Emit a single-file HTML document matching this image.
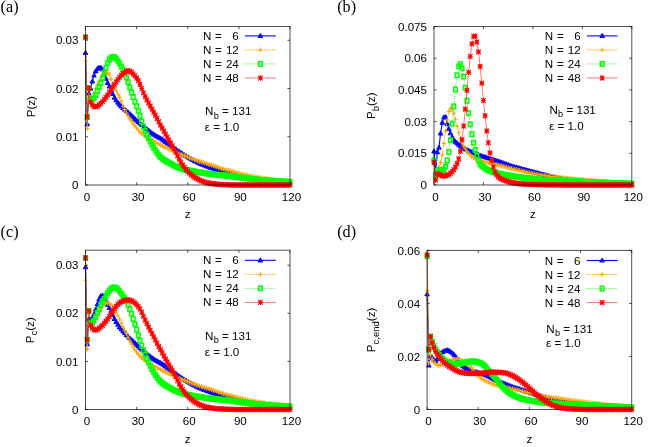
<!DOCTYPE html>
<html><head><meta charset="utf-8"><title>chart</title>
<style>html,body{margin:0;padding:0;background:#fff}svg{display:block;will-change:transform}text{font-family:"Liberation Sans",sans-serif;fill:#000}</style>
</head><body>
<svg width="649" height="447" viewBox="0 0 649 447">
<rect width="649" height="447" fill="#fff"/>
<text x="87.00" y="200.80" text-anchor="middle" font-size="11.6">0</text>
<text x="138.12" y="200.80" text-anchor="middle" font-size="11.6">30</text>
<text x="189.25" y="200.80" text-anchor="middle" font-size="11.6">60</text>
<text x="240.38" y="200.80" text-anchor="middle" font-size="11.6">90</text>
<text x="291.50" y="200.80" text-anchor="middle" font-size="11.6">120</text>
<text x="78.50" y="189.10" text-anchor="end" font-size="11.6">0</text>
<text x="78.50" y="140.87" text-anchor="end" font-size="11.6">0.01</text>
<text x="78.50" y="92.64" text-anchor="end" font-size="11.6">0.02</text>
<text x="78.50" y="44.41" text-anchor="end" font-size="11.6">0.03</text>
<path d="M85.50,185.0v-2.6M85.50,26.5v2.6M136.62,185.0v-2.6M136.62,26.5v2.6M187.75,185.0v-2.6M187.75,26.5v2.6M238.88,185.0v-2.6M238.88,26.5v2.6M290.00,185.0v-2.6M290.00,26.5v2.6M85.5,185.00h2.6M290.0,185.00h-2.6M85.5,136.77h2.6M290.0,136.77h-2.6M85.5,88.54h2.6M290.0,88.54h-2.6M85.5,40.31h2.6M290.0,40.31h-2.6" stroke="#000" stroke-opacity="0.72" stroke-width="0.95" fill="none"/>
<text x="187.75" y="218.20" text-anchor="middle" font-size="11.6">z</text>
<text transform="translate(34.9,106.65) rotate(-90)" text-anchor="middle" font-size="11.6">P(z)</text>
<text x="0.6" y="12.4" style="font-family:&quot;Liberation Serif&quot;,serif" font-size="16.2">(a)</text>
<text x="203.00" y="40.00" font-size="11.6" word-spacing="0.5">N =</text>
<text x="238.80" y="40.00" text-anchor="end" font-size="11.6">6</text>
<g stroke="#0000ff"><path d="M245.00,35.90H275.80" stroke-width="1.1" fill="none"/><g stroke-width="1.3" fill="#0000ff" fill-opacity="0.5" stroke-linejoin="round"><path d="M260.40,33.90L262.40,37.34L258.40,37.34Z"/></g></g>
<text x="203.00" y="54.03" font-size="11.6" word-spacing="0.5">N =</text>
<text x="238.80" y="54.03" text-anchor="end" font-size="11.6">12</text>
<g stroke="#ffa500"><path d="M245.00,49.93H275.80" stroke-width="0.9" stroke-dasharray="1.7,1.0" fill="none"/><g stroke-width="1.05" fill="none"><path d="M258.30,49.93H262.50M260.40,47.52V52.34"/></g></g>
<text x="203.00" y="68.06" font-size="11.6" word-spacing="0.5">N =</text>
<text x="238.80" y="68.06" text-anchor="end" font-size="11.6">24</text>
<g stroke="#00ff00"><path d="M245.00,63.96H275.80" stroke-width="0.9" stroke-dasharray="1,1.4" fill="none"/><g stroke-width="1.5" fill="none"><rect x="258.58" y="61.74" width="3.64" height="4.44"/></g></g>
<text x="203.00" y="82.09" font-size="11.6" word-spacing="0.5">N =</text>
<text x="238.80" y="82.09" text-anchor="end" font-size="11.6">48</text>
<g stroke="#ff0000"><path d="M245.00,77.99H275.80" stroke-width="0.55" fill="none"/><g stroke-width="1.15" fill="none" stroke-linecap="round"><path d="M258.50,77.99H262.30M260.40,75.90V80.08M258.50,75.90L262.30,80.08M258.50,80.08L262.30,75.90"/></g></g>
<text x="205.00" y="115.40" font-size="11.6">N<tspan font-size="9.28" dy="3.3" dx="0.3">b</tspan><tspan dy="-3.3"> = 131</tspan></text>
<text x="204.80" y="131.10" font-size="11.6">ε = 1.0</text>
<g stroke="#0000ff"><polyline points="85.50,52.80 87.20,124.23 88.91,93.36 90.61,88.54 92.32,81.31 94.02,75.52 95.72,71.18 97.43,68.77 99.13,67.56 100.84,67.80 102.54,69.25 104.25,73.11 105.95,78.69 107.65,82.86 109.36,86.29 111.06,89.99 112.77,94.03 114.47,97.60 116.17,100.28 117.88,102.56 119.58,104.56 121.29,106.39 122.99,108.03 124.70,109.50 126.40,110.90 128.10,112.35 129.81,113.92 131.51,115.54 133.22,117.17 134.92,118.80 136.62,120.37 138.33,121.90 140.03,123.41 141.74,124.88 143.44,126.30 145.15,127.72 146.85,129.13 148.55,130.53 150.26,131.89 151.96,133.19 153.67,134.40 155.37,135.52 157.07,136.47 158.78,137.33 160.48,138.27 162.19,139.36 163.89,140.55 165.60,141.81 167.30,143.10 169.00,144.39 170.71,145.65 172.41,146.88 174.12,148.12 175.82,149.35 177.52,150.56 179.23,151.72 180.93,152.85 182.64,153.95 184.34,155.02 186.05,156.06 187.75,157.08 189.45,158.07 191.16,159.05 192.86,159.99 194.57,160.90 196.27,161.75 197.97,162.55 199.68,163.31 201.38,164.04 203.09,164.74 204.79,165.42 206.50,166.08 208.20,166.72 209.90,167.34 211.61,167.94 213.31,168.51 215.02,169.04 216.72,169.55 218.42,170.04 220.13,170.53 221.83,171.01 223.54,171.50 225.24,171.98 226.95,172.46 228.65,172.94 230.35,173.43 232.06,173.92 233.76,174.43 235.47,174.93 237.17,175.40 238.88,175.84 240.58,176.23 242.28,176.62 243.99,176.98 245.69,177.34 247.40,177.68 249.10,178.01 250.80,178.32 252.51,178.63 254.21,178.93 255.92,179.21 257.62,179.49 259.32,179.77 261.03,180.03 262.73,180.29 264.44,180.54 266.14,180.78 267.85,181.01 269.55,181.23 271.25,181.44 272.96,181.62 274.66,181.80 276.37,181.98 278.07,182.14 279.77,182.30 281.48,182.45 283.18,182.60 284.89,182.73 286.59,182.85 288.30,182.97 290.00,183.07" stroke-width="1.1" fill="none"/><g stroke-width="1.3" fill="#0000ff" fill-opacity="0.5" stroke-linejoin="round"><path d="M85.50,50.80L87.50,54.24L83.50,54.24Z"/><path d="M87.20,122.23L89.20,125.67L85.20,125.67Z"/><path d="M88.91,91.36L90.91,94.80L86.91,94.80Z"/><path d="M90.61,86.54L92.61,89.98L88.61,89.98Z"/><path d="M92.32,79.31L94.32,82.75L90.32,82.75Z"/><path d="M94.02,73.52L96.02,76.96L92.02,76.96Z"/><path d="M95.72,69.18L97.72,72.62L93.72,72.62Z"/><path d="M97.43,66.77L99.43,70.21L95.43,70.21Z"/><path d="M99.13,65.56L101.13,69.00L97.13,69.00Z"/><path d="M100.84,65.80L102.84,69.24L98.84,69.24Z"/><path d="M102.54,67.25L104.54,70.69L100.54,70.69Z"/><path d="M104.25,71.11L106.25,74.55L102.25,74.55Z"/><path d="M105.95,76.69L107.95,80.13L103.95,80.13Z"/><path d="M107.65,80.86L109.65,84.30L105.65,84.30Z"/><path d="M109.36,84.29L111.36,87.73L107.36,87.73Z"/><path d="M111.06,87.99L113.06,91.43L109.06,91.43Z"/><path d="M112.77,92.03L114.77,95.47L110.77,95.47Z"/><path d="M114.47,95.60L116.47,99.04L112.47,99.04Z"/><path d="M116.17,98.28L118.17,101.72L114.17,101.72Z"/><path d="M117.88,100.56L119.88,104.00L115.88,104.00Z"/><path d="M119.58,102.56L121.58,106.00L117.58,106.00Z"/><path d="M121.29,104.39L123.29,107.83L119.29,107.83Z"/><path d="M122.99,106.03L124.99,109.47L120.99,109.47Z"/><path d="M124.70,107.50L126.70,110.94L122.70,110.94Z"/><path d="M126.40,108.90L128.40,112.34L124.40,112.34Z"/><path d="M128.10,110.35L130.10,113.79L126.10,113.79Z"/><path d="M129.81,111.92L131.81,115.36L127.81,115.36Z"/><path d="M131.51,113.54L133.51,116.98L129.51,116.98Z"/><path d="M133.22,115.17L135.22,118.61L131.22,118.61Z"/><path d="M134.92,116.80L136.92,120.24L132.92,120.24Z"/><path d="M136.62,118.37L138.62,121.81L134.62,121.81Z"/><path d="M138.33,119.90L140.33,123.34L136.33,123.34Z"/><path d="M140.03,121.41L142.03,124.85L138.03,124.85Z"/><path d="M141.74,122.88L143.74,126.32L139.74,126.32Z"/><path d="M143.44,124.30L145.44,127.74L141.44,127.74Z"/><path d="M145.15,125.72L147.15,129.16L143.15,129.16Z"/><path d="M146.85,127.13L148.85,130.57L144.85,130.57Z"/><path d="M148.55,128.53L150.55,131.97L146.55,131.97Z"/><path d="M150.26,129.89L152.26,133.33L148.26,133.33Z"/><path d="M151.96,131.19L153.96,134.63L149.96,134.63Z"/><path d="M153.67,132.40L155.67,135.84L151.67,135.84Z"/><path d="M155.37,133.52L157.37,136.96L153.37,136.96Z"/><path d="M157.07,134.47L159.07,137.91L155.07,137.91Z"/><path d="M158.78,135.33L160.78,138.77L156.78,138.77Z"/><path d="M160.48,136.27L162.48,139.71L158.48,139.71Z"/><path d="M162.19,137.36L164.19,140.80L160.19,140.80Z"/><path d="M163.89,138.55L165.89,141.99L161.89,141.99Z"/><path d="M165.60,139.81L167.60,143.25L163.60,143.25Z"/><path d="M167.30,141.10L169.30,144.54L165.30,144.54Z"/><path d="M169.00,142.39L171.00,145.83L167.00,145.83Z"/><path d="M170.71,143.65L172.71,147.09L168.71,147.09Z"/><path d="M172.41,144.88L174.41,148.32L170.41,148.32Z"/><path d="M174.12,146.12L176.12,149.56L172.12,149.56Z"/><path d="M175.82,147.35L177.82,150.79L173.82,150.79Z"/><path d="M177.52,148.56L179.52,152.00L175.52,152.00Z"/><path d="M179.23,149.72L181.23,153.16L177.23,153.16Z"/><path d="M180.93,150.85L182.93,154.29L178.93,154.29Z"/><path d="M182.64,151.95L184.64,155.39L180.64,155.39Z"/><path d="M184.34,153.02L186.34,156.46L182.34,156.46Z"/><path d="M186.05,154.06L188.05,157.50L184.05,157.50Z"/><path d="M187.75,155.08L189.75,158.52L185.75,158.52Z"/><path d="M189.45,156.07L191.45,159.51L187.45,159.51Z"/><path d="M191.16,157.05L193.16,160.49L189.16,160.49Z"/><path d="M192.86,157.99L194.86,161.43L190.86,161.43Z"/><path d="M194.57,158.90L196.57,162.34L192.57,162.34Z"/><path d="M196.27,159.75L198.27,163.19L194.27,163.19Z"/><path d="M197.97,160.55L199.97,163.99L195.97,163.99Z"/><path d="M199.68,161.31L201.68,164.75L197.68,164.75Z"/><path d="M201.38,162.04L203.38,165.48L199.38,165.48Z"/><path d="M203.09,162.74L205.09,166.18L201.09,166.18Z"/><path d="M204.79,163.42L206.79,166.86L202.79,166.86Z"/><path d="M206.50,164.08L208.50,167.52L204.50,167.52Z"/><path d="M208.20,164.72L210.20,168.16L206.20,168.16Z"/><path d="M209.90,165.34L211.90,168.78L207.90,168.78Z"/><path d="M211.61,165.94L213.61,169.38L209.61,169.38Z"/><path d="M213.31,166.51L215.31,169.95L211.31,169.95Z"/><path d="M215.02,167.04L217.02,170.48L213.02,170.48Z"/><path d="M216.72,167.55L218.72,170.99L214.72,170.99Z"/><path d="M218.42,168.04L220.42,171.48L216.42,171.48Z"/><path d="M220.13,168.53L222.13,171.97L218.13,171.97Z"/><path d="M221.83,169.01L223.83,172.45L219.83,172.45Z"/><path d="M223.54,169.50L225.54,172.94L221.54,172.94Z"/><path d="M225.24,169.98L227.24,173.42L223.24,173.42Z"/><path d="M226.95,170.46L228.95,173.90L224.95,173.90Z"/><path d="M228.65,170.94L230.65,174.38L226.65,174.38Z"/><path d="M230.35,171.43L232.35,174.87L228.35,174.87Z"/><path d="M232.06,171.92L234.06,175.36L230.06,175.36Z"/><path d="M233.76,172.43L235.76,175.87L231.76,175.87Z"/><path d="M235.47,172.93L237.47,176.37L233.47,176.37Z"/><path d="M237.17,173.40L239.17,176.84L235.17,176.84Z"/><path d="M238.88,173.84L240.88,177.28L236.88,177.28Z"/><path d="M240.58,174.23L242.58,177.67L238.58,177.67Z"/><path d="M242.28,174.62L244.28,178.06L240.28,178.06Z"/><path d="M243.99,174.98L245.99,178.42L241.99,178.42Z"/><path d="M245.69,175.34L247.69,178.78L243.69,178.78Z"/><path d="M247.40,175.68L249.40,179.12L245.40,179.12Z"/><path d="M249.10,176.01L251.10,179.45L247.10,179.45Z"/><path d="M250.80,176.32L252.80,179.76L248.80,179.76Z"/><path d="M252.51,176.63L254.51,180.07L250.51,180.07Z"/><path d="M254.21,176.93L256.21,180.37L252.21,180.37Z"/><path d="M255.92,177.21L257.92,180.65L253.92,180.65Z"/><path d="M257.62,177.49L259.62,180.93L255.62,180.93Z"/><path d="M259.32,177.77L261.32,181.21L257.32,181.21Z"/><path d="M261.03,178.03L263.03,181.47L259.03,181.47Z"/><path d="M262.73,178.29L264.73,181.73L260.73,181.73Z"/><path d="M264.44,178.54L266.44,181.98L262.44,181.98Z"/><path d="M266.14,178.78L268.14,182.22L264.14,182.22Z"/><path d="M267.85,179.01L269.85,182.45L265.85,182.45Z"/><path d="M269.55,179.23L271.55,182.67L267.55,182.67Z"/><path d="M271.25,179.44L273.25,182.88L269.25,182.88Z"/><path d="M272.96,179.62L274.96,183.06L270.96,183.06Z"/><path d="M274.66,179.80L276.66,183.24L272.66,183.24Z"/><path d="M276.37,179.98L278.37,183.42L274.37,183.42Z"/><path d="M278.07,180.14L280.07,183.58L276.07,183.58Z"/><path d="M279.77,180.30L281.77,183.74L277.77,183.74Z"/><path d="M281.48,180.45L283.48,183.89L279.48,183.89Z"/><path d="M283.18,180.60L285.18,184.04L281.18,184.04Z"/><path d="M284.89,180.73L286.89,184.17L282.89,184.17Z"/><path d="M286.59,180.85L288.59,184.29L284.59,184.29Z"/><path d="M288.30,180.97L290.30,184.41L286.30,184.41Z"/><path d="M290.00,181.07L292.00,184.51L288.00,184.51Z"/></g></g>
<g stroke="#ffa500"><polyline points="85.50,60.91 87.20,128.57 88.91,95.78 90.61,100.60 92.32,98.31 94.02,93.34 95.72,88.54 97.43,84.79 99.13,81.18 100.84,77.93 102.54,74.72 104.25,72.63 105.95,72.14 107.65,72.89 109.36,74.81 111.06,79.14 112.77,83.82 114.47,87.43 116.17,90.82 117.88,94.16 119.58,97.36 121.29,101.32 122.99,105.90 124.70,109.64 126.40,113.03 128.10,116.09 129.81,118.83 131.51,121.34 133.22,123.66 134.92,125.85 136.62,127.97 138.33,130.02 140.03,131.89 141.74,133.49 143.44,134.86 145.15,136.10 146.85,137.24 148.55,138.30 150.26,139.31 151.96,140.29 153.67,141.25 155.37,142.22 157.07,143.18 158.78,144.09 160.48,144.97 162.19,145.82 163.89,146.64 165.60,147.44 167.30,148.23 169.00,149.01 170.71,149.79 172.41,150.58 174.12,151.37 175.82,152.15 177.52,152.91 179.23,153.65 180.93,154.36 182.64,155.03 184.34,155.70 186.05,156.36 187.75,157.03 189.45,157.72 191.16,158.42 192.86,159.11 194.57,159.78 196.27,160.40 197.97,160.97 199.68,161.51 201.38,162.03 203.09,162.54 204.79,163.06 206.50,163.58 208.20,164.11 209.90,164.63 211.61,165.16 213.31,165.71 215.02,166.28 216.72,166.87 218.42,167.47 220.13,168.05 221.83,168.60 223.54,169.11 225.24,169.60 226.95,170.07 228.65,170.54 230.35,171.01 232.06,171.51 233.76,172.01 235.47,172.51 237.17,172.98 238.88,173.43 240.58,173.84 242.28,174.24 243.99,174.63 245.69,175.01 247.40,175.38 249.10,175.73 250.80,176.08 252.51,176.41 254.21,176.73 255.92,177.04 257.62,177.35 259.32,177.65 261.03,177.94 262.73,178.23 264.44,178.51 266.14,178.77 267.85,179.03 269.55,179.27 271.25,179.49 272.96,179.69 274.66,179.89 276.37,180.07 278.07,180.25 279.77,180.42 281.48,180.59 283.18,180.74 284.89,180.88 286.59,181.01 288.30,181.13 290.00,181.24" stroke-width="0.9" stroke-dasharray="1.7,1.0" fill="none"/><g stroke-width="1.05" fill="none"><path d="M83.40,60.91H87.60M85.50,58.49V63.32"/><path d="M85.10,128.57H89.30M87.20,126.16V130.99"/><path d="M86.81,95.78H91.01M88.91,93.36V98.19"/><path d="M88.51,100.60H92.71M90.61,98.18V103.01"/><path d="M90.22,98.31H94.42M92.32,95.89V100.72"/><path d="M91.92,93.34H96.12M94.02,90.93V95.76"/><path d="M93.62,88.54H97.82M95.72,86.13V90.96"/><path d="M95.33,84.79H99.53M97.43,82.37V87.20"/><path d="M97.03,81.18H101.23M99.13,78.77V83.60"/><path d="M98.74,77.93H102.94M100.84,75.52V80.35"/><path d="M100.44,74.72H104.64M102.54,72.30V77.13"/><path d="M102.15,72.63H106.35M104.25,70.21V75.04"/><path d="M103.85,72.14H108.05M105.95,69.73V74.56"/><path d="M105.55,72.89H109.75M107.65,70.47V75.30"/><path d="M107.26,74.81H111.46M109.36,72.39V77.22"/><path d="M108.96,79.14H113.16M111.06,76.72V81.55"/><path d="M110.67,83.82H114.87M112.77,81.40V86.23"/><path d="M112.37,87.43H116.57M114.47,85.02V89.85"/><path d="M114.08,90.82H118.27M116.17,88.41V93.24"/><path d="M115.78,94.16H119.98M117.88,91.74V96.57"/><path d="M117.48,97.36H121.68M119.58,94.95V99.78"/><path d="M119.19,101.32H123.39M121.29,98.91V103.74"/><path d="M120.89,105.90H125.09M122.99,103.49V108.32"/><path d="M122.60,109.64H126.80M124.70,107.23V112.06"/><path d="M124.30,113.03H128.50M126.40,110.62V115.45"/><path d="M126.00,116.09H130.20M128.10,113.67V118.50"/><path d="M127.71,118.83H131.91M129.81,116.42V121.25"/><path d="M129.41,121.34H133.61M131.51,118.93V123.76"/><path d="M131.12,123.66H135.32M133.22,121.25V126.08"/><path d="M132.82,125.85H137.02M134.92,123.44V128.27"/><path d="M134.53,127.97H138.72M136.62,125.56V130.39"/><path d="M136.23,130.02H140.43M138.33,127.60V132.43"/><path d="M137.93,131.89H142.13M140.03,129.48V134.31"/><path d="M139.64,133.49H143.84M141.74,131.08V135.91"/><path d="M141.34,134.86H145.54M143.44,132.44V137.27"/><path d="M143.05,136.10H147.25M145.15,133.68V138.51"/><path d="M144.75,137.24H148.95M146.85,134.83V139.66"/><path d="M146.45,138.30H150.65M148.55,135.89V140.72"/><path d="M148.16,139.31H152.36M150.26,136.90V141.73"/><path d="M149.86,140.29H154.06M151.96,137.87V142.70"/><path d="M151.57,141.25H155.77M153.67,138.83V143.66"/><path d="M153.27,142.22H157.47M155.37,139.81V144.64"/><path d="M154.97,143.18H159.17M157.07,140.76V145.59"/><path d="M156.68,144.09H160.88M158.78,141.68V146.51"/><path d="M158.38,144.97H162.58M160.48,142.55V147.38"/><path d="M160.09,145.82H164.29M162.19,143.40V148.23"/><path d="M161.79,146.64H165.99M163.89,144.22V149.05"/><path d="M163.50,147.44H167.70M165.60,145.02V149.85"/><path d="M165.20,148.23H169.40M167.30,145.81V150.64"/><path d="M166.90,149.01H171.10M169.00,146.59V151.42"/><path d="M168.61,149.79H172.81M170.71,147.38V152.21"/><path d="M170.31,150.58H174.51M172.41,148.17V153.00"/><path d="M172.02,151.37H176.22M174.12,148.96V153.79"/><path d="M173.72,152.15H177.92M175.82,149.74V154.57"/><path d="M175.42,152.91H179.62M177.52,150.50V155.33"/><path d="M177.13,153.65H181.33M179.23,151.24V156.07"/><path d="M178.83,154.36H183.03M180.93,151.94V156.77"/><path d="M180.54,155.03H184.74M182.64,152.62V157.45"/><path d="M182.24,155.70H186.44M184.34,153.28V158.11"/><path d="M183.95,156.36H188.15M186.05,153.94V158.77"/><path d="M185.65,157.03H189.85M187.75,154.61V159.44"/><path d="M187.35,157.72H191.55M189.45,155.30V160.13"/><path d="M189.06,158.42H193.26M191.16,156.00V160.83"/><path d="M190.76,159.11H194.96M192.86,156.70V161.53"/><path d="M192.47,159.78H196.67M194.57,157.36V162.19"/><path d="M194.17,160.40H198.37M196.27,157.99V162.82"/><path d="M195.88,160.97H200.07M197.97,158.56V163.39"/><path d="M197.58,161.51H201.78M199.68,159.10V163.93"/><path d="M199.28,162.03H203.48M201.38,159.61V164.44"/><path d="M200.99,162.54H205.19M203.09,160.12V164.95"/><path d="M202.69,163.06H206.89M204.79,160.64V165.47"/><path d="M204.40,163.58H208.60M206.50,161.17V166.00"/><path d="M206.10,164.11H210.30M208.20,161.69V166.52"/><path d="M207.80,164.63H212.00M209.90,162.22V167.05"/><path d="M209.51,165.16H213.71M211.61,162.75V167.58"/><path d="M211.21,165.71H215.41M213.31,163.29V168.12"/><path d="M212.92,166.28H217.12M215.02,163.86V168.69"/><path d="M214.62,166.87H218.82M216.72,164.46V169.29"/><path d="M216.32,167.47H220.52M218.42,165.06V169.89"/><path d="M218.03,168.05H222.23M220.13,165.64V170.47"/><path d="M219.73,168.60H223.93M221.83,166.19V171.02"/><path d="M221.44,169.11H225.64M223.54,166.70V171.53"/><path d="M223.14,169.60H227.34M225.24,167.18V172.01"/><path d="M224.85,170.07H229.05M226.95,167.66V172.49"/><path d="M226.55,170.54H230.75M228.65,168.12V172.95"/><path d="M228.25,171.01H232.45M230.35,168.60V173.43"/><path d="M229.96,171.51H234.16M232.06,169.09V173.92"/><path d="M231.66,172.01H235.86M233.76,169.59V174.42"/><path d="M233.37,172.51H237.57M235.47,170.09V174.92"/><path d="M235.07,172.98H239.27M237.17,170.57V175.40"/><path d="M236.78,173.43H240.97M238.88,171.01V175.84"/><path d="M238.48,173.84H242.68M240.58,171.42V176.25"/><path d="M240.18,174.24H244.38M242.28,171.83V176.66"/><path d="M241.89,174.63H246.09M243.99,172.22V177.05"/><path d="M243.59,175.01H247.79M245.69,172.59V177.42"/><path d="M245.30,175.38H249.50M247.40,172.96V177.79"/><path d="M247.00,175.73H251.20M249.10,173.32V178.15"/><path d="M248.70,176.08H252.90M250.80,173.66V178.49"/><path d="M250.41,176.41H254.61M252.51,173.99V178.82"/><path d="M252.11,176.73H256.31M254.21,174.32V179.15"/><path d="M253.82,177.04H258.02M255.92,174.63V179.46"/><path d="M255.52,177.35H259.72M257.62,174.93V179.76"/><path d="M257.22,177.65H261.43M259.32,175.23V180.06"/><path d="M258.93,177.94H263.13M261.03,175.53V180.36"/><path d="M260.63,178.23H264.83M262.73,175.81V180.64"/><path d="M262.34,178.51H266.54M264.44,176.09V180.92"/><path d="M264.04,178.77H268.24M266.14,176.36V181.19"/><path d="M265.75,179.03H269.95M267.85,176.61V181.44"/><path d="M267.45,179.27H271.65M269.55,176.85V181.68"/><path d="M269.15,179.49H273.35M271.25,177.08V181.91"/><path d="M270.86,179.69H275.06M272.96,177.28V182.11"/><path d="M272.56,179.89H276.76M274.66,177.47V182.30"/><path d="M274.27,180.07H278.47M276.37,177.66V182.49"/><path d="M275.97,180.25H280.17M278.07,177.84V182.67"/><path d="M277.67,180.42H281.88M279.77,178.01V182.84"/><path d="M279.38,180.59H283.58M281.48,178.17V183.00"/><path d="M281.08,180.74H285.28M283.18,178.32V183.15"/><path d="M282.79,180.88H286.99M284.89,178.47V183.30"/><path d="M284.49,181.01H288.69M286.59,178.60V183.43"/><path d="M286.20,181.13H290.40M288.30,178.72V183.55"/><path d="M287.90,181.24H292.10M290.00,178.82V183.65"/></g></g>
<g stroke="#00ff00"><polyline points="85.50,37.27 87.20,117.00 88.91,88.06 90.61,99.63 92.32,99.22 94.02,98.19 95.72,94.92 97.43,90.81 99.13,87.09 100.84,83.19 102.54,78.21 104.25,72.89 105.95,67.80 107.65,63.06 109.36,59.60 111.06,57.75 112.77,56.90 114.47,57.19 116.17,58.64 117.88,60.79 119.58,63.46 121.29,66.44 122.99,69.77 124.70,73.44 126.40,77.45 128.10,82.18 129.81,87.44 131.51,92.39 133.22,97.09 134.92,101.71 136.62,106.18 138.33,110.82 140.03,116.07 141.74,121.64 143.44,126.61 145.15,130.84 146.85,134.68 148.55,138.22 150.26,141.54 151.96,144.67 153.67,147.59 155.37,150.28 157.07,152.83 158.78,155.19 160.48,157.08 162.19,158.52 163.89,159.78 165.60,160.89 167.30,161.90 169.00,162.85 170.71,163.78 172.41,164.70 174.12,165.59 175.82,166.42 177.52,167.17 179.23,167.83 180.93,168.41 182.64,168.93 184.34,169.41 186.05,169.84 187.75,170.24 189.45,170.61 191.16,170.94 192.86,171.25 194.57,171.54 196.27,171.83 197.97,172.12 199.68,172.40 201.38,172.67 203.09,172.93 204.79,173.18 206.50,173.42 208.20,173.65 209.90,173.88 211.61,174.09 213.31,174.29 215.02,174.49 216.72,174.67 218.42,174.85 220.13,175.03 221.83,175.21 223.54,175.39 225.24,175.57 226.95,175.74 228.65,175.93 230.35,176.13 232.06,176.34 233.76,176.57 235.47,176.81 237.17,177.05 238.88,177.28 240.58,177.51 242.28,177.74 243.99,177.97 245.69,178.20 247.40,178.43 249.10,178.66 250.80,178.87 252.51,179.08 254.21,179.27 255.92,179.45 257.62,179.62 259.32,179.79 261.03,179.94 262.73,180.10 264.44,180.24 266.14,180.38 267.85,180.52 269.55,180.65 271.25,180.78 272.96,180.90 274.66,181.02 276.37,181.14 278.07,181.25 279.77,181.37 281.48,181.48 283.18,181.58 284.89,181.68 286.59,181.78 288.30,181.87 290.00,181.96" stroke-width="0.9" stroke-dasharray="1,1.4" fill="none"/><g stroke-width="1.5" fill="none"><rect x="83.68" y="35.05" width="3.64" height="4.44"/><rect x="85.38" y="114.78" width="3.64" height="4.44"/><rect x="87.09" y="85.84" width="3.64" height="4.44"/><rect x="88.79" y="97.41" width="3.64" height="4.44"/><rect x="90.50" y="97.00" width="3.64" height="4.44"/><rect x="92.20" y="95.97" width="3.64" height="4.44"/><rect x="93.91" y="92.70" width="3.64" height="4.44"/><rect x="95.61" y="88.59" width="3.64" height="4.44"/><rect x="97.31" y="84.87" width="3.64" height="4.44"/><rect x="99.02" y="80.97" width="3.64" height="4.44"/><rect x="100.72" y="75.99" width="3.64" height="4.44"/><rect x="102.43" y="70.67" width="3.64" height="4.44"/><rect x="104.13" y="65.58" width="3.64" height="4.44"/><rect x="105.83" y="60.84" width="3.64" height="4.44"/><rect x="107.54" y="57.38" width="3.64" height="4.44"/><rect x="109.24" y="55.53" width="3.64" height="4.44"/><rect x="110.95" y="54.68" width="3.64" height="4.44"/><rect x="112.65" y="54.97" width="3.64" height="4.44"/><rect x="114.36" y="56.42" width="3.64" height="4.44"/><rect x="116.06" y="58.57" width="3.64" height="4.44"/><rect x="117.76" y="61.24" width="3.64" height="4.44"/><rect x="119.47" y="64.22" width="3.64" height="4.44"/><rect x="121.17" y="67.55" width="3.64" height="4.44"/><rect x="122.88" y="71.22" width="3.64" height="4.44"/><rect x="124.58" y="75.23" width="3.64" height="4.44"/><rect x="126.28" y="79.96" width="3.64" height="4.44"/><rect x="127.99" y="85.21" width="3.64" height="4.44"/><rect x="129.69" y="90.17" width="3.64" height="4.44"/><rect x="131.40" y="94.87" width="3.64" height="4.44"/><rect x="133.10" y="99.49" width="3.64" height="4.44"/><rect x="134.81" y="103.96" width="3.64" height="4.44"/><rect x="136.51" y="108.60" width="3.64" height="4.44"/><rect x="138.21" y="113.85" width="3.64" height="4.44"/><rect x="139.92" y="119.42" width="3.64" height="4.44"/><rect x="141.62" y="124.39" width="3.64" height="4.44"/><rect x="143.33" y="128.62" width="3.64" height="4.44"/><rect x="145.03" y="132.46" width="3.64" height="4.44"/><rect x="146.73" y="136.00" width="3.64" height="4.44"/><rect x="148.44" y="139.32" width="3.64" height="4.44"/><rect x="150.14" y="142.45" width="3.64" height="4.44"/><rect x="151.85" y="145.37" width="3.64" height="4.44"/><rect x="153.55" y="148.05" width="3.64" height="4.44"/><rect x="155.25" y="150.61" width="3.64" height="4.44"/><rect x="156.96" y="152.97" width="3.64" height="4.44"/><rect x="158.66" y="154.85" width="3.64" height="4.44"/><rect x="160.37" y="156.30" width="3.64" height="4.44"/><rect x="162.07" y="157.56" width="3.64" height="4.44"/><rect x="163.78" y="158.67" width="3.64" height="4.44"/><rect x="165.48" y="159.68" width="3.64" height="4.44"/><rect x="167.18" y="160.63" width="3.64" height="4.44"/><rect x="168.89" y="161.56" width="3.64" height="4.44"/><rect x="170.59" y="162.48" width="3.64" height="4.44"/><rect x="172.30" y="163.37" width="3.64" height="4.44"/><rect x="174.00" y="164.20" width="3.64" height="4.44"/><rect x="175.70" y="164.95" width="3.64" height="4.44"/><rect x="177.41" y="165.61" width="3.64" height="4.44"/><rect x="179.11" y="166.19" width="3.64" height="4.44"/><rect x="180.82" y="166.71" width="3.64" height="4.44"/><rect x="182.52" y="167.19" width="3.64" height="4.44"/><rect x="184.23" y="167.62" width="3.64" height="4.44"/><rect x="185.93" y="168.02" width="3.64" height="4.44"/><rect x="187.63" y="168.39" width="3.64" height="4.44"/><rect x="189.34" y="168.72" width="3.64" height="4.44"/><rect x="191.04" y="169.03" width="3.64" height="4.44"/><rect x="192.75" y="169.32" width="3.64" height="4.44"/><rect x="194.45" y="169.61" width="3.64" height="4.44"/><rect x="196.16" y="169.90" width="3.64" height="4.44"/><rect x="197.86" y="170.18" width="3.64" height="4.44"/><rect x="199.56" y="170.45" width="3.64" height="4.44"/><rect x="201.27" y="170.71" width="3.64" height="4.44"/><rect x="202.97" y="170.96" width="3.64" height="4.44"/><rect x="204.68" y="171.20" width="3.64" height="4.44"/><rect x="206.38" y="171.43" width="3.64" height="4.44"/><rect x="208.08" y="171.65" width="3.64" height="4.44"/><rect x="209.79" y="171.87" width="3.64" height="4.44"/><rect x="211.49" y="172.07" width="3.64" height="4.44"/><rect x="213.20" y="172.27" width="3.64" height="4.44"/><rect x="214.90" y="172.45" width="3.64" height="4.44"/><rect x="216.60" y="172.63" width="3.64" height="4.44"/><rect x="218.31" y="172.81" width="3.64" height="4.44"/><rect x="220.01" y="172.99" width="3.64" height="4.44"/><rect x="221.72" y="173.17" width="3.64" height="4.44"/><rect x="223.42" y="173.35" width="3.64" height="4.44"/><rect x="225.13" y="173.52" width="3.64" height="4.44"/><rect x="226.83" y="173.71" width="3.64" height="4.44"/><rect x="228.53" y="173.91" width="3.64" height="4.44"/><rect x="230.24" y="174.12" width="3.64" height="4.44"/><rect x="231.94" y="174.35" width="3.64" height="4.44"/><rect x="233.65" y="174.59" width="3.64" height="4.44"/><rect x="235.35" y="174.83" width="3.64" height="4.44"/><rect x="237.06" y="175.06" width="3.64" height="4.44"/><rect x="238.76" y="175.29" width="3.64" height="4.44"/><rect x="240.46" y="175.52" width="3.64" height="4.44"/><rect x="242.17" y="175.75" width="3.64" height="4.44"/><rect x="243.87" y="175.98" width="3.64" height="4.44"/><rect x="245.58" y="176.21" width="3.64" height="4.44"/><rect x="247.28" y="176.44" width="3.64" height="4.44"/><rect x="248.98" y="176.65" width="3.64" height="4.44"/><rect x="250.69" y="176.86" width="3.64" height="4.44"/><rect x="252.39" y="177.05" width="3.64" height="4.44"/><rect x="254.10" y="177.23" width="3.64" height="4.44"/><rect x="255.80" y="177.40" width="3.64" height="4.44"/><rect x="257.50" y="177.57" width="3.64" height="4.44"/><rect x="259.21" y="177.72" width="3.64" height="4.44"/><rect x="260.91" y="177.88" width="3.64" height="4.44"/><rect x="262.62" y="178.02" width="3.64" height="4.44"/><rect x="264.32" y="178.16" width="3.64" height="4.44"/><rect x="266.03" y="178.30" width="3.64" height="4.44"/><rect x="267.73" y="178.43" width="3.64" height="4.44"/><rect x="269.43" y="178.56" width="3.64" height="4.44"/><rect x="271.14" y="178.68" width="3.64" height="4.44"/><rect x="272.84" y="178.80" width="3.64" height="4.44"/><rect x="274.55" y="178.92" width="3.64" height="4.44"/><rect x="276.25" y="179.03" width="3.64" height="4.44"/><rect x="277.95" y="179.15" width="3.64" height="4.44"/><rect x="279.66" y="179.26" width="3.64" height="4.44"/><rect x="281.36" y="179.36" width="3.64" height="4.44"/><rect x="283.07" y="179.46" width="3.64" height="4.44"/><rect x="284.77" y="179.56" width="3.64" height="4.44"/><rect x="286.48" y="179.65" width="3.64" height="4.44"/><rect x="288.18" y="179.74" width="3.64" height="4.44"/></g></g>
<g stroke="#ff0000"><polyline points="85.50,37.27 87.20,117.00 88.91,88.06 90.61,102.05 92.32,104.83 94.02,106.42 95.72,106.86 97.43,106.21 99.13,104.83 100.84,103.19 102.54,101.54 104.25,99.56 105.95,97.37 107.65,94.92 109.36,92.25 111.06,89.63 112.77,87.02 114.47,84.46 116.17,81.95 117.88,79.48 119.58,77.27 121.29,75.22 122.99,73.59 124.70,72.30 126.40,71.24 128.10,70.79 129.81,71.21 131.51,72.32 133.22,73.93 134.92,75.87 136.62,77.93 138.33,80.64 140.03,84.32 141.74,88.50 143.44,92.72 145.15,96.50 146.85,99.82 148.55,103.00 150.26,106.09 151.96,109.13 153.67,112.19 155.37,115.31 157.07,118.50 158.78,121.72 160.48,124.93 162.19,128.09 163.89,131.19 165.60,134.26 167.30,137.29 169.00,140.25 170.71,143.07 172.41,145.86 174.12,148.83 175.82,152.24 177.52,155.91 179.23,159.37 180.93,162.28 182.64,164.94 184.34,167.40 186.05,169.60 187.75,171.50 189.45,173.15 191.16,174.64 192.86,175.99 194.57,177.19 196.27,178.25 197.97,179.20 199.68,180.09 201.38,180.88 203.09,181.56 204.79,182.11 206.50,182.55 208.20,182.94 209.90,183.28 211.61,183.56 213.31,183.79 215.02,183.99 216.72,184.16 218.42,184.31 220.13,184.43 221.83,184.52 223.54,184.59 225.24,184.67 226.95,184.73 228.65,184.80 230.35,184.85 232.06,184.90 233.76,184.94 235.47,184.97 237.17,184.99 238.88,185.00 240.58,185.00 242.28,185.00 243.99,185.00 245.69,185.00 247.40,185.00 249.10,185.00 250.80,185.00 252.51,185.00 254.21,185.00 255.92,185.00 257.62,185.00 259.32,185.00 261.03,185.00 262.73,185.00 264.44,185.00 266.14,185.00 267.85,185.00 269.55,185.00 271.25,185.00 272.96,185.00 274.66,185.00 276.37,185.00 278.07,185.00 279.77,185.00 281.48,185.00 283.18,185.00 284.89,185.00 286.59,185.00 288.30,185.00 290.00,185.00" stroke-width="0.55" fill="none"/><g stroke-width="1.15" fill="none" stroke-linecap="round"><path d="M83.60,37.27H87.40M85.50,35.18V39.36M83.60,35.18L87.40,39.36M83.60,39.36L87.40,35.18"/><path d="M85.30,117.00H89.10M87.20,114.91V119.09M85.30,114.91L89.10,119.09M85.30,119.09L89.10,114.91"/><path d="M87.01,88.06H90.81M88.91,85.97V90.15M87.01,85.97L90.81,90.15M87.01,90.15L90.81,85.97"/><path d="M88.71,102.05H92.51M90.61,99.96V104.14M88.71,99.96L92.51,104.14M88.71,104.14L92.51,99.96"/><path d="M90.42,104.83H94.22M92.32,102.74V106.92M90.42,102.74L94.22,106.92M90.42,106.92L94.22,102.74"/><path d="M92.12,106.42H95.92M94.02,104.33V108.51M92.12,104.33L95.92,108.51M92.12,108.51L95.92,104.33"/><path d="M93.82,106.86H97.62M95.72,104.77V108.95M93.82,104.77L97.62,108.95M93.82,108.95L97.62,104.77"/><path d="M95.53,106.21H99.33M97.43,104.12V108.30M95.53,104.12L99.33,108.30M95.53,108.30L99.33,104.12"/><path d="M97.23,104.83H101.03M99.13,102.74V106.92M97.23,102.74L101.03,106.92M97.23,106.92L101.03,102.74"/><path d="M98.94,103.19H102.74M100.84,101.10V105.28M98.94,101.10L102.74,105.28M98.94,105.28L102.74,101.10"/><path d="M100.64,101.54H104.44M102.54,99.45V103.63M100.64,99.45L104.44,103.63M100.64,103.63L104.44,99.45"/><path d="M102.35,99.56H106.15M104.25,97.47V101.65M102.35,97.47L106.15,101.65M102.35,101.65L106.15,97.47"/><path d="M104.05,97.37H107.85M105.95,95.28V99.46M104.05,95.28L107.85,99.46M104.05,99.46L107.85,95.28"/><path d="M105.75,94.92H109.55M107.65,92.83V97.01M105.75,92.83L109.55,97.01M105.75,97.01L109.55,92.83"/><path d="M107.46,92.25H111.26M109.36,90.16V94.34M107.46,90.16L111.26,94.34M107.46,94.34L111.26,90.16"/><path d="M109.16,89.63H112.96M111.06,87.54V91.72M109.16,87.54L112.96,91.72M109.16,91.72L112.96,87.54"/><path d="M110.87,87.02H114.67M112.77,84.93V89.11M110.87,84.93L114.67,89.11M110.87,89.11L114.67,84.93"/><path d="M112.57,84.46H116.37M114.47,82.37V86.55M112.57,82.37L116.37,86.55M112.57,86.55L116.37,82.37"/><path d="M114.27,81.95H118.08M116.17,79.86V84.04M114.27,79.86L118.08,84.04M114.27,84.04L118.08,79.86"/><path d="M115.98,79.48H119.78M117.88,77.39V81.57M115.98,77.39L119.78,81.57M115.98,81.57L119.78,77.39"/><path d="M117.68,77.27H121.48M119.58,75.18V79.36M117.68,75.18L121.48,79.36M117.68,79.36L121.48,75.18"/><path d="M119.39,75.22H123.19M121.29,73.13V77.31M119.39,73.13L123.19,77.31M119.39,77.31L123.19,73.13"/><path d="M121.09,73.59H124.89M122.99,71.50V75.68M121.09,71.50L124.89,75.68M121.09,75.68L124.89,71.50"/><path d="M122.80,72.30H126.60M124.70,70.21V74.39M122.80,70.21L126.60,74.39M122.80,74.39L126.60,70.21"/><path d="M124.50,71.24H128.30M126.40,69.15V73.33M124.50,69.15L128.30,73.33M124.50,73.33L128.30,69.15"/><path d="M126.20,70.79H130.00M128.10,68.70V72.88M126.20,68.70L130.00,72.88M126.20,72.88L130.00,68.70"/><path d="M127.91,71.21H131.71M129.81,69.12V73.30M127.91,69.12L131.71,73.30M127.91,73.30L131.71,69.12"/><path d="M129.61,72.32H133.41M131.51,70.23V74.41M129.61,70.23L133.41,74.41M129.61,74.41L133.41,70.23"/><path d="M131.32,73.93H135.12M133.22,71.84V76.02M131.32,71.84L135.12,76.02M131.32,76.02L135.12,71.84"/><path d="M133.02,75.87H136.82M134.92,73.78V77.96M133.02,73.78L136.82,77.96M133.02,77.96L136.82,73.78"/><path d="M134.72,77.93H138.53M136.62,75.84V80.02M134.72,75.84L138.53,80.02M134.72,80.02L138.53,75.84"/><path d="M136.43,80.64H140.23M138.33,78.55V82.73M136.43,78.55L140.23,82.73M136.43,82.73L140.23,78.55"/><path d="M138.13,84.32H141.93M140.03,82.23V86.41M138.13,82.23L141.93,86.41M138.13,86.41L141.93,82.23"/><path d="M139.84,88.50H143.64M141.74,86.41V90.59M139.84,86.41L143.64,90.59M139.84,90.59L143.64,86.41"/><path d="M141.54,92.72H145.34M143.44,90.63V94.81M141.54,90.63L145.34,94.81M141.54,94.81L145.34,90.63"/><path d="M143.25,96.50H147.05M145.15,94.41V98.59M143.25,94.41L147.05,98.59M143.25,98.59L147.05,94.41"/><path d="M144.95,99.82H148.75M146.85,97.73V101.91M144.95,97.73L148.75,101.91M144.95,101.91L148.75,97.73"/><path d="M146.65,103.00H150.45M148.55,100.91V105.09M146.65,100.91L150.45,105.09M146.65,105.09L150.45,100.91"/><path d="M148.36,106.09H152.16M150.26,104.00V108.18M148.36,104.00L152.16,108.18M148.36,108.18L152.16,104.00"/><path d="M150.06,109.13H153.86M151.96,107.04V111.22M150.06,107.04L153.86,111.22M150.06,111.22L153.86,107.04"/><path d="M151.77,112.19H155.57M153.67,110.10V114.28M151.77,110.10L155.57,114.28M151.77,114.28L155.57,110.10"/><path d="M153.47,115.31H157.27M155.37,113.22V117.40M153.47,113.22L157.27,117.40M153.47,117.40L157.27,113.22"/><path d="M155.17,118.50H158.97M157.07,116.41V120.59M155.17,116.41L158.97,120.59M155.17,120.59L158.97,116.41"/><path d="M156.88,121.72H160.68M158.78,119.63V123.81M156.88,119.63L160.68,123.81M156.88,123.81L160.68,119.63"/><path d="M158.58,124.93H162.38M160.48,122.84V127.02M158.58,122.84L162.38,127.02M158.58,127.02L162.38,122.84"/><path d="M160.29,128.09H164.09M162.19,126.00V130.18M160.29,126.00L164.09,130.18M160.29,130.18L164.09,126.00"/><path d="M161.99,131.19H165.79M163.89,129.10V133.28M161.99,129.10L165.79,133.28M161.99,133.28L165.79,129.10"/><path d="M163.70,134.26H167.50M165.60,132.17V136.35M163.70,132.17L167.50,136.35M163.70,136.35L167.50,132.17"/><path d="M165.40,137.29H169.20M167.30,135.20V139.38M165.40,135.20L169.20,139.38M165.40,139.38L169.20,135.20"/><path d="M167.10,140.25H170.90M169.00,138.16V142.34M167.10,138.16L170.90,142.34M167.10,142.34L170.90,138.16"/><path d="M168.81,143.07H172.61M170.71,140.98V145.16M168.81,140.98L172.61,145.16M168.81,145.16L172.61,140.98"/><path d="M170.51,145.86H174.31M172.41,143.77V147.95M170.51,143.77L174.31,147.95M170.51,147.95L174.31,143.77"/><path d="M172.22,148.83H176.02M174.12,146.74V150.92M172.22,146.74L176.02,150.92M172.22,150.92L176.02,146.74"/><path d="M173.92,152.24H177.72M175.82,150.15V154.33M173.92,150.15L177.72,154.33M173.92,154.33L177.72,150.15"/><path d="M175.62,155.91H179.42M177.52,153.82V158.00M175.62,153.82L179.42,158.00M175.62,158.00L179.42,153.82"/><path d="M177.33,159.37H181.13M179.23,157.28V161.46M177.33,157.28L181.13,161.46M177.33,161.46L181.13,157.28"/><path d="M179.03,162.28H182.83M180.93,160.19V164.37M179.03,160.19L182.83,164.37M179.03,164.37L182.83,160.19"/><path d="M180.74,164.94H184.54M182.64,162.85V167.03M180.74,162.85L184.54,167.03M180.74,167.03L184.54,162.85"/><path d="M182.44,167.40H186.24M184.34,165.31V169.49M182.44,165.31L186.24,169.49M182.44,169.49L186.24,165.31"/><path d="M184.15,169.60H187.95M186.05,167.51V171.69M184.15,167.51L187.95,171.69M184.15,171.69L187.95,167.51"/><path d="M185.85,171.50H189.65M187.75,169.41V173.59M185.85,169.41L189.65,173.59M185.85,173.59L189.65,169.41"/><path d="M187.55,173.15H191.35M189.45,171.06V175.24M187.55,171.06L191.35,175.24M187.55,175.24L191.35,171.06"/><path d="M189.26,174.64H193.06M191.16,172.55V176.73M189.26,172.55L193.06,176.73M189.26,176.73L193.06,172.55"/><path d="M190.96,175.99H194.76M192.86,173.90V178.08M190.96,173.90L194.76,178.08M190.96,178.08L194.76,173.90"/><path d="M192.67,177.19H196.47M194.57,175.10V179.28M192.67,175.10L196.47,179.28M192.67,179.28L196.47,175.10"/><path d="M194.37,178.25H198.17M196.27,176.16V180.34M194.37,176.16L198.17,180.34M194.37,180.34L198.17,176.16"/><path d="M196.07,179.20H199.88M197.97,177.11V181.29M196.07,177.11L199.88,181.29M196.07,181.29L199.88,177.11"/><path d="M197.78,180.09H201.58M199.68,178.00V182.18M197.78,178.00L201.58,182.18M197.78,182.18L201.58,178.00"/><path d="M199.48,180.88H203.28M201.38,178.79V182.97M199.48,178.79L203.28,182.97M199.48,182.97L203.28,178.79"/><path d="M201.19,181.56H204.99M203.09,179.47V183.65M201.19,179.47L204.99,183.65M201.19,183.65L204.99,179.47"/><path d="M202.89,182.11H206.69M204.79,180.02V184.20M202.89,180.02L206.69,184.20M202.89,184.20L206.69,180.02"/><path d="M204.60,182.55H208.40M206.50,180.46V184.64M204.60,180.46L208.40,184.64M204.60,184.64L208.40,180.46"/><path d="M206.30,182.94H210.10M208.20,180.85V185.03M206.30,180.85L210.10,185.03M206.30,185.03L210.10,180.85"/><path d="M208.00,183.28H211.80M209.90,181.19V185.37M208.00,181.19L211.80,185.37M208.00,185.37L211.80,181.19"/><path d="M209.71,183.56H213.51M211.61,181.47V185.65M209.71,181.47L213.51,185.65M209.71,185.65L213.51,181.47"/><path d="M211.41,183.79H215.21M213.31,181.70V185.88M211.41,181.70L215.21,185.88M211.41,185.88L215.21,181.70"/><path d="M213.12,183.99H216.92M215.02,181.90V186.08M213.12,181.90L216.92,186.08M213.12,186.08L216.92,181.90"/><path d="M214.82,184.16H218.62M216.72,182.07V186.25M214.82,182.07L218.62,186.25M214.82,186.25L218.62,182.07"/><path d="M216.52,184.31H220.32M218.42,182.22V186.40M216.52,182.22L220.32,186.40M216.52,186.40L220.32,182.22"/><path d="M218.23,184.43H222.03M220.13,182.34V186.52M218.23,182.34L222.03,186.52M218.23,186.52L222.03,182.34"/><path d="M219.93,184.52H223.73M221.83,182.43V186.61M219.93,182.43L223.73,186.61M219.93,186.61L223.73,182.43"/><path d="M221.64,184.59H225.44M223.54,182.50V186.68M221.64,182.50L225.44,186.68M221.64,186.68L225.44,182.50"/><path d="M223.34,184.67H227.14M225.24,182.58V186.76M223.34,182.58L227.14,186.76M223.34,186.76L227.14,182.58"/><path d="M225.05,184.73H228.85M226.95,182.64V186.82M225.05,182.64L228.85,186.82M225.05,186.82L228.85,182.64"/><path d="M226.75,184.80H230.55M228.65,182.71V186.89M226.75,182.71L230.55,186.89M226.75,186.89L230.55,182.71"/><path d="M228.45,184.85H232.25M230.35,182.76V186.94M228.45,182.76L232.25,186.94M228.45,186.94L232.25,182.76"/><path d="M230.16,184.90H233.96M232.06,182.81V186.99M230.16,182.81L233.96,186.99M230.16,186.99L233.96,182.81"/><path d="M231.86,184.94H235.66M233.76,182.85V187.03M231.86,182.85L235.66,187.03M231.86,187.03L235.66,182.85"/><path d="M233.57,184.97H237.37M235.47,182.88V187.06M233.57,182.88L237.37,187.06M233.57,187.06L237.37,182.88"/><path d="M235.27,184.99H239.07M237.17,182.90V187.08M235.27,182.90L239.07,187.08M235.27,187.08L239.07,182.90"/><path d="M236.97,185.00H240.78M238.88,182.91V187.09M236.97,182.91L240.78,187.09M236.97,187.09L240.78,182.91"/><path d="M238.68,185.00H242.48M240.58,182.91V187.09M238.68,182.91L242.48,187.09M238.68,187.09L242.48,182.91"/><path d="M240.38,185.00H244.18M242.28,182.91V187.09M240.38,182.91L244.18,187.09M240.38,187.09L244.18,182.91"/><path d="M242.09,185.00H245.89M243.99,182.91V187.09M242.09,182.91L245.89,187.09M242.09,187.09L245.89,182.91"/><path d="M243.79,185.00H247.59M245.69,182.91V187.09M243.79,182.91L247.59,187.09M243.79,187.09L247.59,182.91"/><path d="M245.50,185.00H249.30M247.40,182.91V187.09M245.50,182.91L249.30,187.09M245.50,187.09L249.30,182.91"/><path d="M247.20,185.00H251.00M249.10,182.91V187.09M247.20,182.91L251.00,187.09M247.20,187.09L251.00,182.91"/><path d="M248.90,185.00H252.70M250.80,182.91V187.09M248.90,182.91L252.70,187.09M248.90,187.09L252.70,182.91"/><path d="M250.61,185.00H254.41M252.51,182.91V187.09M250.61,182.91L254.41,187.09M250.61,187.09L254.41,182.91"/><path d="M252.31,185.00H256.11M254.21,182.91V187.09M252.31,182.91L256.11,187.09M252.31,187.09L256.11,182.91"/><path d="M254.02,185.00H257.82M255.92,182.91V187.09M254.02,182.91L257.82,187.09M254.02,187.09L257.82,182.91"/><path d="M255.72,185.00H259.52M257.62,182.91V187.09M255.72,182.91L259.52,187.09M255.72,187.09L259.52,182.91"/><path d="M257.43,185.00H261.22M259.32,182.91V187.09M257.43,182.91L261.22,187.09M257.43,187.09L261.22,182.91"/><path d="M259.13,185.00H262.93M261.03,182.91V187.09M259.13,182.91L262.93,187.09M259.13,187.09L262.93,182.91"/><path d="M260.83,185.00H264.63M262.73,182.91V187.09M260.83,182.91L264.63,187.09M260.83,187.09L264.63,182.91"/><path d="M262.54,185.00H266.34M264.44,182.91V187.09M262.54,182.91L266.34,187.09M262.54,187.09L266.34,182.91"/><path d="M264.24,185.00H268.04M266.14,182.91V187.09M264.24,182.91L268.04,187.09M264.24,187.09L268.04,182.91"/><path d="M265.95,185.00H269.75M267.85,182.91V187.09M265.95,182.91L269.75,187.09M265.95,187.09L269.75,182.91"/><path d="M267.65,185.00H271.45M269.55,182.91V187.09M267.65,182.91L271.45,187.09M267.65,187.09L271.45,182.91"/><path d="M269.35,185.00H273.15M271.25,182.91V187.09M269.35,182.91L273.15,187.09M269.35,187.09L273.15,182.91"/><path d="M271.06,185.00H274.86M272.96,182.91V187.09M271.06,182.91L274.86,187.09M271.06,187.09L274.86,182.91"/><path d="M272.76,185.00H276.56M274.66,182.91V187.09M272.76,182.91L276.56,187.09M272.76,187.09L276.56,182.91"/><path d="M274.47,185.00H278.27M276.37,182.91V187.09M274.47,182.91L278.27,187.09M274.47,187.09L278.27,182.91"/><path d="M276.17,185.00H279.97M278.07,182.91V187.09M276.17,182.91L279.97,187.09M276.17,187.09L279.97,182.91"/><path d="M277.88,185.00H281.67M279.77,182.91V187.09M277.88,182.91L281.67,187.09M277.88,187.09L281.67,182.91"/><path d="M279.58,185.00H283.38M281.48,182.91V187.09M279.58,182.91L283.38,187.09M279.58,187.09L283.38,182.91"/><path d="M281.28,185.00H285.08M283.18,182.91V187.09M281.28,182.91L285.08,187.09M281.28,187.09L285.08,182.91"/><path d="M282.99,185.00H286.79M284.89,182.91V187.09M282.99,182.91L286.79,187.09M282.99,187.09L286.79,182.91"/><path d="M284.69,185.00H288.49M286.59,182.91V187.09M284.69,182.91L288.49,187.09M284.69,187.09L288.49,182.91"/><path d="M286.40,185.00H290.20M288.30,182.91V187.09M286.40,182.91L290.20,187.09M286.40,187.09L290.20,182.91"/><path d="M288.10,185.00H291.90M290.00,182.91V187.09M288.10,182.91L291.90,187.09M288.10,187.09L291.90,182.91"/></g></g>
<g stroke="#000" stroke-opacity="0.72" fill="none" stroke-width="0.95"><rect x="85.5" y="26.5" width="204.5" height="158.5"/></g>
<text x="435.50" y="200.80" text-anchor="middle" font-size="11.6">0</text>
<text x="484.95" y="200.80" text-anchor="middle" font-size="11.6">30</text>
<text x="534.40" y="200.80" text-anchor="middle" font-size="11.6">60</text>
<text x="583.85" y="200.80" text-anchor="middle" font-size="11.6">90</text>
<text x="633.30" y="200.80" text-anchor="middle" font-size="11.6">120</text>
<text x="427.00" y="189.10" text-anchor="end" font-size="11.6">0</text>
<text x="427.00" y="157.40" text-anchor="end" font-size="11.6">0.015</text>
<text x="427.00" y="125.70" text-anchor="end" font-size="11.6">0.03</text>
<text x="427.00" y="94.00" text-anchor="end" font-size="11.6">0.045</text>
<text x="427.00" y="62.30" text-anchor="end" font-size="11.6">0.06</text>
<text x="427.00" y="30.60" text-anchor="end" font-size="11.6">0.075</text>
<path d="M434.00,185.0v-2.6M434.00,26.5v2.6M483.45,185.0v-2.6M483.45,26.5v2.6M532.90,185.0v-2.6M532.90,26.5v2.6M582.35,185.0v-2.6M582.35,26.5v2.6M631.80,185.0v-2.6M631.80,26.5v2.6M434.0,185.00h2.6M631.8,185.00h-2.6M434.0,153.30h2.6M631.8,153.30h-2.6M434.0,121.60h2.6M631.8,121.60h-2.6M434.0,89.90h2.6M631.8,89.90h-2.6M434.0,58.20h2.6M631.8,58.20h-2.6M434.0,26.50h2.6M631.8,26.50h-2.6" stroke="#000" stroke-opacity="0.72" stroke-width="0.95" fill="none"/>
<text x="532.90" y="218.20" text-anchor="middle" font-size="11.6">z</text>
<text transform="translate(375,105.75) rotate(-90)" text-anchor="middle" font-size="11.6">P<tspan font-size="9.5" dy="3.8">b</tspan><tspan dy="-3.8">(z)</tspan></text>
<text x="337.2" y="12.4" style="font-family:&quot;Liberation Serif&quot;,serif" font-size="16.2">(b)</text>
<text x="544.80" y="40.00" font-size="11.6" word-spacing="0.5">N =</text>
<text x="580.60" y="40.00" text-anchor="end" font-size="11.6">6</text>
<g stroke="#0000ff"><path d="M586.80,35.90H617.60" stroke-width="1.1" fill="none"/><g stroke-width="1.3" fill="#0000ff" fill-opacity="0.5" stroke-linejoin="round"><path d="M602.20,33.90L604.20,37.34L600.20,37.34Z"/></g></g>
<text x="544.80" y="54.03" font-size="11.6" word-spacing="0.5">N =</text>
<text x="580.60" y="54.03" text-anchor="end" font-size="11.6">12</text>
<g stroke="#ffa500"><path d="M586.80,49.93H617.60" stroke-width="0.9" stroke-dasharray="1.7,1.0" fill="none"/><g stroke-width="1.05" fill="none"><path d="M600.10,49.93H604.30M602.20,47.52V52.34"/></g></g>
<text x="544.80" y="68.06" font-size="11.6" word-spacing="0.5">N =</text>
<text x="580.60" y="68.06" text-anchor="end" font-size="11.6">24</text>
<g stroke="#00ff00"><path d="M586.80,63.96H617.60" stroke-width="0.9" stroke-dasharray="1,1.4" fill="none"/><g stroke-width="1.5" fill="none"><rect x="600.38" y="61.74" width="3.64" height="4.44"/></g></g>
<text x="544.80" y="82.09" font-size="11.6" word-spacing="0.5">N =</text>
<text x="580.60" y="82.09" text-anchor="end" font-size="11.6">48</text>
<g stroke="#ff0000"><path d="M586.80,77.99H617.60" stroke-width="0.55" fill="none"/><g stroke-width="1.15" fill="none" stroke-linecap="round"><path d="M600.30,77.99H604.10M602.20,75.90V80.08M600.30,75.90L604.10,80.08M600.30,80.08L604.10,75.90"/></g></g>
<text x="549.40" y="113.80" font-size="11.6">N<tspan font-size="9.28" dy="3.3" dx="0.3">b</tspan><tspan dy="-3.3"> = 131</tspan></text>
<text x="549.20" y="129.50" font-size="11.6">ε = 1.0</text>
<g stroke="#0000ff"><polyline points="434.00,151.40 435.65,172.74 437.30,152.24 438.94,147.59 440.59,133.31 442.24,122.66 443.89,117.37 445.54,116.95 447.19,123.71 448.83,129.00 450.48,133.22 452.13,137.02 453.78,139.99 455.43,141.74 457.08,143.16 458.73,144.60 460.37,145.90 462.02,147.06 463.67,148.12 465.32,149.07 466.97,149.91 468.62,150.66 470.26,151.40 471.91,152.16 473.56,152.91 475.21,153.62 476.86,154.26 478.50,154.88 480.15,155.46 481.80,156.03 483.45,156.59 485.10,157.15 486.75,157.69 488.39,158.21 490.04,158.72 491.69,159.23 493.34,159.74 494.99,160.27 496.64,160.82 498.28,161.38 499.93,161.94 501.58,162.51 503.23,163.08 504.88,163.66 506.53,164.25 508.17,164.87 509.82,165.47 511.47,166.03 513.12,166.54 514.77,167.00 516.42,167.43 518.06,167.86 519.71,168.30 521.36,168.76 523.01,169.22 524.66,169.68 526.31,170.14 527.95,170.59 529.60,171.04 531.25,171.47 532.90,171.90 534.55,172.32 536.20,172.74 537.85,173.16 539.49,173.57 541.14,173.98 542.79,174.39 544.44,174.80 546.09,175.21 547.74,175.64 549.38,176.08 551.03,176.51 552.68,176.93 554.33,177.33 555.98,177.70 557.62,178.03 559.27,178.32 560.92,178.59 562.57,178.85 564.22,179.09 565.87,179.32 567.51,179.55 569.16,179.76 570.81,179.96 572.46,180.16 574.11,180.35 575.76,180.54 577.40,180.72 579.05,180.90 580.70,181.08 582.35,181.25 584.00,181.42 585.65,181.58 587.29,181.73 588.94,181.87 590.59,182.01 592.24,182.14 593.89,182.25 595.54,182.36 597.18,182.48 598.83,182.59 600.48,182.69 602.13,182.80 603.78,182.90 605.43,183.01 607.07,183.11 608.72,183.20 610.37,183.30 612.02,183.39 613.67,183.48 615.32,183.56 616.96,183.64 618.61,183.72 620.26,183.79 621.91,183.86 623.56,183.92 625.21,183.98 626.86,184.03 628.50,184.08 630.15,184.12 631.80,184.15" stroke-width="1.1" fill="none"/><g stroke-width="1.3" fill="#0000ff" fill-opacity="0.5" stroke-linejoin="round"><path d="M434.00,149.40L436.00,152.84L432.00,152.84Z"/><path d="M435.65,170.74L437.65,174.18L433.65,174.18Z"/><path d="M437.30,150.24L439.30,153.68L435.30,153.68Z"/><path d="M438.94,145.59L440.94,149.03L436.94,149.03Z"/><path d="M440.59,131.31L442.59,134.75L438.59,134.75Z"/><path d="M442.24,120.66L444.24,124.10L440.24,124.10Z"/><path d="M443.89,115.37L445.89,118.81L441.89,118.81Z"/><path d="M445.54,114.95L447.54,118.39L443.54,118.39Z"/><path d="M447.19,121.71L449.19,125.15L445.19,125.15Z"/><path d="M448.83,127.00L450.83,130.44L446.83,130.44Z"/><path d="M450.48,131.22L452.48,134.66L448.48,134.66Z"/><path d="M452.13,135.02L454.13,138.46L450.13,138.46Z"/><path d="M453.78,137.99L455.78,141.43L451.78,141.43Z"/><path d="M455.43,139.74L457.43,143.18L453.43,143.18Z"/><path d="M457.08,141.16L459.08,144.60L455.08,144.60Z"/><path d="M458.73,142.60L460.73,146.04L456.73,146.04Z"/><path d="M460.37,143.90L462.37,147.34L458.37,147.34Z"/><path d="M462.02,145.06L464.02,148.50L460.02,148.50Z"/><path d="M463.67,146.12L465.67,149.56L461.67,149.56Z"/><path d="M465.32,147.07L467.32,150.51L463.32,150.51Z"/><path d="M466.97,147.91L468.97,151.35L464.97,151.35Z"/><path d="M468.62,148.66L470.62,152.10L466.62,152.10Z"/><path d="M470.26,149.40L472.26,152.84L468.26,152.84Z"/><path d="M471.91,150.16L473.91,153.60L469.91,153.60Z"/><path d="M473.56,150.91L475.56,154.35L471.56,154.35Z"/><path d="M475.21,151.62L477.21,155.06L473.21,155.06Z"/><path d="M476.86,152.26L478.86,155.70L474.86,155.70Z"/><path d="M478.50,152.88L480.50,156.32L476.50,156.32Z"/><path d="M480.15,153.46L482.15,156.90L478.15,156.90Z"/><path d="M481.80,154.03L483.80,157.47L479.80,157.47Z"/><path d="M483.45,154.59L485.45,158.03L481.45,158.03Z"/><path d="M485.10,155.15L487.10,158.59L483.10,158.59Z"/><path d="M486.75,155.69L488.75,159.13L484.75,159.13Z"/><path d="M488.39,156.21L490.39,159.65L486.39,159.65Z"/><path d="M490.04,156.72L492.04,160.16L488.04,160.16Z"/><path d="M491.69,157.23L493.69,160.67L489.69,160.67Z"/><path d="M493.34,157.74L495.34,161.18L491.34,161.18Z"/><path d="M494.99,158.27L496.99,161.71L492.99,161.71Z"/><path d="M496.64,158.82L498.64,162.26L494.64,162.26Z"/><path d="M498.28,159.38L500.28,162.82L496.28,162.82Z"/><path d="M499.93,159.94L501.93,163.38L497.93,163.38Z"/><path d="M501.58,160.51L503.58,163.95L499.58,163.95Z"/><path d="M503.23,161.08L505.23,164.52L501.23,164.52Z"/><path d="M504.88,161.66L506.88,165.10L502.88,165.10Z"/><path d="M506.53,162.25L508.53,165.69L504.53,165.69Z"/><path d="M508.17,162.87L510.17,166.31L506.17,166.31Z"/><path d="M509.82,163.47L511.82,166.91L507.82,166.91Z"/><path d="M511.47,164.03L513.47,167.47L509.47,167.47Z"/><path d="M513.12,164.54L515.12,167.98L511.12,167.98Z"/><path d="M514.77,165.00L516.77,168.44L512.77,168.44Z"/><path d="M516.42,165.43L518.42,168.87L514.42,168.87Z"/><path d="M518.06,165.86L520.06,169.30L516.06,169.30Z"/><path d="M519.71,166.30L521.71,169.74L517.71,169.74Z"/><path d="M521.36,166.76L523.36,170.20L519.36,170.20Z"/><path d="M523.01,167.22L525.01,170.66L521.01,170.66Z"/><path d="M524.66,167.68L526.66,171.12L522.66,171.12Z"/><path d="M526.31,168.14L528.31,171.58L524.31,171.58Z"/><path d="M527.95,168.59L529.95,172.03L525.95,172.03Z"/><path d="M529.60,169.04L531.60,172.48L527.60,172.48Z"/><path d="M531.25,169.47L533.25,172.91L529.25,172.91Z"/><path d="M532.90,169.90L534.90,173.34L530.90,173.34Z"/><path d="M534.55,170.32L536.55,173.76L532.55,173.76Z"/><path d="M536.20,170.74L538.20,174.18L534.20,174.18Z"/><path d="M537.85,171.16L539.85,174.60L535.85,174.60Z"/><path d="M539.49,171.57L541.49,175.01L537.49,175.01Z"/><path d="M541.14,171.98L543.14,175.42L539.14,175.42Z"/><path d="M542.79,172.39L544.79,175.83L540.79,175.83Z"/><path d="M544.44,172.80L546.44,176.24L542.44,176.24Z"/><path d="M546.09,173.21L548.09,176.65L544.09,176.65Z"/><path d="M547.74,173.64L549.74,177.08L545.74,177.08Z"/><path d="M549.38,174.08L551.38,177.52L547.38,177.52Z"/><path d="M551.03,174.51L553.03,177.95L549.03,177.95Z"/><path d="M552.68,174.93L554.68,178.37L550.68,178.37Z"/><path d="M554.33,175.33L556.33,178.77L552.33,178.77Z"/><path d="M555.98,175.70L557.98,179.14L553.98,179.14Z"/><path d="M557.62,176.03L559.62,179.47L555.62,179.47Z"/><path d="M559.27,176.32L561.27,179.76L557.27,179.76Z"/><path d="M560.92,176.59L562.92,180.03L558.92,180.03Z"/><path d="M562.57,176.85L564.57,180.29L560.57,180.29Z"/><path d="M564.22,177.09L566.22,180.53L562.22,180.53Z"/><path d="M565.87,177.32L567.87,180.76L563.87,180.76Z"/><path d="M567.51,177.55L569.51,180.99L565.51,180.99Z"/><path d="M569.16,177.76L571.16,181.20L567.16,181.20Z"/><path d="M570.81,177.96L572.81,181.40L568.81,181.40Z"/><path d="M572.46,178.16L574.46,181.60L570.46,181.60Z"/><path d="M574.11,178.35L576.11,181.79L572.11,181.79Z"/><path d="M575.76,178.54L577.76,181.98L573.76,181.98Z"/><path d="M577.40,178.72L579.40,182.16L575.40,182.16Z"/><path d="M579.05,178.90L581.05,182.34L577.05,182.34Z"/><path d="M580.70,179.08L582.70,182.52L578.70,182.52Z"/><path d="M582.35,179.25L584.35,182.69L580.35,182.69Z"/><path d="M584.00,179.42L586.00,182.86L582.00,182.86Z"/><path d="M585.65,179.58L587.65,183.02L583.65,183.02Z"/><path d="M587.29,179.73L589.29,183.17L585.29,183.17Z"/><path d="M588.94,179.87L590.94,183.31L586.94,183.31Z"/><path d="M590.59,180.01L592.59,183.45L588.59,183.45Z"/><path d="M592.24,180.14L594.24,183.58L590.24,183.58Z"/><path d="M593.89,180.25L595.89,183.69L591.89,183.69Z"/><path d="M595.54,180.36L597.54,183.80L593.54,183.80Z"/><path d="M597.18,180.48L599.18,183.92L595.18,183.92Z"/><path d="M598.83,180.59L600.83,184.03L596.83,184.03Z"/><path d="M600.48,180.69L602.48,184.13L598.48,184.13Z"/><path d="M602.13,180.80L604.13,184.24L600.13,184.24Z"/><path d="M603.78,180.90L605.78,184.34L601.78,184.34Z"/><path d="M605.43,181.01L607.43,184.45L603.43,184.45Z"/><path d="M607.07,181.11L609.07,184.55L605.07,184.55Z"/><path d="M608.72,181.20L610.72,184.64L606.72,184.64Z"/><path d="M610.37,181.30L612.37,184.74L608.37,184.74Z"/><path d="M612.02,181.39L614.02,184.83L610.02,184.83Z"/><path d="M613.67,181.48L615.67,184.92L611.67,184.92Z"/><path d="M615.32,181.56L617.32,185.00L613.32,185.00Z"/><path d="M616.96,181.64L618.96,185.08L614.96,185.08Z"/><path d="M618.61,181.72L620.61,185.16L616.61,185.16Z"/><path d="M620.26,181.79L622.26,185.23L618.26,185.23Z"/><path d="M621.91,181.86L623.91,185.30L619.91,185.30Z"/><path d="M623.56,181.92L625.56,185.36L621.56,185.36Z"/><path d="M625.21,181.98L627.21,185.42L623.21,185.42Z"/><path d="M626.86,182.03L628.86,185.47L624.86,185.47Z"/><path d="M628.50,182.08L630.50,185.52L626.50,185.52Z"/><path d="M630.15,182.12L632.15,185.56L628.15,185.56Z"/><path d="M631.80,182.15L633.80,185.59L629.80,185.59Z"/></g></g>
<g stroke="#ffa500"><polyline points="434.00,161.75 435.65,176.55 437.30,169.15 438.94,167.25 440.59,162.60 442.24,154.78 443.89,143.58 445.54,131.11 447.19,119.91 448.83,111.46 450.48,108.29 452.13,109.34 453.78,113.15 455.43,119.49 457.08,126.25 458.73,132.80 460.37,138.51 462.02,142.59 463.67,146.11 465.32,149.05 466.97,151.40 468.62,153.35 470.26,155.09 471.91,156.59 473.56,157.83 475.21,158.79 476.86,159.51 478.50,160.08 480.15,160.59 481.80,161.08 483.45,161.55 485.10,161.99 486.75,162.42 488.39,162.82 490.04,163.22 491.69,163.61 493.34,163.99 494.99,164.37 496.64,164.76 498.28,165.15 499.93,165.56 501.58,165.97 503.23,166.39 504.88,166.81 506.53,167.23 508.17,167.65 509.82,168.06 511.47,168.48 513.12,168.89 514.77,169.30 516.42,169.70 518.06,170.09 519.71,170.48 521.36,170.87 523.01,171.26 524.66,171.65 526.31,172.04 527.95,172.43 529.60,172.81 531.25,173.18 532.90,173.54 534.55,173.88 536.20,174.20 537.85,174.51 539.49,174.79 541.14,175.06 542.79,175.31 544.44,175.55 546.09,175.78 547.74,176.00 549.38,176.21 551.03,176.42 552.68,176.62 554.33,176.81 555.98,177.00 557.62,177.19 559.27,177.38 560.92,177.57 562.57,177.75 564.22,177.93 565.87,178.11 567.51,178.28 569.16,178.46 570.81,178.63 572.46,178.80 574.11,178.96 575.76,179.13 577.40,179.29 579.05,179.45 580.70,179.60 582.35,179.76 584.00,179.91 585.65,180.06 587.29,180.21 588.94,180.35 590.59,180.49 592.24,180.63 593.89,180.77 595.54,180.91 597.18,181.05 598.83,181.18 600.48,181.31 602.13,181.45 603.78,181.58 605.43,181.70 607.07,181.83 608.72,181.96 610.37,182.08 612.02,182.20 613.67,182.32 615.32,182.44 616.96,182.56 618.61,182.67 620.26,182.79 621.91,182.90 623.56,183.01 625.21,183.11 626.86,183.22 628.50,183.32 630.15,183.42 631.80,183.52" stroke-width="0.9" stroke-dasharray="1.7,1.0" fill="none"/><g stroke-width="1.05" fill="none"><path d="M431.90,161.75H436.10M434.00,159.34V164.17"/><path d="M433.55,176.55H437.75M435.65,174.13V178.96"/><path d="M435.20,169.15H439.40M437.30,166.74V171.56"/><path d="M436.84,167.25H441.05M438.94,164.83V169.66"/><path d="M438.49,162.60H442.69M440.59,160.18V165.01"/><path d="M440.14,154.78H444.34M442.24,152.36V157.19"/><path d="M441.79,143.58H445.99M443.89,141.16V145.99"/><path d="M443.44,131.11H447.64M445.54,128.70V133.53"/><path d="M445.09,119.91H449.29M447.19,117.49V122.32"/><path d="M446.73,111.46H450.94M448.83,109.04V113.87"/><path d="M448.38,108.29H452.58M450.48,105.87V110.70"/><path d="M450.03,109.34H454.23M452.13,106.93V111.76"/><path d="M451.68,113.15H455.88M453.78,110.73V115.56"/><path d="M453.33,119.49H457.53M455.43,117.07V121.90"/><path d="M454.98,126.25H459.18M457.08,123.83V128.66"/><path d="M456.62,132.80H460.83M458.73,130.39V135.22"/><path d="M458.27,138.51H462.47M460.37,136.09V140.92"/><path d="M459.92,142.59H464.12M462.02,140.17V145.00"/><path d="M461.57,146.11H465.77M463.67,143.69V148.52"/><path d="M463.22,149.05H467.42M465.32,146.63V151.46"/><path d="M464.87,151.40H469.07M466.97,148.98V153.81"/><path d="M466.51,153.35H470.72M468.62,150.94V155.77"/><path d="M468.16,155.09H472.36M470.26,152.67V157.50"/><path d="M469.81,156.59H474.01M471.91,154.17V159.00"/><path d="M471.46,157.83H475.66M473.56,155.41V160.24"/><path d="M473.11,158.79H477.31M475.21,156.38V161.21"/><path d="M474.76,159.51H478.96M476.86,157.10V161.93"/><path d="M476.40,160.08H480.61M478.50,157.67V162.50"/><path d="M478.05,160.59H482.25M480.15,158.18V163.01"/><path d="M479.70,161.08H483.90M481.80,158.67V163.50"/><path d="M481.35,161.55H485.55M483.45,159.13V163.96"/><path d="M483.00,161.99H487.20M485.10,159.58V164.41"/><path d="M484.65,162.42H488.85M486.75,160.00V164.83"/><path d="M486.29,162.82H490.50M488.39,160.41V165.24"/><path d="M487.94,163.22H492.14M490.04,160.80V165.63"/><path d="M489.59,163.61H493.79M491.69,161.19V166.02"/><path d="M491.24,163.99H495.44M493.34,161.57V166.40"/><path d="M492.89,164.37H497.09M494.99,161.96V166.79"/><path d="M494.54,164.76H498.74M496.64,162.34V167.17"/><path d="M496.18,165.15H500.38M498.28,162.74V167.57"/><path d="M497.83,165.56H502.03M499.93,163.14V167.97"/><path d="M499.48,165.97H503.68M501.58,163.56V168.39"/><path d="M501.13,166.39H505.33M503.23,163.97V168.80"/><path d="M502.78,166.81H506.98M504.88,164.39V169.22"/><path d="M504.43,167.23H508.63M506.53,164.81V169.64"/><path d="M506.07,167.65H510.27M508.17,165.23V170.06"/><path d="M507.72,168.06H511.92M509.82,165.65V170.48"/><path d="M509.37,168.48H513.57M511.47,166.06V170.89"/><path d="M511.02,168.89H515.22M513.12,166.48V171.31"/><path d="M512.67,169.30H516.87M514.77,166.88V171.71"/><path d="M514.32,169.70H518.52M516.42,167.28V172.11"/><path d="M515.96,170.09H520.16M518.06,167.68V172.51"/><path d="M517.61,170.48H521.81M519.71,168.07V172.90"/><path d="M519.26,170.87H523.46M521.36,168.45V173.28"/><path d="M520.91,171.26H525.11M523.01,168.84V173.67"/><path d="M522.56,171.65H526.76M524.66,169.23V174.06"/><path d="M524.21,172.04H528.41M526.31,169.63V174.46"/><path d="M525.85,172.43H530.05M527.95,170.01V174.84"/><path d="M527.50,172.81H531.70M529.60,170.39V175.22"/><path d="M529.15,173.18H533.35M531.25,170.76V175.59"/><path d="M530.80,173.54H535.00M532.90,171.12V175.95"/><path d="M532.45,173.88H536.65M534.55,171.46V176.29"/><path d="M534.10,174.20H538.30M536.20,171.79V176.62"/><path d="M535.75,174.51H539.95M537.85,172.10V176.93"/><path d="M537.39,174.79H541.59M539.49,172.38V177.21"/><path d="M539.04,175.06H543.24M541.14,172.64V177.47"/><path d="M540.69,175.31H544.89M542.79,172.89V177.72"/><path d="M542.34,175.55H546.54M544.44,173.13V177.96"/><path d="M543.99,175.78H548.19M546.09,173.36V178.19"/><path d="M545.63,176.00H549.84M547.74,173.58V178.41"/><path d="M547.28,176.21H551.48M549.38,173.79V178.62"/><path d="M548.93,176.42H553.13M551.03,174.00V178.83"/><path d="M550.58,176.62H554.78M552.68,174.20V179.03"/><path d="M552.23,176.81H556.43M554.33,174.40V179.23"/><path d="M553.88,177.00H558.08M555.98,174.59V179.42"/><path d="M555.52,177.19H559.73M557.62,174.78V179.61"/><path d="M557.17,177.38H561.37M559.27,174.97V179.80"/><path d="M558.82,177.57H563.02M560.92,175.15V179.98"/><path d="M560.47,177.75H564.67M562.57,175.33V180.16"/><path d="M562.12,177.93H566.32M564.22,175.51V180.34"/><path d="M563.77,178.11H567.97M565.87,175.69V180.52"/><path d="M565.41,178.28H569.62M567.51,175.87V180.70"/><path d="M567.06,178.46H571.26M569.16,176.04V180.87"/><path d="M568.71,178.63H572.91M570.81,176.21V181.04"/><path d="M570.36,178.80H574.56M572.46,176.38V181.21"/><path d="M572.01,178.96H576.21M574.11,176.55V181.38"/><path d="M573.66,179.13H577.86M575.76,176.71V181.54"/><path d="M575.30,179.29H579.50M577.40,176.87V181.70"/><path d="M576.95,179.45H581.15M579.05,177.03V181.86"/><path d="M578.60,179.60H582.80M580.70,177.19V182.02"/><path d="M580.25,179.76H584.45M582.35,177.34V182.17"/><path d="M581.90,179.91H586.10M584.00,177.49V182.32"/><path d="M583.55,180.06H587.75M585.65,177.64V182.47"/><path d="M585.19,180.21H589.39M587.29,177.79V182.62"/><path d="M586.84,180.35H591.04M588.94,177.94V182.77"/><path d="M588.49,180.49H592.69M590.59,178.08V182.91"/><path d="M590.14,180.63H594.34M592.24,178.22V183.05"/><path d="M591.79,180.77H595.99M593.89,178.36V183.19"/><path d="M593.44,180.91H597.64M595.54,178.50V183.33"/><path d="M595.08,181.05H599.28M597.18,178.63V183.46"/><path d="M596.73,181.18H600.93M598.83,178.77V183.60"/><path d="M598.38,181.31H602.58M600.48,178.90V183.73"/><path d="M600.03,181.45H604.23M602.13,179.03V183.86"/><path d="M601.68,181.58H605.88M603.78,179.16V183.99"/><path d="M603.33,181.70H607.53M605.43,179.29V184.12"/><path d="M604.97,181.83H609.17M607.07,179.42V184.25"/><path d="M606.62,181.96H610.82M608.72,179.54V184.37"/><path d="M608.27,182.08H612.47M610.37,179.67V184.50"/><path d="M609.92,182.20H614.12M612.02,179.79V184.62"/><path d="M611.57,182.32H615.77M613.67,179.91V184.74"/><path d="M613.22,182.44H617.42M615.32,180.03V184.86"/><path d="M614.86,182.56H619.06M616.96,180.14V184.97"/><path d="M616.51,182.67H620.71M618.61,180.26V185.09"/><path d="M618.16,182.79H622.36M620.26,180.37V185.20"/><path d="M619.81,182.90H624.01M621.91,180.48V185.31"/><path d="M621.46,183.01H625.66M623.56,180.59V185.42"/><path d="M623.11,183.11H627.31M625.21,180.70V185.53"/><path d="M624.75,183.22H628.96M626.86,180.80V185.63"/><path d="M626.40,183.32H630.60M628.50,180.91V185.74"/><path d="M628.05,183.42H632.25M630.15,181.01V185.84"/><path d="M629.70,183.52H633.90M631.80,181.11V185.94"/></g></g>
<g stroke="#00ff00"><polyline points="434.00,160.17 435.65,176.55 437.30,170.63 438.94,170.31 440.59,170.20 442.24,170.09 443.89,169.78 445.54,166.61 447.19,160.49 448.83,152.03 450.48,140.20 452.13,123.71 453.78,106.38 455.43,89.48 457.08,75.32 458.73,66.44 460.37,64.12 462.02,68.13 463.67,76.59 465.32,87.79 466.97,100.68 468.62,113.15 470.26,124.35 471.91,134.28 473.56,142.73 475.21,149.92 476.86,155.84 478.50,160.49 480.15,164.29 481.80,165.89 483.45,167.04 485.10,168.23 486.75,169.33 488.39,170.21 490.04,170.89 491.69,171.51 493.34,172.06 494.99,172.55 496.64,173.00 498.28,173.41 499.93,173.80 501.58,174.16 503.23,174.50 504.88,174.82 506.53,175.13 508.17,175.42 509.82,175.69 511.47,175.96 513.12,176.21 514.77,176.46 516.42,176.70 518.06,176.94 519.71,177.18 521.36,177.41 523.01,177.64 524.66,177.85 526.31,178.05 527.95,178.25 529.60,178.45 531.25,178.64 532.90,178.82 534.55,179.01 536.20,179.18 537.85,179.35 539.49,179.51 541.14,179.66 542.79,179.81 544.44,179.93 546.09,180.03 547.74,180.12 549.38,180.20 551.03,180.27 552.68,180.34 554.33,180.41 555.98,180.49 557.62,180.56 559.27,180.64 560.92,180.72 562.57,180.80 564.22,180.88 565.87,180.96 567.51,181.04 569.16,181.11 570.81,181.19 572.46,181.27 574.11,181.35 575.76,181.43 577.40,181.51 579.05,181.59 580.70,181.66 582.35,181.74 584.00,181.81 585.65,181.89 587.29,181.96 588.94,182.04 590.59,182.11 592.24,182.18 593.89,182.25 595.54,182.32 597.18,182.39 598.83,182.46 600.48,182.53 602.13,182.60 603.78,182.66 605.43,182.73 607.07,182.80 608.72,182.86 610.37,182.93 612.02,182.99 613.67,183.06 615.32,183.12 616.96,183.19 618.61,183.25 620.26,183.31 621.91,183.37 623.56,183.43 625.21,183.50 626.86,183.56 628.50,183.61 630.15,183.67 631.80,183.73" stroke-width="0.9" stroke-dasharray="1,1.4" fill="none"/><g stroke-width="1.5" fill="none"><rect x="432.18" y="157.95" width="3.64" height="4.44"/><rect x="433.83" y="174.33" width="3.64" height="4.44"/><rect x="435.48" y="168.41" width="3.64" height="4.44"/><rect x="437.12" y="168.08" width="3.64" height="4.44"/><rect x="438.77" y="167.98" width="3.64" height="4.44"/><rect x="440.42" y="167.87" width="3.64" height="4.44"/><rect x="442.07" y="167.56" width="3.64" height="4.44"/><rect x="443.72" y="164.39" width="3.64" height="4.44"/><rect x="445.37" y="158.26" width="3.64" height="4.44"/><rect x="447.01" y="149.81" width="3.64" height="4.44"/><rect x="448.66" y="137.98" width="3.64" height="4.44"/><rect x="450.31" y="121.49" width="3.64" height="4.44"/><rect x="451.96" y="104.16" width="3.64" height="4.44"/><rect x="453.61" y="87.26" width="3.64" height="4.44"/><rect x="455.26" y="73.10" width="3.64" height="4.44"/><rect x="456.91" y="64.22" width="3.64" height="4.44"/><rect x="458.55" y="61.90" width="3.64" height="4.44"/><rect x="460.20" y="65.91" width="3.64" height="4.44"/><rect x="461.85" y="74.37" width="3.64" height="4.44"/><rect x="463.50" y="85.57" width="3.64" height="4.44"/><rect x="465.15" y="98.46" width="3.64" height="4.44"/><rect x="466.80" y="110.93" width="3.64" height="4.44"/><rect x="468.44" y="122.13" width="3.64" height="4.44"/><rect x="470.09" y="132.06" width="3.64" height="4.44"/><rect x="471.74" y="140.51" width="3.64" height="4.44"/><rect x="473.39" y="147.70" width="3.64" height="4.44"/><rect x="475.04" y="153.62" width="3.64" height="4.44"/><rect x="476.69" y="158.26" width="3.64" height="4.44"/><rect x="478.33" y="162.07" width="3.64" height="4.44"/><rect x="479.98" y="163.67" width="3.64" height="4.44"/><rect x="481.63" y="164.82" width="3.64" height="4.44"/><rect x="483.28" y="166.01" width="3.64" height="4.44"/><rect x="484.93" y="167.11" width="3.64" height="4.44"/><rect x="486.57" y="167.99" width="3.64" height="4.44"/><rect x="488.22" y="168.67" width="3.64" height="4.44"/><rect x="489.87" y="169.29" width="3.64" height="4.44"/><rect x="491.52" y="169.84" width="3.64" height="4.44"/><rect x="493.17" y="170.33" width="3.64" height="4.44"/><rect x="494.82" y="170.78" width="3.64" height="4.44"/><rect x="496.46" y="171.19" width="3.64" height="4.44"/><rect x="498.11" y="171.58" width="3.64" height="4.44"/><rect x="499.76" y="171.94" width="3.64" height="4.44"/><rect x="501.41" y="172.28" width="3.64" height="4.44"/><rect x="503.06" y="172.60" width="3.64" height="4.44"/><rect x="504.71" y="172.91" width="3.64" height="4.44"/><rect x="506.35" y="173.20" width="3.64" height="4.44"/><rect x="508.00" y="173.47" width="3.64" height="4.44"/><rect x="509.65" y="173.74" width="3.64" height="4.44"/><rect x="511.30" y="173.99" width="3.64" height="4.44"/><rect x="512.95" y="174.24" width="3.64" height="4.44"/><rect x="514.60" y="174.48" width="3.64" height="4.44"/><rect x="516.24" y="174.72" width="3.64" height="4.44"/><rect x="517.89" y="174.96" width="3.64" height="4.44"/><rect x="519.54" y="175.19" width="3.64" height="4.44"/><rect x="521.19" y="175.41" width="3.64" height="4.44"/><rect x="522.84" y="175.63" width="3.64" height="4.44"/><rect x="524.49" y="175.83" width="3.64" height="4.44"/><rect x="526.13" y="176.03" width="3.64" height="4.44"/><rect x="527.78" y="176.23" width="3.64" height="4.44"/><rect x="529.43" y="176.42" width="3.64" height="4.44"/><rect x="531.08" y="176.60" width="3.64" height="4.44"/><rect x="532.73" y="176.78" width="3.64" height="4.44"/><rect x="534.38" y="176.96" width="3.64" height="4.44"/><rect x="536.02" y="177.13" width="3.64" height="4.44"/><rect x="537.67" y="177.28" width="3.64" height="4.44"/><rect x="539.32" y="177.44" width="3.64" height="4.44"/><rect x="540.97" y="177.59" width="3.64" height="4.44"/><rect x="542.62" y="177.71" width="3.64" height="4.44"/><rect x="544.27" y="177.81" width="3.64" height="4.44"/><rect x="545.91" y="177.90" width="3.64" height="4.44"/><rect x="547.56" y="177.98" width="3.64" height="4.44"/><rect x="549.21" y="178.05" width="3.64" height="4.44"/><rect x="550.86" y="178.12" width="3.64" height="4.44"/><rect x="552.51" y="178.19" width="3.64" height="4.44"/><rect x="554.16" y="178.27" width="3.64" height="4.44"/><rect x="555.80" y="178.34" width="3.64" height="4.44"/><rect x="557.45" y="178.42" width="3.64" height="4.44"/><rect x="559.10" y="178.50" width="3.64" height="4.44"/><rect x="560.75" y="178.58" width="3.64" height="4.44"/><rect x="562.40" y="178.66" width="3.64" height="4.44"/><rect x="564.05" y="178.74" width="3.64" height="4.44"/><rect x="565.69" y="178.82" width="3.64" height="4.44"/><rect x="567.34" y="178.89" width="3.64" height="4.44"/><rect x="568.99" y="178.97" width="3.64" height="4.44"/><rect x="570.64" y="179.05" width="3.64" height="4.44"/><rect x="572.29" y="179.13" width="3.64" height="4.44"/><rect x="573.94" y="179.21" width="3.64" height="4.44"/><rect x="575.58" y="179.29" width="3.64" height="4.44"/><rect x="577.23" y="179.36" width="3.64" height="4.44"/><rect x="578.88" y="179.44" width="3.64" height="4.44"/><rect x="580.53" y="179.52" width="3.64" height="4.44"/><rect x="582.18" y="179.59" width="3.64" height="4.44"/><rect x="583.83" y="179.67" width="3.64" height="4.44"/><rect x="585.47" y="179.74" width="3.64" height="4.44"/><rect x="587.12" y="179.82" width="3.64" height="4.44"/><rect x="588.77" y="179.89" width="3.64" height="4.44"/><rect x="590.42" y="179.96" width="3.64" height="4.44"/><rect x="592.07" y="180.03" width="3.64" height="4.44"/><rect x="593.72" y="180.10" width="3.64" height="4.44"/><rect x="595.36" y="180.17" width="3.64" height="4.44"/><rect x="597.01" y="180.24" width="3.64" height="4.44"/><rect x="598.66" y="180.31" width="3.64" height="4.44"/><rect x="600.31" y="180.38" width="3.64" height="4.44"/><rect x="601.96" y="180.44" width="3.64" height="4.44"/><rect x="603.61" y="180.51" width="3.64" height="4.44"/><rect x="605.25" y="180.58" width="3.64" height="4.44"/><rect x="606.90" y="180.64" width="3.64" height="4.44"/><rect x="608.55" y="180.71" width="3.64" height="4.44"/><rect x="610.20" y="180.77" width="3.64" height="4.44"/><rect x="611.85" y="180.84" width="3.64" height="4.44"/><rect x="613.50" y="180.90" width="3.64" height="4.44"/><rect x="615.14" y="180.97" width="3.64" height="4.44"/><rect x="616.79" y="181.03" width="3.64" height="4.44"/><rect x="618.44" y="181.09" width="3.64" height="4.44"/><rect x="620.09" y="181.15" width="3.64" height="4.44"/><rect x="621.74" y="181.21" width="3.64" height="4.44"/><rect x="623.39" y="181.28" width="3.64" height="4.44"/><rect x="625.03" y="181.34" width="3.64" height="4.44"/><rect x="626.68" y="181.39" width="3.64" height="4.44"/><rect x="628.33" y="181.45" width="3.64" height="4.44"/><rect x="629.98" y="181.51" width="3.64" height="4.44"/></g></g>
<g stroke="#ff0000"><polyline points="434.00,162.60 435.65,180.14 437.30,173.80 438.94,174.43 440.59,175.14 442.24,175.82 443.89,176.12 445.54,175.87 447.19,175.24 448.83,174.43 450.48,173.29 452.13,171.69 453.78,169.65 455.43,167.04 457.08,163.44 458.73,158.79 460.37,151.19 462.02,139.56 463.67,126.04 465.32,109.13 466.97,90.32 468.62,72.36 470.26,56.51 471.91,43.83 473.56,36.22 475.21,36.22 476.86,41.93 478.50,51.86 480.15,66.44 481.80,83.14 483.45,100.47 485.10,115.68 486.75,130.90 488.39,142.73 490.04,152.88 491.69,160.49 493.34,167.04 494.99,171.90 496.64,174.86 498.28,176.76 499.93,178.24 501.58,179.06 503.23,179.72 504.88,180.40 506.53,181.06 508.17,181.62 509.82,182.08 511.47,182.46 513.12,182.79 514.77,183.08 516.42,183.31 518.06,183.49 519.71,183.67 521.36,183.83 523.01,183.97 524.66,184.10 526.31,184.21 527.95,184.30 529.60,184.37 531.25,184.42 532.90,184.47 534.55,184.52 536.20,184.56 537.85,184.60 539.49,184.64 541.14,184.67 542.79,184.70 544.44,184.73 546.09,184.75 547.74,184.77 549.38,184.79 551.03,184.81 552.68,184.82 554.33,184.84 555.98,184.85 557.62,184.87 559.27,184.88 560.92,184.90 562.57,184.91 564.22,184.92 565.87,184.94 567.51,184.95 569.16,184.96 570.81,184.97 572.46,184.98 574.11,184.98 575.76,184.99 577.40,184.99 579.05,185.00 580.70,185.00 582.35,185.00 584.00,185.00 585.65,185.00 587.29,185.00 588.94,185.00 590.59,185.00 592.24,185.00 593.89,185.00 595.54,185.00 597.18,185.00 598.83,185.00 600.48,185.00 602.13,185.00 603.78,185.00 605.43,185.00 607.07,185.00 608.72,185.00 610.37,185.00 612.02,185.00 613.67,185.00 615.32,185.00 616.96,185.00 618.61,185.00 620.26,185.00 621.91,185.00 623.56,185.00 625.21,185.00 626.86,185.00 628.50,185.00 630.15,185.00 631.80,185.00" stroke-width="0.55" fill="none"/><g stroke-width="1.15" fill="none" stroke-linecap="round"><path d="M432.10,162.60H435.90M434.00,160.51V164.69M432.10,160.51L435.90,164.69M432.10,164.69L435.90,160.51"/><path d="M433.75,180.14H437.55M435.65,178.05V182.23M433.75,178.05L437.55,182.23M433.75,182.23L437.55,178.05"/><path d="M435.40,173.80H439.20M437.30,171.71V175.89M435.40,171.71L439.20,175.89M435.40,175.89L439.20,171.71"/><path d="M437.05,174.43H440.84M438.94,172.34V176.52M437.05,172.34L440.84,176.52M437.05,176.52L440.84,172.34"/><path d="M438.69,175.14H442.49M440.59,173.05V177.23M438.69,173.05L442.49,177.23M438.69,177.23L442.49,173.05"/><path d="M440.34,175.82H444.14M442.24,173.73V177.91M440.34,173.73L444.14,177.91M440.34,177.91L444.14,173.73"/><path d="M441.99,176.12H445.79M443.89,174.03V178.21M441.99,174.03L445.79,178.21M441.99,178.21L445.79,174.03"/><path d="M443.64,175.87H447.44M445.54,173.78V177.96M443.64,173.78L447.44,177.96M443.64,177.96L447.44,173.78"/><path d="M445.29,175.24H449.09M447.19,173.15V177.33M445.29,173.15L449.09,177.33M445.29,177.33L449.09,173.15"/><path d="M446.94,174.43H450.73M448.83,172.34V176.52M446.94,172.34L450.73,176.52M446.94,176.52L450.73,172.34"/><path d="M448.58,173.29H452.38M450.48,171.20V175.38M448.58,171.20L452.38,175.38M448.58,175.38L452.38,171.20"/><path d="M450.23,171.69H454.03M452.13,169.60V173.78M450.23,169.60L454.03,173.78M450.23,173.78L454.03,169.60"/><path d="M451.88,169.65H455.68M453.78,167.56V171.74M451.88,167.56L455.68,171.74M451.88,171.74L455.68,167.56"/><path d="M453.53,167.04H457.33M455.43,164.95V169.13M453.53,164.95L457.33,169.13M453.53,169.13L457.33,164.95"/><path d="M455.18,163.44H458.98M457.08,161.35V165.53M455.18,161.35L458.98,165.53M455.18,165.53L458.98,161.35"/><path d="M456.83,158.79H460.62M458.73,156.70V160.88M456.83,156.70L460.62,160.88M456.83,160.88L460.62,156.70"/><path d="M458.47,151.19H462.27M460.37,149.10V153.28M458.47,149.10L462.27,153.28M458.47,153.28L462.27,149.10"/><path d="M460.12,139.56H463.92M462.02,137.47V141.65M460.12,137.47L463.92,141.65M460.12,141.65L463.92,137.47"/><path d="M461.77,126.04H465.57M463.67,123.95V128.13M461.77,123.95L465.57,128.13M461.77,128.13L465.57,123.95"/><path d="M463.42,109.13H467.22M465.32,107.04V111.22M463.42,107.04L467.22,111.22M463.42,111.22L467.22,107.04"/><path d="M465.07,90.32H468.87M466.97,88.23V92.41M465.07,88.23L468.87,92.41M465.07,92.41L468.87,88.23"/><path d="M466.72,72.36H470.51M468.62,70.27V74.45M466.72,70.27L470.51,74.45M466.72,74.45L470.51,70.27"/><path d="M468.36,56.51H472.16M470.26,54.42V58.60M468.36,54.42L472.16,58.60M468.36,58.60L472.16,54.42"/><path d="M470.01,43.83H473.81M471.91,41.74V45.92M470.01,41.74L473.81,45.92M470.01,45.92L473.81,41.74"/><path d="M471.66,36.22H475.46M473.56,34.13V38.31M471.66,34.13L475.46,38.31M471.66,38.31L475.46,34.13"/><path d="M473.31,36.22H477.11M475.21,34.13V38.31M473.31,34.13L477.11,38.31M473.31,38.31L477.11,34.13"/><path d="M474.96,41.93H478.76M476.86,39.84V44.02M474.96,39.84L478.76,44.02M474.96,44.02L478.76,39.84"/><path d="M476.61,51.86H480.40M478.50,49.77V53.95M476.61,49.77L480.40,53.95M476.61,53.95L480.40,49.77"/><path d="M478.25,66.44H482.05M480.15,64.35V68.53M478.25,64.35L482.05,68.53M478.25,68.53L482.05,64.35"/><path d="M479.90,83.14H483.70M481.80,81.05V85.23M479.90,81.05L483.70,85.23M479.90,85.23L483.70,81.05"/><path d="M481.55,100.47H485.35M483.45,98.38V102.56M481.55,98.38L485.35,102.56M481.55,102.56L485.35,98.38"/><path d="M483.20,115.68H487.00M485.10,113.59V117.77M483.20,113.59L487.00,117.77M483.20,117.77L487.00,113.59"/><path d="M484.85,130.90H488.65M486.75,128.81V132.99M484.85,128.81L488.65,132.99M484.85,132.99L488.65,128.81"/><path d="M486.50,142.73H490.29M488.39,140.64V144.82M486.50,140.64L490.29,144.82M486.50,144.82L490.29,140.64"/><path d="M488.14,152.88H491.94M490.04,150.79V154.97M488.14,150.79L491.94,154.97M488.14,154.97L491.94,150.79"/><path d="M489.79,160.49H493.59M491.69,158.40V162.58M489.79,158.40L493.59,162.58M489.79,162.58L493.59,158.40"/><path d="M491.44,167.04H495.24M493.34,164.95V169.13M491.44,164.95L495.24,169.13M491.44,169.13L495.24,164.95"/><path d="M493.09,171.90H496.89M494.99,169.81V173.99M493.09,169.81L496.89,173.99M493.09,173.99L496.89,169.81"/><path d="M494.74,174.86H498.54M496.64,172.77V176.95M494.74,172.77L498.54,176.95M494.74,176.95L498.54,172.77"/><path d="M496.38,176.76H500.18M498.28,174.67V178.85M496.38,174.67L500.18,178.85M496.38,178.85L500.18,174.67"/><path d="M498.03,178.24H501.83M499.93,176.15V180.33M498.03,176.15L501.83,180.33M498.03,180.33L501.83,176.15"/><path d="M499.68,179.06H503.48M501.58,176.97V181.15M499.68,176.97L503.48,181.15M499.68,181.15L503.48,176.97"/><path d="M501.33,179.72H505.13M503.23,177.63V181.81M501.33,177.63L505.13,181.81M501.33,181.81L505.13,177.63"/><path d="M502.98,180.40H506.78M504.88,178.31V182.49M502.98,178.31L506.78,182.49M502.98,182.49L506.78,178.31"/><path d="M504.63,181.06H508.43M506.53,178.97V183.15M504.63,178.97L508.43,183.15M504.63,183.15L508.43,178.97"/><path d="M506.27,181.62H510.07M508.17,179.53V183.71M506.27,179.53L510.07,183.71M506.27,183.71L510.07,179.53"/><path d="M507.92,182.08H511.72M509.82,179.99V184.17M507.92,179.99L511.72,184.17M507.92,184.17L511.72,179.99"/><path d="M509.57,182.46H513.37M511.47,180.37V184.55M509.57,180.37L513.37,184.55M509.57,184.55L513.37,180.37"/><path d="M511.22,182.79H515.02M513.12,180.70V184.88M511.22,180.70L515.02,184.88M511.22,184.88L515.02,180.70"/><path d="M512.87,183.08H516.67M514.77,180.99V185.17M512.87,180.99L516.67,185.17M512.87,185.17L516.67,180.99"/><path d="M514.52,183.31H518.32M516.42,181.22V185.40M514.52,181.22L518.32,185.40M514.52,185.40L518.32,181.22"/><path d="M516.16,183.49H519.96M518.06,181.40V185.58M516.16,181.40L519.96,185.58M516.16,185.58L519.96,181.40"/><path d="M517.81,183.67H521.61M519.71,181.58V185.76M517.81,181.58L521.61,185.76M517.81,185.76L521.61,181.58"/><path d="M519.46,183.83H523.26M521.36,181.74V185.92M519.46,181.74L523.26,185.92M519.46,185.92L523.26,181.74"/><path d="M521.11,183.97H524.91M523.01,181.88V186.06M521.11,181.88L524.91,186.06M521.11,186.06L524.91,181.88"/><path d="M522.76,184.10H526.56M524.66,182.01V186.19M522.76,182.01L526.56,186.19M522.76,186.19L526.56,182.01"/><path d="M524.41,184.21H528.21M526.31,182.12V186.30M524.41,182.12L528.21,186.30M524.41,186.30L528.21,182.12"/><path d="M526.05,184.30H529.85M527.95,182.21V186.39M526.05,182.21L529.85,186.39M526.05,186.39L529.85,182.21"/><path d="M527.70,184.37H531.50M529.60,182.28V186.46M527.70,182.28L531.50,186.46M527.70,186.46L531.50,182.28"/><path d="M529.35,184.42H533.15M531.25,182.33V186.51M529.35,182.33L533.15,186.51M529.35,186.51L533.15,182.33"/><path d="M531.00,184.47H534.80M532.90,182.38V186.56M531.00,182.38L534.80,186.56M531.00,186.56L534.80,182.38"/><path d="M532.65,184.52H536.45M534.55,182.43V186.61M532.65,182.43L536.45,186.61M532.65,186.61L536.45,182.43"/><path d="M534.30,184.56H538.10M536.20,182.47V186.65M534.30,182.47L538.10,186.65M534.30,186.65L538.10,182.47"/><path d="M535.95,184.60H539.75M537.85,182.51V186.69M535.95,182.51L539.75,186.69M535.95,186.69L539.75,182.51"/><path d="M537.59,184.64H541.39M539.49,182.55V186.73M537.59,182.55L541.39,186.73M537.59,186.73L541.39,182.55"/><path d="M539.24,184.67H543.04M541.14,182.58V186.76M539.24,182.58L543.04,186.76M539.24,186.76L543.04,182.58"/><path d="M540.89,184.70H544.69M542.79,182.61V186.79M540.89,182.61L544.69,186.79M540.89,186.79L544.69,182.61"/><path d="M542.54,184.73H546.34M544.44,182.64V186.82M542.54,182.64L546.34,186.82M542.54,186.82L546.34,182.64"/><path d="M544.19,184.75H547.99M546.09,182.66V186.84M544.19,182.66L547.99,186.84M544.19,186.84L547.99,182.66"/><path d="M545.84,184.77H549.63M547.74,182.68V186.86M545.84,182.68L549.63,186.86M545.84,186.86L549.63,182.68"/><path d="M547.48,184.79H551.28M549.38,182.70V186.88M547.48,182.70L551.28,186.88M547.48,186.88L551.28,182.70"/><path d="M549.13,184.81H552.93M551.03,182.72V186.90M549.13,182.72L552.93,186.90M549.13,186.90L552.93,182.72"/><path d="M550.78,184.82H554.58M552.68,182.73V186.91M550.78,182.73L554.58,186.91M550.78,186.91L554.58,182.73"/><path d="M552.43,184.84H556.23M554.33,182.75V186.93M552.43,182.75L556.23,186.93M552.43,186.93L556.23,182.75"/><path d="M554.08,184.85H557.88M555.98,182.76V186.94M554.08,182.76L557.88,186.94M554.08,186.94L557.88,182.76"/><path d="M555.73,184.87H559.52M557.62,182.78V186.96M555.73,182.78L559.52,186.96M555.73,186.96L559.52,182.78"/><path d="M557.37,184.88H561.17M559.27,182.79V186.97M557.37,182.79L561.17,186.97M557.37,186.97L561.17,182.79"/><path d="M559.02,184.90H562.82M560.92,182.81V186.99M559.02,182.81L562.82,186.99M559.02,186.99L562.82,182.81"/><path d="M560.67,184.91H564.47M562.57,182.82V187.00M560.67,182.82L564.47,187.00M560.67,187.00L564.47,182.82"/><path d="M562.32,184.92H566.12M564.22,182.83V187.01M562.32,182.83L566.12,187.01M562.32,187.01L566.12,182.83"/><path d="M563.97,184.94H567.77M565.87,182.85V187.03M563.97,182.85L567.77,187.03M563.97,187.03L567.77,182.85"/><path d="M565.62,184.95H569.41M567.51,182.86V187.04M565.62,182.86L569.41,187.04M565.62,187.04L569.41,182.86"/><path d="M567.26,184.96H571.06M569.16,182.87V187.05M567.26,182.87L571.06,187.05M567.26,187.05L571.06,182.87"/><path d="M568.91,184.97H572.71M570.81,182.88V187.06M568.91,182.88L572.71,187.06M568.91,187.06L572.71,182.88"/><path d="M570.56,184.98H574.36M572.46,182.89V187.07M570.56,182.89L574.36,187.07M570.56,187.07L574.36,182.89"/><path d="M572.21,184.98H576.01M574.11,182.89V187.07M572.21,182.89L576.01,187.07M572.21,187.07L576.01,182.89"/><path d="M573.86,184.99H577.66M575.76,182.90V187.08M573.86,182.90L577.66,187.08M573.86,187.08L577.66,182.90"/><path d="M575.50,184.99H579.30M577.40,182.90V187.08M575.50,182.90L579.30,187.08M575.50,187.08L579.30,182.90"/><path d="M577.15,185.00H580.95M579.05,182.91V187.09M577.15,182.91L580.95,187.09M577.15,187.09L580.95,182.91"/><path d="M578.80,185.00H582.60M580.70,182.91V187.09M578.80,182.91L582.60,187.09M578.80,187.09L582.60,182.91"/><path d="M580.45,185.00H584.25M582.35,182.91V187.09M580.45,182.91L584.25,187.09M580.45,187.09L584.25,182.91"/><path d="M582.10,185.00H585.90M584.00,182.91V187.09M582.10,182.91L585.90,187.09M582.10,187.09L585.90,182.91"/><path d="M583.75,185.00H587.55M585.65,182.91V187.09M583.75,182.91L587.55,187.09M583.75,187.09L587.55,182.91"/><path d="M585.39,185.00H589.19M587.29,182.91V187.09M585.39,182.91L589.19,187.09M585.39,187.09L589.19,182.91"/><path d="M587.04,185.00H590.84M588.94,182.91V187.09M587.04,182.91L590.84,187.09M587.04,187.09L590.84,182.91"/><path d="M588.69,185.00H592.49M590.59,182.91V187.09M588.69,182.91L592.49,187.09M588.69,187.09L592.49,182.91"/><path d="M590.34,185.00H594.14M592.24,182.91V187.09M590.34,182.91L594.14,187.09M590.34,187.09L594.14,182.91"/><path d="M591.99,185.00H595.79M593.89,182.91V187.09M591.99,182.91L595.79,187.09M591.99,187.09L595.79,182.91"/><path d="M593.64,185.00H597.44M595.54,182.91V187.09M593.64,182.91L597.44,187.09M593.64,187.09L597.44,182.91"/><path d="M595.28,185.00H599.08M597.18,182.91V187.09M595.28,182.91L599.08,187.09M595.28,187.09L599.08,182.91"/><path d="M596.93,185.00H600.73M598.83,182.91V187.09M596.93,182.91L600.73,187.09M596.93,187.09L600.73,182.91"/><path d="M598.58,185.00H602.38M600.48,182.91V187.09M598.58,182.91L602.38,187.09M598.58,187.09L602.38,182.91"/><path d="M600.23,185.00H604.03M602.13,182.91V187.09M600.23,182.91L604.03,187.09M600.23,187.09L604.03,182.91"/><path d="M601.88,185.00H605.68M603.78,182.91V187.09M601.88,182.91L605.68,187.09M601.88,187.09L605.68,182.91"/><path d="M603.53,185.00H607.33M605.43,182.91V187.09M603.53,182.91L607.33,187.09M603.53,187.09L607.33,182.91"/><path d="M605.17,185.00H608.97M607.07,182.91V187.09M605.17,182.91L608.97,187.09M605.17,187.09L608.97,182.91"/><path d="M606.82,185.00H610.62M608.72,182.91V187.09M606.82,182.91L610.62,187.09M606.82,187.09L610.62,182.91"/><path d="M608.47,185.00H612.27M610.37,182.91V187.09M608.47,182.91L612.27,187.09M608.47,187.09L612.27,182.91"/><path d="M610.12,185.00H613.92M612.02,182.91V187.09M610.12,182.91L613.92,187.09M610.12,187.09L613.92,182.91"/><path d="M611.77,185.00H615.57M613.67,182.91V187.09M611.77,182.91L615.57,187.09M611.77,187.09L615.57,182.91"/><path d="M613.42,185.00H617.22M615.32,182.91V187.09M613.42,182.91L617.22,187.09M613.42,187.09L617.22,182.91"/><path d="M615.06,185.00H618.86M616.96,182.91V187.09M615.06,182.91L618.86,187.09M615.06,187.09L618.86,182.91"/><path d="M616.71,185.00H620.51M618.61,182.91V187.09M616.71,182.91L620.51,187.09M616.71,187.09L620.51,182.91"/><path d="M618.36,185.00H622.16M620.26,182.91V187.09M618.36,182.91L622.16,187.09M618.36,187.09L622.16,182.91"/><path d="M620.01,185.00H623.81M621.91,182.91V187.09M620.01,182.91L623.81,187.09M620.01,187.09L623.81,182.91"/><path d="M621.66,185.00H625.46M623.56,182.91V187.09M621.66,182.91L625.46,187.09M621.66,187.09L625.46,182.91"/><path d="M623.31,185.00H627.11M625.21,182.91V187.09M623.31,182.91L627.11,187.09M623.31,187.09L627.11,182.91"/><path d="M624.96,185.00H628.75M626.86,182.91V187.09M624.96,182.91L628.75,187.09M624.96,187.09L628.75,182.91"/><path d="M626.60,185.00H630.40M628.50,182.91V187.09M626.60,182.91L630.40,187.09M626.60,187.09L630.40,182.91"/><path d="M628.25,185.00H632.05M630.15,182.91V187.09M628.25,182.91L632.05,187.09M628.25,187.09L632.05,182.91"/><path d="M629.90,185.00H633.70M631.80,182.91V187.09M629.90,182.91L633.70,187.09M629.90,187.09L633.70,182.91"/></g></g>
<g stroke="#000" stroke-opacity="0.72" fill="none" stroke-width="0.95"><rect x="434.0" y="26.5" width="197.79999999999995" height="158.5"/></g>
<text x="87.00" y="425.30" text-anchor="middle" font-size="11.6">0</text>
<text x="138.12" y="425.30" text-anchor="middle" font-size="11.6">30</text>
<text x="189.25" y="425.30" text-anchor="middle" font-size="11.6">60</text>
<text x="240.38" y="425.30" text-anchor="middle" font-size="11.6">90</text>
<text x="291.50" y="425.30" text-anchor="middle" font-size="11.6">120</text>
<text x="78.50" y="413.60" text-anchor="end" font-size="11.6">0</text>
<text x="78.50" y="365.50" text-anchor="end" font-size="11.6">0.01</text>
<text x="78.50" y="317.40" text-anchor="end" font-size="11.6">0.02</text>
<text x="78.50" y="269.31" text-anchor="end" font-size="11.6">0.03</text>
<path d="M85.50,409.5v-2.6M85.50,250.2v2.6M136.62,409.5v-2.6M136.62,250.2v2.6M187.75,409.5v-2.6M187.75,250.2v2.6M238.88,409.5v-2.6M238.88,250.2v2.6M290.00,409.5v-2.6M290.00,250.2v2.6M85.5,409.50h2.6M290.0,409.50h-2.6M85.5,361.40h2.6M290.0,361.40h-2.6M85.5,313.30h2.6M290.0,313.30h-2.6M85.5,265.21h2.6M290.0,265.21h-2.6" stroke="#000" stroke-opacity="0.72" stroke-width="0.95" fill="none"/>
<text x="187.75" y="442.70" text-anchor="middle" font-size="11.6">z</text>
<text transform="translate(33.5,330.25) rotate(-90)" text-anchor="middle" font-size="11.6">P<tspan font-size="9.5" dy="3.8">c</tspan><tspan dy="-3.8">(z)</tspan></text>
<text x="0.6" y="236.6" style="font-family:&quot;Liberation Serif&quot;,serif" font-size="16.2">(c)</text>
<text x="203.00" y="264.40" font-size="11.6" word-spacing="0.5">N =</text>
<text x="238.80" y="264.40" text-anchor="end" font-size="11.6">6</text>
<g stroke="#0000ff"><path d="M245.00,260.30H275.80" stroke-width="1.1" fill="none"/><g stroke-width="1.3" fill="#0000ff" fill-opacity="0.5" stroke-linejoin="round"><path d="M260.40,258.30L262.40,261.74L258.40,261.74Z"/></g></g>
<text x="203.00" y="278.43" font-size="11.6" word-spacing="0.5">N =</text>
<text x="238.80" y="278.43" text-anchor="end" font-size="11.6">12</text>
<g stroke="#ffa500"><path d="M245.00,274.33H275.80" stroke-width="0.9" stroke-dasharray="1.7,1.0" fill="none"/><g stroke-width="1.05" fill="none"><path d="M258.30,274.33H262.50M260.40,271.91V276.74"/></g></g>
<text x="203.00" y="292.46" font-size="11.6" word-spacing="0.5">N =</text>
<text x="238.80" y="292.46" text-anchor="end" font-size="11.6">24</text>
<g stroke="#00ff00"><path d="M245.00,288.36H275.80" stroke-width="0.9" stroke-dasharray="1,1.4" fill="none"/><g stroke-width="1.5" fill="none"><rect x="258.58" y="286.14" width="3.64" height="4.44"/></g></g>
<text x="203.00" y="306.49" font-size="11.6" word-spacing="0.5">N =</text>
<text x="238.80" y="306.49" text-anchor="end" font-size="11.6">48</text>
<g stroke="#ff0000"><path d="M245.00,302.39H275.80" stroke-width="0.55" fill="none"/><g stroke-width="1.15" fill="none" stroke-linecap="round"><path d="M258.50,302.39H262.30M260.40,300.30V304.48M258.50,300.30L262.30,304.48M258.50,304.48L262.30,300.30"/></g></g>
<text x="205.00" y="340.00" font-size="11.6">N<tspan font-size="9.28" dy="3.3" dx="0.3">b</tspan><tspan dy="-3.3"> = 131</tspan></text>
<text x="204.80" y="355.80" font-size="11.6">ε = 1.0</text>
<g stroke="#0000ff"><polyline points="85.50,267.13 87.20,344.09 88.91,319.08 90.61,319.56 92.32,318.11 94.02,314.27 95.72,309.46 97.43,304.17 99.13,299.36 100.84,295.99 102.54,295.51 104.25,296.95 105.95,300.32 107.65,304.59 109.36,307.93 111.06,311.40 112.77,315.27 114.47,318.91 116.17,321.94 117.88,324.64 119.58,327.04 121.29,329.16 122.99,331.11 124.70,333.00 126.40,334.80 128.10,336.53 129.81,338.21 131.51,339.82 133.22,341.41 134.92,342.98 136.62,344.57 138.33,346.20 140.03,347.85 141.74,349.45 143.44,350.97 145.15,352.42 146.85,353.85 148.55,355.24 150.26,356.58 151.96,357.85 153.67,359.05 155.37,360.15 157.07,361.10 158.78,361.96 160.48,362.89 162.19,363.98 163.89,365.18 165.60,366.43 167.30,367.72 169.00,369.00 170.71,370.25 172.41,371.48 174.12,372.72 175.82,373.95 177.52,375.15 179.23,376.31 180.93,377.44 182.64,378.53 184.34,379.60 186.05,380.64 187.75,381.65 189.45,382.64 191.16,383.62 192.86,384.56 194.57,385.47 196.27,386.32 197.97,387.11 199.68,387.87 201.38,388.60 203.09,389.30 204.79,389.97 206.50,390.63 208.20,391.27 209.90,391.89 211.61,392.48 213.31,393.05 215.02,393.59 216.72,394.09 218.42,394.58 220.13,395.07 221.83,395.55 223.54,396.04 225.24,396.52 226.95,397.00 228.65,397.48 230.35,397.96 232.06,398.45 233.76,398.96 235.47,399.45 237.17,399.93 238.88,400.36 240.58,400.76 242.28,401.14 243.99,401.51 245.69,401.86 247.40,402.20 249.10,402.53 250.80,402.84 252.51,403.15 254.21,403.44 255.92,403.73 257.62,404.01 259.32,404.28 261.03,404.55 262.73,404.81 264.44,405.06 266.14,405.30 267.85,405.53 269.55,405.74 271.25,405.94 272.96,406.13 274.66,406.31 276.37,406.48 278.07,406.65 279.77,406.81 281.48,406.96 283.18,407.10 284.89,407.24 286.59,407.36 288.30,407.47 290.00,407.58" stroke-width="1.1" fill="none"/><g stroke-width="1.3" fill="#0000ff" fill-opacity="0.5" stroke-linejoin="round"><path d="M85.50,265.13L87.50,268.57L83.50,268.57Z"/><path d="M87.20,342.09L89.20,345.53L85.20,345.53Z"/><path d="M88.91,317.08L90.91,320.52L86.91,320.52Z"/><path d="M90.61,317.56L92.61,321.00L88.61,321.00Z"/><path d="M92.32,316.11L94.32,319.55L90.32,319.55Z"/><path d="M94.02,312.27L96.02,315.71L92.02,315.71Z"/><path d="M95.72,307.46L97.72,310.90L93.72,310.90Z"/><path d="M97.43,302.17L99.43,305.61L95.43,305.61Z"/><path d="M99.13,297.36L101.13,300.80L97.13,300.80Z"/><path d="M100.84,293.99L102.84,297.43L98.84,297.43Z"/><path d="M102.54,293.51L104.54,296.95L100.54,296.95Z"/><path d="M104.25,294.95L106.25,298.39L102.25,298.39Z"/><path d="M105.95,298.32L107.95,301.76L103.95,301.76Z"/><path d="M107.65,302.59L109.65,306.03L105.65,306.03Z"/><path d="M109.36,305.93L111.36,309.37L107.36,309.37Z"/><path d="M111.06,309.40L113.06,312.84L109.06,312.84Z"/><path d="M112.77,313.27L114.77,316.71L110.77,316.71Z"/><path d="M114.47,316.91L116.47,320.35L112.47,320.35Z"/><path d="M116.17,319.94L118.17,323.38L114.17,323.38Z"/><path d="M117.88,322.64L119.88,326.08L115.88,326.08Z"/><path d="M119.58,325.04L121.58,328.48L117.58,328.48Z"/><path d="M121.29,327.16L123.29,330.60L119.29,330.60Z"/><path d="M122.99,329.11L124.99,332.55L120.99,332.55Z"/><path d="M124.70,331.00L126.70,334.44L122.70,334.44Z"/><path d="M126.40,332.80L128.40,336.24L124.40,336.24Z"/><path d="M128.10,334.53L130.10,337.97L126.10,337.97Z"/><path d="M129.81,336.21L131.81,339.65L127.81,339.65Z"/><path d="M131.51,337.82L133.51,341.26L129.51,341.26Z"/><path d="M133.22,339.41L135.22,342.85L131.22,342.85Z"/><path d="M134.92,340.98L136.92,344.42L132.92,344.42Z"/><path d="M136.62,342.57L138.62,346.01L134.62,346.01Z"/><path d="M138.33,344.20L140.33,347.64L136.33,347.64Z"/><path d="M140.03,345.85L142.03,349.29L138.03,349.29Z"/><path d="M141.74,347.45L143.74,350.89L139.74,350.89Z"/><path d="M143.44,348.97L145.44,352.41L141.44,352.41Z"/><path d="M145.15,350.42L147.15,353.86L143.15,353.86Z"/><path d="M146.85,351.85L148.85,355.29L144.85,355.29Z"/><path d="M148.55,353.24L150.55,356.68L146.55,356.68Z"/><path d="M150.26,354.58L152.26,358.02L148.26,358.02Z"/><path d="M151.96,355.85L153.96,359.29L149.96,359.29Z"/><path d="M153.67,357.05L155.67,360.49L151.67,360.49Z"/><path d="M155.37,358.15L157.37,361.59L153.37,361.59Z"/><path d="M157.07,359.10L159.07,362.54L155.07,362.54Z"/><path d="M158.78,359.96L160.78,363.40L156.78,363.40Z"/><path d="M160.48,360.89L162.48,364.33L158.48,364.33Z"/><path d="M162.19,361.98L164.19,365.42L160.19,365.42Z"/><path d="M163.89,363.18L165.89,366.62L161.89,366.62Z"/><path d="M165.60,364.43L167.60,367.87L163.60,367.87Z"/><path d="M167.30,365.72L169.30,369.16L165.30,369.16Z"/><path d="M169.00,367.00L171.00,370.44L167.00,370.44Z"/><path d="M170.71,368.25L172.71,371.69L168.71,371.69Z"/><path d="M172.41,369.48L174.41,372.92L170.41,372.92Z"/><path d="M174.12,370.72L176.12,374.16L172.12,374.16Z"/><path d="M175.82,371.95L177.82,375.39L173.82,375.39Z"/><path d="M177.52,373.15L179.52,376.59L175.52,376.59Z"/><path d="M179.23,374.31L181.23,377.75L177.23,377.75Z"/><path d="M180.93,375.44L182.93,378.88L178.93,378.88Z"/><path d="M182.64,376.53L184.64,379.97L180.64,379.97Z"/><path d="M184.34,377.60L186.34,381.04L182.34,381.04Z"/><path d="M186.05,378.64L188.05,382.08L184.05,382.08Z"/><path d="M187.75,379.65L189.75,383.09L185.75,383.09Z"/><path d="M189.45,380.64L191.45,384.08L187.45,384.08Z"/><path d="M191.16,381.62L193.16,385.06L189.16,385.06Z"/><path d="M192.86,382.56L194.86,386.00L190.86,386.00Z"/><path d="M194.57,383.47L196.57,386.91L192.57,386.91Z"/><path d="M196.27,384.32L198.27,387.76L194.27,387.76Z"/><path d="M197.97,385.11L199.97,388.55L195.97,388.55Z"/><path d="M199.68,385.87L201.68,389.31L197.68,389.31Z"/><path d="M201.38,386.60L203.38,390.04L199.38,390.04Z"/><path d="M203.09,387.30L205.09,390.74L201.09,390.74Z"/><path d="M204.79,387.97L206.79,391.41L202.79,391.41Z"/><path d="M206.50,388.63L208.50,392.07L204.50,392.07Z"/><path d="M208.20,389.27L210.20,392.71L206.20,392.71Z"/><path d="M209.90,389.89L211.90,393.33L207.90,393.33Z"/><path d="M211.61,390.48L213.61,393.92L209.61,393.92Z"/><path d="M213.31,391.05L215.31,394.49L211.31,394.49Z"/><path d="M215.02,391.59L217.02,395.03L213.02,395.03Z"/><path d="M216.72,392.09L218.72,395.53L214.72,395.53Z"/><path d="M218.42,392.58L220.42,396.02L216.42,396.02Z"/><path d="M220.13,393.07L222.13,396.51L218.13,396.51Z"/><path d="M221.83,393.55L223.83,396.99L219.83,396.99Z"/><path d="M223.54,394.04L225.54,397.48L221.54,397.48Z"/><path d="M225.24,394.52L227.24,397.96L223.24,397.96Z"/><path d="M226.95,395.00L228.95,398.44L224.95,398.44Z"/><path d="M228.65,395.48L230.65,398.92L226.65,398.92Z"/><path d="M230.35,395.96L232.35,399.40L228.35,399.40Z"/><path d="M232.06,396.45L234.06,399.89L230.06,399.89Z"/><path d="M233.76,396.96L235.76,400.40L231.76,400.40Z"/><path d="M235.47,397.45L237.47,400.89L233.47,400.89Z"/><path d="M237.17,397.93L239.17,401.37L235.17,401.37Z"/><path d="M238.88,398.36L240.88,401.80L236.88,401.80Z"/><path d="M240.58,398.76L242.58,402.20L238.58,402.20Z"/><path d="M242.28,399.14L244.28,402.58L240.28,402.58Z"/><path d="M243.99,399.51L245.99,402.95L241.99,402.95Z"/><path d="M245.69,399.86L247.69,403.30L243.69,403.30Z"/><path d="M247.40,400.20L249.40,403.64L245.40,403.64Z"/><path d="M249.10,400.53L251.10,403.97L247.10,403.97Z"/><path d="M250.80,400.84L252.80,404.28L248.80,404.28Z"/><path d="M252.51,401.15L254.51,404.59L250.51,404.59Z"/><path d="M254.21,401.44L256.21,404.88L252.21,404.88Z"/><path d="M255.92,401.73L257.92,405.17L253.92,405.17Z"/><path d="M257.62,402.01L259.62,405.45L255.62,405.45Z"/><path d="M259.32,402.28L261.32,405.72L257.32,405.72Z"/><path d="M261.03,402.55L263.03,405.99L259.03,405.99Z"/><path d="M262.73,402.81L264.73,406.25L260.73,406.25Z"/><path d="M264.44,403.06L266.44,406.50L262.44,406.50Z"/><path d="M266.14,403.30L268.14,406.74L264.14,406.74Z"/><path d="M267.85,403.53L269.85,406.97L265.85,406.97Z"/><path d="M269.55,403.74L271.55,407.18L267.55,407.18Z"/><path d="M271.25,403.94L273.25,407.38L269.25,407.38Z"/><path d="M272.96,404.13L274.96,407.57L270.96,407.57Z"/><path d="M274.66,404.31L276.66,407.75L272.66,407.75Z"/><path d="M276.37,404.48L278.37,407.92L274.37,407.92Z"/><path d="M278.07,404.65L280.07,408.09L276.07,408.09Z"/><path d="M279.77,404.81L281.77,408.25L277.77,408.25Z"/><path d="M281.48,404.96L283.48,408.40L279.48,408.40Z"/><path d="M283.18,405.10L285.18,408.54L281.18,408.54Z"/><path d="M284.89,405.24L286.89,408.68L282.89,408.68Z"/><path d="M286.59,405.36L288.59,408.80L284.59,408.80Z"/><path d="M288.30,405.47L290.30,408.91L286.30,408.91Z"/><path d="M290.00,405.58L292.00,409.02L288.00,409.02Z"/></g></g>
<g stroke="#ffa500"><polyline points="85.50,280.21 87.20,349.38 88.91,322.92 90.61,326.77 92.32,325.44 94.02,322.39 95.72,319.08 97.43,315.60 99.13,311.75 100.84,308.49 102.54,306.00 104.25,304.17 105.95,302.95 107.65,302.87 109.36,303.68 111.06,304.93 112.77,306.71 114.47,309.17 116.17,312.34 117.88,315.83 119.58,319.33 121.29,323.13 122.99,326.94 124.70,330.40 126.40,333.69 128.10,337.21 129.81,340.72 131.51,343.92 133.22,346.93 134.92,349.61 136.62,351.98 138.33,354.17 140.03,356.13 141.74,357.79 143.44,359.23 145.15,360.53 146.85,361.72 148.55,362.82 150.26,363.87 151.96,364.87 153.67,365.85 155.37,366.84 157.07,367.80 158.78,368.71 160.48,369.58 162.19,370.42 163.89,371.24 165.60,372.04 167.30,372.83 169.00,373.61 170.71,374.39 172.41,375.18 174.12,375.96 175.82,376.74 177.52,377.50 179.23,378.24 180.93,378.94 182.64,379.62 184.34,380.28 186.05,380.94 187.75,381.60 189.45,382.29 191.16,382.99 192.86,383.68 194.57,384.35 196.27,384.97 197.97,385.54 199.68,386.07 201.38,386.59 203.09,387.10 204.79,387.62 206.50,388.14 208.20,388.66 209.90,389.19 211.61,389.72 213.31,390.26 215.02,390.83 216.72,391.42 218.42,392.02 220.13,392.60 221.83,393.15 223.54,393.66 225.24,394.14 226.95,394.61 228.65,395.08 230.35,395.55 232.06,396.04 233.76,396.54 235.47,397.04 237.17,397.52 238.88,397.96 240.58,398.37 242.28,398.77 243.99,399.16 245.69,399.54 247.40,399.90 249.10,400.26 250.80,400.60 252.51,400.93 254.21,401.25 255.92,401.56 257.62,401.87 259.32,402.17 261.03,402.46 262.73,402.75 264.44,403.02 266.14,403.29 267.85,403.54 269.55,403.78 271.25,404.01 272.96,404.21 274.66,404.40 276.37,404.59 278.07,404.77 279.77,404.94 281.48,405.10 283.18,405.25 284.89,405.39 286.59,405.52 288.30,405.64 290.00,405.75" stroke-width="0.9" stroke-dasharray="1.7,1.0" fill="none"/><g stroke-width="1.05" fill="none"><path d="M83.40,280.21H87.60M85.50,277.80V282.63"/><path d="M85.10,349.38H89.30M87.20,346.96V351.79"/><path d="M86.81,322.92H91.01M88.91,320.51V325.34"/><path d="M88.51,326.77H92.71M90.61,324.36V329.19"/><path d="M90.22,325.44H94.42M92.32,323.02V327.85"/><path d="M91.92,322.39H96.12M94.02,319.98V324.81"/><path d="M93.62,319.08H97.82M95.72,316.66V321.49"/><path d="M95.33,315.60H99.53M97.43,313.18V318.01"/><path d="M97.03,311.75H101.23M99.13,309.34V314.17"/><path d="M98.74,308.49H102.94M100.84,306.08V310.91"/><path d="M100.44,306.00H104.64M102.54,303.58V308.41"/><path d="M102.15,304.17H106.35M104.25,301.75V306.58"/><path d="M103.85,302.95H108.05M105.95,300.54V305.37"/><path d="M105.55,302.87H109.75M107.65,300.46V305.29"/><path d="M107.26,303.68H111.46M109.36,301.27V306.10"/><path d="M108.96,304.93H113.16M111.06,302.51V307.34"/><path d="M110.67,306.71H114.87M112.77,304.30V309.13"/><path d="M112.37,309.17H116.57M114.47,306.76V311.59"/><path d="M114.08,312.34H118.27M116.17,309.93V314.76"/><path d="M115.78,315.83H119.98M117.88,313.42V318.25"/><path d="M117.48,319.33H121.68M119.58,316.92V321.75"/><path d="M119.19,323.13H123.39M121.29,320.71V325.54"/><path d="M120.89,326.94H125.09M122.99,324.53V329.36"/><path d="M122.60,330.40H126.80M124.70,327.98V332.81"/><path d="M124.30,333.69H128.50M126.40,331.28V336.11"/><path d="M126.00,337.21H130.20M128.10,334.79V339.62"/><path d="M127.71,340.72H131.91M129.81,338.31V343.14"/><path d="M129.41,343.92H133.61M131.51,341.50V346.33"/><path d="M131.12,346.93H135.32M133.22,344.52V349.35"/><path d="M132.82,349.61H137.02M134.92,347.20V352.03"/><path d="M134.53,351.98H138.72M136.62,349.57V354.40"/><path d="M136.23,354.17H140.43M138.33,351.76V356.59"/><path d="M137.93,356.13H142.13M140.03,353.71V358.54"/><path d="M139.64,357.79H143.84M141.74,355.38V360.21"/><path d="M141.34,359.23H145.54M143.44,356.81V361.64"/><path d="M143.05,360.53H147.25M145.15,358.11V362.94"/><path d="M144.75,361.72H148.95M146.85,359.30V364.13"/><path d="M146.45,362.82H150.65M148.55,360.41V365.24"/><path d="M148.16,363.87H152.36M150.26,361.45V366.28"/><path d="M149.86,364.87H154.06M151.96,362.45V367.28"/><path d="M151.57,365.85H155.77M153.67,363.44V368.27"/><path d="M153.27,366.84H157.47M155.37,364.42V369.25"/><path d="M154.97,367.80H159.17M157.07,365.38V370.21"/><path d="M156.68,368.71H160.88M158.78,366.29V371.12"/><path d="M158.38,369.58H162.58M160.48,367.16V371.99"/><path d="M160.09,370.42H164.29M162.19,368.01V372.84"/><path d="M161.79,371.24H165.99M163.89,368.83V373.66"/><path d="M163.50,372.04H167.70M165.60,369.63V374.46"/><path d="M165.20,372.83H169.40M167.30,370.41V375.24"/><path d="M166.90,373.61H171.10M169.00,371.19V376.02"/><path d="M168.61,374.39H172.81M170.71,371.97V376.80"/><path d="M170.31,375.18H174.51M172.41,372.76V377.59"/><path d="M172.02,375.96H176.22M174.12,373.55V378.38"/><path d="M173.72,376.74H177.92M175.82,374.33V379.16"/><path d="M175.42,377.50H179.62M177.52,375.09V379.92"/><path d="M177.13,378.24H181.33M179.23,375.82V380.65"/><path d="M178.83,378.94H183.03M180.93,376.52V381.35"/><path d="M180.54,379.62H184.74M182.64,377.20V382.03"/><path d="M182.24,380.28H186.44M184.34,377.86V382.69"/><path d="M183.95,380.94H188.15M186.05,378.52V383.35"/><path d="M185.65,381.60H189.85M187.75,379.19V384.02"/><path d="M187.35,382.29H191.55M189.45,379.87V384.70"/><path d="M189.06,382.99H193.26M191.16,380.57V385.40"/><path d="M190.76,383.68H194.96M192.86,381.27V386.10"/><path d="M192.47,384.35H196.67M194.57,381.93V386.76"/><path d="M194.17,384.97H198.37M196.27,382.56V387.39"/><path d="M195.88,385.54H200.07M197.97,383.12V387.95"/><path d="M197.58,386.07H201.78M199.68,383.66V388.49"/><path d="M199.28,386.59H203.48M201.38,384.17V389.00"/><path d="M200.99,387.10H205.19M203.09,384.68V389.51"/><path d="M202.69,387.62H206.89M204.79,385.20V390.03"/><path d="M204.40,388.14H208.60M206.50,385.73V390.56"/><path d="M206.10,388.66H210.30M208.20,386.25V391.08"/><path d="M207.80,389.19H212.00M209.90,386.77V391.60"/><path d="M209.51,389.72H213.71M211.61,387.30V392.13"/><path d="M211.21,390.26H215.41M213.31,387.85V392.68"/><path d="M212.92,390.83H217.12M215.02,388.42V393.25"/><path d="M214.62,391.42H218.82M216.72,389.01V393.84"/><path d="M216.32,392.02H220.52M218.42,389.60V394.43"/><path d="M218.03,392.60H222.23M220.13,390.18V395.01"/><path d="M219.73,393.15H223.93M221.83,390.73V395.56"/><path d="M221.44,393.66H225.64M223.54,391.24V396.07"/><path d="M223.14,394.14H227.34M225.24,391.73V396.56"/><path d="M224.85,394.61H229.05M226.95,392.20V397.03"/><path d="M226.55,395.08H230.75M228.65,392.66V397.49"/><path d="M228.25,395.55H232.45M230.35,393.14V397.97"/><path d="M229.96,396.04H234.16M232.06,393.63V398.46"/><path d="M231.66,396.54H235.86M233.76,394.13V398.96"/><path d="M233.37,397.04H237.57M235.47,394.62V399.45"/><path d="M235.07,397.52H239.27M237.17,395.10V399.93"/><path d="M236.78,397.96H240.97M238.88,395.54V400.37"/><path d="M238.48,398.37H242.68M240.58,395.95V400.78"/><path d="M240.18,398.77H244.38M242.28,396.36V401.19"/><path d="M241.89,399.16H246.09M243.99,396.74V401.57"/><path d="M243.59,399.54H247.79M245.69,397.12V401.95"/><path d="M245.30,399.90H249.50M247.40,397.49V402.32"/><path d="M247.00,400.26H251.20M249.10,397.84V402.67"/><path d="M248.70,400.60H252.90M250.80,398.18V403.01"/><path d="M250.41,400.93H254.61M252.51,398.52V403.35"/><path d="M252.11,401.25H256.31M254.21,398.84V403.67"/><path d="M253.82,401.56H258.02M255.92,399.15V403.98"/><path d="M255.52,401.87H259.72M257.62,399.45V404.28"/><path d="M257.22,402.17H261.43M259.32,399.75V404.58"/><path d="M258.93,402.46H263.13M261.03,400.05V404.88"/><path d="M260.63,402.75H264.83M262.73,400.33V405.16"/><path d="M262.34,403.02H266.54M264.44,400.61V405.44"/><path d="M264.04,403.29H268.24M266.14,400.88V405.71"/><path d="M265.75,403.54H269.95M267.85,401.13V405.96"/><path d="M267.45,403.78H271.65M269.55,401.37V406.20"/><path d="M269.15,404.01H273.35M271.25,401.59V406.42"/><path d="M270.86,404.21H275.06M272.96,401.79V406.62"/><path d="M272.56,404.40H276.76M274.66,401.99V406.82"/><path d="M274.27,404.59H278.47M276.37,402.17V407.00"/><path d="M275.97,404.77H280.17M278.07,402.35V407.18"/><path d="M277.67,404.94H281.88M279.77,402.52V407.35"/><path d="M279.38,405.10H283.58M281.48,402.68V407.51"/><path d="M281.08,405.25H285.28M283.18,402.84V407.67"/><path d="M282.79,405.39H286.99M284.89,402.98V407.81"/><path d="M284.49,405.52H288.69M286.59,403.11V407.94"/><path d="M286.20,405.64H290.40M288.30,403.23V408.06"/><path d="M287.90,405.75H292.10M290.00,403.33V408.16"/></g></g>
<g stroke="#00ff00"><polyline points="85.50,257.99 87.20,339.76 88.91,310.90 90.61,322.92 92.32,322.19 94.02,320.52 95.72,316.80 97.43,313.14 99.13,309.53 100.84,304.90 102.54,301.94 104.25,298.98 105.95,295.95 107.65,293.10 109.36,290.58 111.06,288.77 112.77,287.78 114.47,287.33 116.17,287.96 117.88,289.26 119.58,291.19 121.29,293.58 122.99,295.77 124.70,298.04 126.40,300.80 128.10,304.79 129.81,309.11 131.51,313.84 133.22,319.08 134.92,324.31 136.62,329.74 138.33,335.49 140.03,340.74 141.74,345.70 143.44,350.30 145.15,354.61 146.85,358.65 148.55,362.36 150.26,365.82 151.96,369.09 153.67,372.11 155.37,374.87 157.07,377.44 158.78,379.78 160.48,381.65 162.19,383.09 163.89,384.35 165.60,385.46 167.30,386.46 169.00,387.41 170.71,388.34 172.41,389.26 174.12,390.14 175.82,390.97 177.52,391.72 179.23,392.38 180.93,392.95 182.64,393.47 184.34,393.95 186.05,394.38 187.75,394.78 189.45,395.15 191.16,395.48 192.86,395.78 194.57,396.08 196.27,396.37 197.97,396.66 199.68,396.94 201.38,397.21 203.09,397.47 204.79,397.72 206.50,397.95 208.20,398.18 209.90,398.41 211.61,398.62 213.31,398.82 215.02,399.02 216.72,399.20 218.42,399.38 220.13,399.56 221.83,399.74 223.54,399.92 225.24,400.09 226.95,400.27 228.65,400.45 230.35,400.65 232.06,400.86 233.76,401.10 235.47,401.33 237.17,401.57 238.88,401.80 240.58,402.03 242.28,402.26 243.99,402.49 245.69,402.72 247.40,402.95 249.10,403.17 250.80,403.39 252.51,403.59 254.21,403.79 255.92,403.97 257.62,404.14 259.32,404.30 261.03,404.46 262.73,404.61 264.44,404.75 266.14,404.89 267.85,405.03 269.55,405.16 271.25,405.29 272.96,405.41 274.66,405.53 276.37,405.65 278.07,405.77 279.77,405.88 281.48,405.99 283.18,406.09 284.89,406.19 286.59,406.29 288.30,406.38 290.00,406.47" stroke-width="0.9" stroke-dasharray="1,1.4" fill="none"/><g stroke-width="1.5" fill="none"><rect x="83.68" y="255.77" width="3.64" height="4.44"/><rect x="85.38" y="337.54" width="3.64" height="4.44"/><rect x="87.09" y="308.68" width="3.64" height="4.44"/><rect x="88.79" y="320.70" width="3.64" height="4.44"/><rect x="90.50" y="319.97" width="3.64" height="4.44"/><rect x="92.20" y="318.30" width="3.64" height="4.44"/><rect x="93.91" y="314.58" width="3.64" height="4.44"/><rect x="95.61" y="310.92" width="3.64" height="4.44"/><rect x="97.31" y="307.31" width="3.64" height="4.44"/><rect x="99.02" y="302.68" width="3.64" height="4.44"/><rect x="100.72" y="299.72" width="3.64" height="4.44"/><rect x="102.43" y="296.76" width="3.64" height="4.44"/><rect x="104.13" y="293.73" width="3.64" height="4.44"/><rect x="105.83" y="290.88" width="3.64" height="4.44"/><rect x="107.54" y="288.36" width="3.64" height="4.44"/><rect x="109.24" y="286.55" width="3.64" height="4.44"/><rect x="110.95" y="285.56" width="3.64" height="4.44"/><rect x="112.65" y="285.11" width="3.64" height="4.44"/><rect x="114.36" y="285.74" width="3.64" height="4.44"/><rect x="116.06" y="287.04" width="3.64" height="4.44"/><rect x="117.76" y="288.96" width="3.64" height="4.44"/><rect x="119.47" y="291.36" width="3.64" height="4.44"/><rect x="121.17" y="293.55" width="3.64" height="4.44"/><rect x="122.88" y="295.82" width="3.64" height="4.44"/><rect x="124.58" y="298.58" width="3.64" height="4.44"/><rect x="126.28" y="302.57" width="3.64" height="4.44"/><rect x="127.99" y="306.89" width="3.64" height="4.44"/><rect x="129.69" y="311.62" width="3.64" height="4.44"/><rect x="131.40" y="316.86" width="3.64" height="4.44"/><rect x="133.10" y="322.09" width="3.64" height="4.44"/><rect x="134.81" y="327.52" width="3.64" height="4.44"/><rect x="136.51" y="333.27" width="3.64" height="4.44"/><rect x="138.21" y="338.52" width="3.64" height="4.44"/><rect x="139.92" y="343.47" width="3.64" height="4.44"/><rect x="141.62" y="348.08" width="3.64" height="4.44"/><rect x="143.33" y="352.39" width="3.64" height="4.44"/><rect x="145.03" y="356.43" width="3.64" height="4.44"/><rect x="146.73" y="360.14" width="3.64" height="4.44"/><rect x="148.44" y="363.60" width="3.64" height="4.44"/><rect x="150.14" y="366.87" width="3.64" height="4.44"/><rect x="151.85" y="369.89" width="3.64" height="4.44"/><rect x="153.55" y="372.65" width="3.64" height="4.44"/><rect x="155.25" y="375.22" width="3.64" height="4.44"/><rect x="156.96" y="377.56" width="3.64" height="4.44"/><rect x="158.66" y="379.43" width="3.64" height="4.44"/><rect x="160.37" y="380.87" width="3.64" height="4.44"/><rect x="162.07" y="382.13" width="3.64" height="4.44"/><rect x="163.78" y="383.24" width="3.64" height="4.44"/><rect x="165.48" y="384.24" width="3.64" height="4.44"/><rect x="167.18" y="385.19" width="3.64" height="4.44"/><rect x="168.89" y="386.12" width="3.64" height="4.44"/><rect x="170.59" y="387.04" width="3.64" height="4.44"/><rect x="172.30" y="387.92" width="3.64" height="4.44"/><rect x="174.00" y="388.75" width="3.64" height="4.44"/><rect x="175.70" y="389.50" width="3.64" height="4.44"/><rect x="177.41" y="390.16" width="3.64" height="4.44"/><rect x="179.11" y="390.73" width="3.64" height="4.44"/><rect x="180.82" y="391.25" width="3.64" height="4.44"/><rect x="182.52" y="391.73" width="3.64" height="4.44"/><rect x="184.23" y="392.16" width="3.64" height="4.44"/><rect x="185.93" y="392.56" width="3.64" height="4.44"/><rect x="187.63" y="392.92" width="3.64" height="4.44"/><rect x="189.34" y="393.26" width="3.64" height="4.44"/><rect x="191.04" y="393.56" width="3.64" height="4.44"/><rect x="192.75" y="393.86" width="3.64" height="4.44"/><rect x="194.45" y="394.15" width="3.64" height="4.44"/><rect x="196.16" y="394.44" width="3.64" height="4.44"/><rect x="197.86" y="394.72" width="3.64" height="4.44"/><rect x="199.56" y="394.99" width="3.64" height="4.44"/><rect x="201.27" y="395.25" width="3.64" height="4.44"/><rect x="202.97" y="395.50" width="3.64" height="4.44"/><rect x="204.68" y="395.73" width="3.64" height="4.44"/><rect x="206.38" y="395.96" width="3.64" height="4.44"/><rect x="208.08" y="396.18" width="3.64" height="4.44"/><rect x="209.79" y="396.40" width="3.64" height="4.44"/><rect x="211.49" y="396.60" width="3.64" height="4.44"/><rect x="213.20" y="396.80" width="3.64" height="4.44"/><rect x="214.90" y="396.98" width="3.64" height="4.44"/><rect x="216.60" y="397.16" width="3.64" height="4.44"/><rect x="218.31" y="397.34" width="3.64" height="4.44"/><rect x="220.01" y="397.52" width="3.64" height="4.44"/><rect x="221.72" y="397.70" width="3.64" height="4.44"/><rect x="223.42" y="397.87" width="3.64" height="4.44"/><rect x="225.13" y="398.05" width="3.64" height="4.44"/><rect x="226.83" y="398.23" width="3.64" height="4.44"/><rect x="228.53" y="398.43" width="3.64" height="4.44"/><rect x="230.24" y="398.64" width="3.64" height="4.44"/><rect x="231.94" y="398.88" width="3.64" height="4.44"/><rect x="233.65" y="399.11" width="3.64" height="4.44"/><rect x="235.35" y="399.35" width="3.64" height="4.44"/><rect x="237.06" y="399.58" width="3.64" height="4.44"/><rect x="238.76" y="399.81" width="3.64" height="4.44"/><rect x="240.46" y="400.04" width="3.64" height="4.44"/><rect x="242.17" y="400.27" width="3.64" height="4.44"/><rect x="243.87" y="400.50" width="3.64" height="4.44"/><rect x="245.58" y="400.73" width="3.64" height="4.44"/><rect x="247.28" y="400.95" width="3.64" height="4.44"/><rect x="248.98" y="401.17" width="3.64" height="4.44"/><rect x="250.69" y="401.37" width="3.64" height="4.44"/><rect x="252.39" y="401.57" width="3.64" height="4.44"/><rect x="254.10" y="401.75" width="3.64" height="4.44"/><rect x="255.80" y="401.92" width="3.64" height="4.44"/><rect x="257.50" y="402.08" width="3.64" height="4.44"/><rect x="259.21" y="402.24" width="3.64" height="4.44"/><rect x="260.91" y="402.39" width="3.64" height="4.44"/><rect x="262.62" y="402.53" width="3.64" height="4.44"/><rect x="264.32" y="402.67" width="3.64" height="4.44"/><rect x="266.03" y="402.81" width="3.64" height="4.44"/><rect x="267.73" y="402.94" width="3.64" height="4.44"/><rect x="269.43" y="403.07" width="3.64" height="4.44"/><rect x="271.14" y="403.19" width="3.64" height="4.44"/><rect x="272.84" y="403.31" width="3.64" height="4.44"/><rect x="274.55" y="403.43" width="3.64" height="4.44"/><rect x="276.25" y="403.54" width="3.64" height="4.44"/><rect x="277.95" y="403.66" width="3.64" height="4.44"/><rect x="279.66" y="403.76" width="3.64" height="4.44"/><rect x="281.36" y="403.87" width="3.64" height="4.44"/><rect x="283.07" y="403.97" width="3.64" height="4.44"/><rect x="284.77" y="404.07" width="3.64" height="4.44"/><rect x="286.48" y="404.16" width="3.64" height="4.44"/><rect x="288.18" y="404.25" width="3.64" height="4.44"/></g></g>
<g stroke="#ff0000"><polyline points="85.50,257.99 87.20,339.76 88.91,310.90 90.61,325.33 92.32,328.12 94.02,329.69 95.72,330.13 97.43,329.53 99.13,328.26 100.84,326.73 102.54,325.18 104.25,323.28 105.95,321.19 107.65,318.93 109.36,316.46 111.06,313.89 112.77,311.08 114.47,308.47 116.17,306.30 117.88,304.38 119.58,302.97 121.29,301.91 122.99,301.10 124.70,300.53 126.40,300.05 128.10,299.84 129.81,300.15 131.51,300.80 133.22,301.73 134.92,303.07 136.62,304.65 138.33,306.55 140.03,308.98 141.74,312.25 143.44,316.20 145.15,320.04 146.85,323.51 148.55,326.90 150.26,330.22 151.96,333.50 153.67,336.75 155.37,340.00 157.07,343.24 158.78,346.44 160.48,349.61 162.19,352.74 163.89,355.84 165.60,358.90 167.30,361.92 169.00,364.87 170.71,367.68 172.41,370.47 174.12,373.43 175.82,376.83 177.52,380.48 179.23,383.94 180.93,386.84 182.64,389.50 184.34,391.95 186.05,394.14 187.75,396.03 189.45,397.68 191.16,399.17 192.86,400.52 194.57,401.71 196.27,402.77 197.97,403.72 199.68,404.60 201.38,405.39 203.09,406.07 204.79,406.61 206.50,407.06 208.20,407.45 209.90,407.78 211.61,408.07 213.31,408.30 215.02,408.49 216.72,408.66 218.42,408.81 220.13,408.93 221.83,409.02 223.54,409.09 225.24,409.17 226.95,409.24 228.65,409.30 230.35,409.35 232.06,409.40 233.76,409.44 235.47,409.47 237.17,409.49 238.88,409.50 240.58,409.50 242.28,409.50 243.99,409.50 245.69,409.50 247.40,409.50 249.10,409.50 250.80,409.50 252.51,409.50 254.21,409.50 255.92,409.50 257.62,409.50 259.32,409.50 261.03,409.50 262.73,409.50 264.44,409.50 266.14,409.50 267.85,409.50 269.55,409.50 271.25,409.50 272.96,409.50 274.66,409.50 276.37,409.50 278.07,409.50 279.77,409.50 281.48,409.50 283.18,409.50 284.89,409.50 286.59,409.50 288.30,409.50 290.00,409.50" stroke-width="0.55" fill="none"/><g stroke-width="1.15" fill="none" stroke-linecap="round"><path d="M83.60,257.99H87.40M85.50,255.90V260.08M83.60,255.90L87.40,260.08M83.60,260.08L87.40,255.90"/><path d="M85.30,339.76H89.10M87.20,337.67V341.85M85.30,337.67L89.10,341.85M85.30,341.85L89.10,337.67"/><path d="M87.01,310.90H90.81M88.91,308.81V312.99M87.01,308.81L90.81,312.99M87.01,312.99L90.81,308.81"/><path d="M88.71,325.33H92.51M90.61,323.24V327.42M88.71,323.24L92.51,327.42M88.71,327.42L92.51,323.24"/><path d="M90.42,328.12H94.22M92.32,326.03V330.21M90.42,326.03L94.22,330.21M90.42,330.21L94.22,326.03"/><path d="M92.12,329.69H95.92M94.02,327.60V331.78M92.12,327.60L95.92,331.78M92.12,331.78L95.92,327.60"/><path d="M93.82,330.13H97.62M95.72,328.04V332.22M93.82,328.04L97.62,332.22M93.82,332.22L97.62,328.04"/><path d="M95.53,329.53H99.33M97.43,327.44V331.62M95.53,327.44L99.33,331.62M95.53,331.62L99.33,327.44"/><path d="M97.23,328.26H101.03M99.13,326.17V330.35M97.23,326.17L101.03,330.35M97.23,330.35L101.03,326.17"/><path d="M98.94,326.73H102.74M100.84,324.64V328.82M98.94,324.64L102.74,328.82M98.94,328.82L102.74,324.64"/><path d="M100.64,325.18H104.44M102.54,323.09V327.27M100.64,323.09L104.44,327.27M100.64,327.27L104.44,323.09"/><path d="M102.35,323.28H106.15M104.25,321.19V325.37M102.35,321.19L106.15,325.37M102.35,325.37L106.15,321.19"/><path d="M104.05,321.19H107.85M105.95,319.10V323.28M104.05,319.10L107.85,323.28M104.05,323.28L107.85,319.10"/><path d="M105.75,318.93H109.55M107.65,316.84V321.02M105.75,316.84L109.55,321.02M105.75,321.02L109.55,316.84"/><path d="M107.46,316.46H111.26M109.36,314.37V318.55M107.46,314.37L111.26,318.55M107.46,318.55L111.26,314.37"/><path d="M109.16,313.89H112.96M111.06,311.80V315.98M109.16,311.80L112.96,315.98M109.16,315.98L112.96,311.80"/><path d="M110.87,311.08H114.67M112.77,308.99V313.17M110.87,308.99L114.67,313.17M110.87,313.17L114.67,308.99"/><path d="M112.57,308.47H116.37M114.47,306.38V310.56M112.57,306.38L116.37,310.56M112.57,310.56L116.37,306.38"/><path d="M114.27,306.30H118.08M116.17,304.21V308.39M114.27,304.21L118.08,308.39M114.27,308.39L118.08,304.21"/><path d="M115.98,304.38H119.78M117.88,302.29V306.47M115.98,302.29L119.78,306.47M115.98,306.47L119.78,302.29"/><path d="M117.68,302.97H121.48M119.58,300.88V305.06M117.68,300.88L121.48,305.06M117.68,305.06L121.48,300.88"/><path d="M119.39,301.91H123.19M121.29,299.82V304.00M119.39,299.82L123.19,304.00M119.39,304.00L123.19,299.82"/><path d="M121.09,301.10H124.89M122.99,299.01V303.19M121.09,299.01L124.89,303.19M121.09,303.19L124.89,299.01"/><path d="M122.80,300.53H126.60M124.70,298.44V302.62M122.80,298.44L126.60,302.62M122.80,302.62L126.60,298.44"/><path d="M124.50,300.05H128.30M126.40,297.96V302.14M124.50,297.96L128.30,302.14M124.50,302.14L128.30,297.96"/><path d="M126.20,299.84H130.00M128.10,297.75V301.93M126.20,297.75L130.00,301.93M126.20,301.93L130.00,297.75"/><path d="M127.91,300.15H131.71M129.81,298.06V302.24M127.91,298.06L131.71,302.24M127.91,302.24L131.71,298.06"/><path d="M129.61,300.80H133.41M131.51,298.71V302.89M129.61,298.71L133.41,302.89M129.61,302.89L133.41,298.71"/><path d="M131.32,301.73H135.12M133.22,299.64V303.82M131.32,299.64L135.12,303.82M131.32,303.82L135.12,299.64"/><path d="M133.02,303.07H136.82M134.92,300.98V305.16M133.02,300.98L136.82,305.16M133.02,305.16L136.82,300.98"/><path d="M134.72,304.65H138.53M136.62,302.56V306.74M134.72,302.56L138.53,306.74M134.72,306.74L138.53,302.56"/><path d="M136.43,306.55H140.23M138.33,304.46V308.64M136.43,304.46L140.23,308.64M136.43,308.64L140.23,304.46"/><path d="M138.13,308.98H141.93M140.03,306.89V311.07M138.13,306.89L141.93,311.07M138.13,311.07L141.93,306.89"/><path d="M139.84,312.25H143.64M141.74,310.16V314.34M139.84,310.16L143.64,314.34M139.84,314.34L143.64,310.16"/><path d="M141.54,316.20H145.34M143.44,314.11V318.29M141.54,314.11L145.34,318.29M141.54,318.29L145.34,314.11"/><path d="M143.25,320.04H147.05M145.15,317.95V322.13M143.25,317.95L147.05,322.13M143.25,322.13L147.05,317.95"/><path d="M144.95,323.51H148.75M146.85,321.42V325.60M144.95,321.42L148.75,325.60M144.95,325.60L148.75,321.42"/><path d="M146.65,326.90H150.45M148.55,324.81V328.99M146.65,324.81L150.45,328.99M146.65,328.99L150.45,324.81"/><path d="M148.36,330.22H152.16M150.26,328.13V332.31M148.36,328.13L152.16,332.31M148.36,332.31L152.16,328.13"/><path d="M150.06,333.50H153.86M151.96,331.41V335.59M150.06,331.41L153.86,335.59M150.06,335.59L153.86,331.41"/><path d="M151.77,336.75H155.57M153.67,334.66V338.84M151.77,334.66L155.57,338.84M151.77,338.84L155.57,334.66"/><path d="M153.47,340.00H157.27M155.37,337.91V342.09M153.47,337.91L157.27,342.09M153.47,342.09L157.27,337.91"/><path d="M155.17,343.24H158.97M157.07,341.15V345.33M155.17,341.15L158.97,345.33M155.17,345.33L158.97,341.15"/><path d="M156.88,346.44H160.68M158.78,344.35V348.53M156.88,344.35L160.68,348.53M156.88,348.53L160.68,344.35"/><path d="M158.58,349.61H162.38M160.48,347.52V351.70M158.58,347.52L162.38,351.70M158.58,351.70L162.38,347.52"/><path d="M160.29,352.74H164.09M162.19,350.65V354.83M160.29,350.65L164.09,354.83M160.29,354.83L164.09,350.65"/><path d="M161.99,355.84H165.79M163.89,353.75V357.93M161.99,353.75L165.79,357.93M161.99,357.93L165.79,353.75"/><path d="M163.70,358.90H167.50M165.60,356.81V360.99M163.70,356.81L167.50,360.99M163.70,360.99L167.50,356.81"/><path d="M165.40,361.92H169.20M167.30,359.83V364.01M165.40,359.83L169.20,364.01M165.40,364.01L169.20,359.83"/><path d="M167.10,364.87H170.90M169.00,362.78V366.96M167.10,362.78L170.90,366.96M167.10,366.96L170.90,362.78"/><path d="M168.81,367.68H172.61M170.71,365.59V369.77M168.81,365.59L172.61,369.77M168.81,369.77L172.61,365.59"/><path d="M170.51,370.47H174.31M172.41,368.38V372.56M170.51,368.38L174.31,372.56M170.51,372.56L174.31,368.38"/><path d="M172.22,373.43H176.02M174.12,371.34V375.52M172.22,371.34L176.02,375.52M172.22,375.52L176.02,371.34"/><path d="M173.92,376.83H177.72M175.82,374.74V378.92M173.92,374.74L177.72,378.92M173.92,378.92L177.72,374.74"/><path d="M175.62,380.48H179.42M177.52,378.39V382.57M175.62,378.39L179.42,382.57M175.62,382.57L179.42,378.39"/><path d="M177.33,383.94H181.13M179.23,381.85V386.03M177.33,381.85L181.13,386.03M177.33,386.03L181.13,381.85"/><path d="M179.03,386.84H182.83M180.93,384.75V388.93M179.03,384.75L182.83,388.93M179.03,388.93L182.83,384.75"/><path d="M180.74,389.50H184.54M182.64,387.41V391.59M180.74,387.41L184.54,391.59M180.74,391.59L184.54,387.41"/><path d="M182.44,391.95H186.24M184.34,389.86V394.04M182.44,389.86L186.24,394.04M182.44,394.04L186.24,389.86"/><path d="M184.15,394.14H187.95M186.05,392.05V396.23M184.15,392.05L187.95,396.23M184.15,396.23L187.95,392.05"/><path d="M185.85,396.03H189.65M187.75,393.94V398.12M185.85,393.94L189.65,398.12M185.85,398.12L189.65,393.94"/><path d="M187.55,397.68H191.35M189.45,395.59V399.77M187.55,395.59L191.35,399.77M187.55,399.77L191.35,395.59"/><path d="M189.26,399.17H193.06M191.16,397.08V401.26M189.26,397.08L193.06,401.26M189.26,401.26L193.06,397.08"/><path d="M190.96,400.52H194.76M192.86,398.43V402.61M190.96,398.43L194.76,402.61M190.96,402.61L194.76,398.43"/><path d="M192.67,401.71H196.47M194.57,399.62V403.80M192.67,399.62L196.47,403.80M192.67,403.80L196.47,399.62"/><path d="M194.37,402.77H198.17M196.27,400.68V404.86M194.37,400.68L198.17,404.86M194.37,404.86L198.17,400.68"/><path d="M196.07,403.72H199.88M197.97,401.63V405.81M196.07,401.63L199.88,405.81M196.07,405.81L199.88,401.63"/><path d="M197.78,404.60H201.58M199.68,402.51V406.69M197.78,402.51L201.58,406.69M197.78,406.69L201.58,402.51"/><path d="M199.48,405.39H203.28M201.38,403.30V407.48M199.48,403.30L203.28,407.48M199.48,407.48L203.28,403.30"/><path d="M201.19,406.07H204.99M203.09,403.98V408.16M201.19,403.98L204.99,408.16M201.19,408.16L204.99,403.98"/><path d="M202.89,406.61H206.69M204.79,404.52V408.70M202.89,404.52L206.69,408.70M202.89,408.70L206.69,404.52"/><path d="M204.60,407.06H208.40M206.50,404.97V409.15M204.60,404.97L208.40,409.15M204.60,409.15L208.40,404.97"/><path d="M206.30,407.45H210.10M208.20,405.36V409.54M206.30,405.36L210.10,409.54M206.30,409.54L210.10,405.36"/><path d="M208.00,407.78H211.80M209.90,405.69V409.87M208.00,405.69L211.80,409.87M208.00,409.87L211.80,405.69"/><path d="M209.71,408.07H213.51M211.61,405.98V410.16M209.71,405.98L213.51,410.16M209.71,410.16L213.51,405.98"/><path d="M211.41,408.30H215.21M213.31,406.21V410.39M211.41,406.21L215.21,410.39M211.41,410.39L215.21,406.21"/><path d="M213.12,408.49H216.92M215.02,406.40V410.58M213.12,406.40L216.92,410.58M213.12,410.58L216.92,406.40"/><path d="M214.82,408.66H218.62M216.72,406.57V410.75M214.82,406.57L218.62,410.75M214.82,410.75L218.62,406.57"/><path d="M216.52,408.81H220.32M218.42,406.72V410.90M216.52,406.72L220.32,410.90M216.52,410.90L220.32,406.72"/><path d="M218.23,408.93H222.03M220.13,406.84V411.02M218.23,406.84L222.03,411.02M218.23,411.02L222.03,406.84"/><path d="M219.93,409.02H223.73M221.83,406.93V411.11M219.93,406.93L223.73,411.11M219.93,411.11L223.73,406.93"/><path d="M221.64,409.09H225.44M223.54,407.00V411.18M221.64,407.00L225.44,411.18M221.64,411.18L225.44,407.00"/><path d="M223.34,409.17H227.14M225.24,407.08V411.26M223.34,407.08L227.14,411.26M223.34,411.26L227.14,407.08"/><path d="M225.05,409.24H228.85M226.95,407.15V411.33M225.05,407.15L228.85,411.33M225.05,411.33L228.85,407.15"/><path d="M226.75,409.30H230.55M228.65,407.21V411.39M226.75,407.21L230.55,411.39M226.75,411.39L230.55,407.21"/><path d="M228.45,409.35H232.25M230.35,407.26V411.44M228.45,407.26L232.25,411.44M228.45,411.44L232.25,407.26"/><path d="M230.16,409.40H233.96M232.06,407.31V411.49M230.16,407.31L233.96,411.49M230.16,411.49L233.96,407.31"/><path d="M231.86,409.44H235.66M233.76,407.35V411.53M231.86,407.35L235.66,411.53M231.86,411.53L235.66,407.35"/><path d="M233.57,409.47H237.37M235.47,407.38V411.56M233.57,407.38L237.37,411.56M233.57,411.56L237.37,407.38"/><path d="M235.27,409.49H239.07M237.17,407.40V411.58M235.27,407.40L239.07,411.58M235.27,411.58L239.07,407.40"/><path d="M236.97,409.50H240.78M238.88,407.41V411.59M236.97,407.41L240.78,411.59M236.97,411.59L240.78,407.41"/><path d="M238.68,409.50H242.48M240.58,407.41V411.59M238.68,407.41L242.48,411.59M238.68,411.59L242.48,407.41"/><path d="M240.38,409.50H244.18M242.28,407.41V411.59M240.38,407.41L244.18,411.59M240.38,411.59L244.18,407.41"/><path d="M242.09,409.50H245.89M243.99,407.41V411.59M242.09,407.41L245.89,411.59M242.09,411.59L245.89,407.41"/><path d="M243.79,409.50H247.59M245.69,407.41V411.59M243.79,407.41L247.59,411.59M243.79,411.59L247.59,407.41"/><path d="M245.50,409.50H249.30M247.40,407.41V411.59M245.50,407.41L249.30,411.59M245.50,411.59L249.30,407.41"/><path d="M247.20,409.50H251.00M249.10,407.41V411.59M247.20,407.41L251.00,411.59M247.20,411.59L251.00,407.41"/><path d="M248.90,409.50H252.70M250.80,407.41V411.59M248.90,407.41L252.70,411.59M248.90,411.59L252.70,407.41"/><path d="M250.61,409.50H254.41M252.51,407.41V411.59M250.61,407.41L254.41,411.59M250.61,411.59L254.41,407.41"/><path d="M252.31,409.50H256.11M254.21,407.41V411.59M252.31,407.41L256.11,411.59M252.31,411.59L256.11,407.41"/><path d="M254.02,409.50H257.82M255.92,407.41V411.59M254.02,407.41L257.82,411.59M254.02,411.59L257.82,407.41"/><path d="M255.72,409.50H259.52M257.62,407.41V411.59M255.72,407.41L259.52,411.59M255.72,411.59L259.52,407.41"/><path d="M257.43,409.50H261.22M259.32,407.41V411.59M257.43,407.41L261.22,411.59M257.43,411.59L261.22,407.41"/><path d="M259.13,409.50H262.93M261.03,407.41V411.59M259.13,407.41L262.93,411.59M259.13,411.59L262.93,407.41"/><path d="M260.83,409.50H264.63M262.73,407.41V411.59M260.83,407.41L264.63,411.59M260.83,411.59L264.63,407.41"/><path d="M262.54,409.50H266.34M264.44,407.41V411.59M262.54,407.41L266.34,411.59M262.54,411.59L266.34,407.41"/><path d="M264.24,409.50H268.04M266.14,407.41V411.59M264.24,407.41L268.04,411.59M264.24,411.59L268.04,407.41"/><path d="M265.95,409.50H269.75M267.85,407.41V411.59M265.95,407.41L269.75,411.59M265.95,411.59L269.75,407.41"/><path d="M267.65,409.50H271.45M269.55,407.41V411.59M267.65,407.41L271.45,411.59M267.65,411.59L271.45,407.41"/><path d="M269.35,409.50H273.15M271.25,407.41V411.59M269.35,407.41L273.15,411.59M269.35,411.59L273.15,407.41"/><path d="M271.06,409.50H274.86M272.96,407.41V411.59M271.06,407.41L274.86,411.59M271.06,411.59L274.86,407.41"/><path d="M272.76,409.50H276.56M274.66,407.41V411.59M272.76,407.41L276.56,411.59M272.76,411.59L276.56,407.41"/><path d="M274.47,409.50H278.27M276.37,407.41V411.59M274.47,407.41L278.27,411.59M274.47,411.59L278.27,407.41"/><path d="M276.17,409.50H279.97M278.07,407.41V411.59M276.17,407.41L279.97,411.59M276.17,411.59L279.97,407.41"/><path d="M277.88,409.50H281.67M279.77,407.41V411.59M277.88,407.41L281.67,411.59M277.88,411.59L281.67,407.41"/><path d="M279.58,409.50H283.38M281.48,407.41V411.59M279.58,407.41L283.38,411.59M279.58,411.59L283.38,407.41"/><path d="M281.28,409.50H285.08M283.18,407.41V411.59M281.28,407.41L285.08,411.59M281.28,411.59L285.08,407.41"/><path d="M282.99,409.50H286.79M284.89,407.41V411.59M282.99,407.41L286.79,411.59M282.99,411.59L286.79,407.41"/><path d="M284.69,409.50H288.49M286.59,407.41V411.59M284.69,407.41L288.49,411.59M284.69,411.59L288.49,407.41"/><path d="M286.40,409.50H290.20M288.30,407.41V411.59M286.40,407.41L290.20,411.59M286.40,411.59L290.20,407.41"/><path d="M288.10,409.50H291.90M290.00,407.41V411.59M288.10,407.41L291.90,411.59M288.10,411.59L291.90,407.41"/></g></g>
<g stroke="#000" stroke-opacity="0.72" fill="none" stroke-width="0.95"><rect x="85.5" y="250.2" width="204.5" height="159.3"/></g>
<text x="428.60" y="425.30" text-anchor="middle" font-size="11.6">0</text>
<text x="479.75" y="425.30" text-anchor="middle" font-size="11.6">30</text>
<text x="530.90" y="425.30" text-anchor="middle" font-size="11.6">60</text>
<text x="582.05" y="425.30" text-anchor="middle" font-size="11.6">90</text>
<text x="633.20" y="425.30" text-anchor="middle" font-size="11.6">120</text>
<text x="420.10" y="413.60" text-anchor="end" font-size="11.6">0</text>
<text x="420.10" y="360.57" text-anchor="end" font-size="11.6">0.02</text>
<text x="420.10" y="307.53" text-anchor="end" font-size="11.6">0.04</text>
<text x="420.10" y="254.50" text-anchor="end" font-size="11.6">0.06</text>
<path d="M427.10,409.5v-2.6M427.10,250.4v2.6M478.25,409.5v-2.6M478.25,250.4v2.6M529.40,409.5v-2.6M529.40,250.4v2.6M580.55,409.5v-2.6M580.55,250.4v2.6M631.70,409.5v-2.6M631.70,250.4v2.6M427.1,409.50h2.6M631.7,409.50h-2.6M427.1,356.47h2.6M631.7,356.47h-2.6M427.1,303.43h2.6M631.7,303.43h-2.6M427.1,250.40h2.6M631.7,250.40h-2.6" stroke="#000" stroke-opacity="0.72" stroke-width="0.95" fill="none"/>
<text x="529.40" y="442.70" text-anchor="middle" font-size="11.6">z</text>
<text transform="translate(375,329.95) rotate(-90)" text-anchor="middle" font-size="11.6">P<tspan font-size="9.5" dy="3.8">c,end</tspan><tspan dy="-3.8">(z)</tspan></text>
<text x="337.2" y="236.6" style="font-family:&quot;Liberation Serif&quot;,serif" font-size="16.2">(d)</text>
<text x="544.70" y="264.60" font-size="11.6" word-spacing="0.5">N =</text>
<text x="580.50" y="264.60" text-anchor="end" font-size="11.6">6</text>
<g stroke="#0000ff"><path d="M586.70,260.50H617.50" stroke-width="1.1" fill="none"/><g stroke-width="1.3" fill="#0000ff" fill-opacity="0.5" stroke-linejoin="round"><path d="M602.10,258.50L604.10,261.94L600.10,261.94Z"/></g></g>
<text x="544.70" y="278.63" font-size="11.6" word-spacing="0.5">N =</text>
<text x="580.50" y="278.63" text-anchor="end" font-size="11.6">12</text>
<g stroke="#ffa500"><path d="M586.70,274.53H617.50" stroke-width="0.9" stroke-dasharray="1.7,1.0" fill="none"/><g stroke-width="1.05" fill="none"><path d="M600.00,274.53H604.20M602.10,272.11V276.94"/></g></g>
<text x="544.70" y="292.66" font-size="11.6" word-spacing="0.5">N =</text>
<text x="580.50" y="292.66" text-anchor="end" font-size="11.6">24</text>
<g stroke="#00ff00"><path d="M586.70,288.56H617.50" stroke-width="0.9" stroke-dasharray="1,1.4" fill="none"/><g stroke-width="1.5" fill="none"><rect x="600.28" y="286.34" width="3.64" height="4.44"/></g></g>
<text x="544.70" y="306.69" font-size="11.6" word-spacing="0.5">N =</text>
<text x="580.50" y="306.69" text-anchor="end" font-size="11.6">48</text>
<g stroke="#ff0000"><path d="M586.70,302.59H617.50" stroke-width="0.55" fill="none"/><g stroke-width="1.15" fill="none" stroke-linecap="round"><path d="M600.20,302.59H604.00M602.10,300.50V304.68M600.20,300.50L604.00,304.68M600.20,304.68L604.00,300.50"/></g></g>
<text x="546.30" y="332.90" font-size="11.6">N<tspan font-size="9.28" dy="3.3" dx="0.3">b</tspan><tspan dy="-3.3"> = 131</tspan></text>
<text x="546.10" y="347.10" font-size="11.6">ε = 1.0</text>
<g stroke="#0000ff"><polyline points="427.10,294.26 428.81,365.30 430.51,356.20 432.22,357.79 433.92,359.78 435.62,360.97 437.33,359.12 439.04,355.67 440.74,353.28 442.45,352.01 444.15,351.16 445.86,350.51 447.56,350.18 449.27,350.79 450.97,351.96 452.68,353.38 454.38,355.14 456.09,357.25 457.79,359.74 459.50,362.29 461.20,364.58 462.91,366.28 464.61,367.47 466.32,368.47 468.02,369.32 469.73,370.04 471.43,370.66 473.14,371.19 474.84,371.67 476.55,372.14 478.25,372.64 479.96,373.16 481.66,373.67 483.37,374.19 485.07,374.75 486.78,375.40 488.48,376.20 490.19,377.17 491.89,378.19 493.60,379.19 495.30,380.07 497.01,380.81 498.71,381.49 500.42,382.14 502.12,382.78 503.83,383.43 505.53,384.12 507.24,384.82 508.94,385.51 510.65,386.18 512.35,386.80 514.06,387.37 515.76,387.90 517.47,388.41 519.17,388.93 520.88,389.48 522.58,390.07 524.29,390.69 525.99,391.32 527.70,391.94 529.40,392.53 531.11,393.10 532.81,393.67 534.52,394.24 536.22,394.80 537.93,395.35 539.63,395.89 541.34,396.41 543.04,396.91 544.75,397.38 546.45,397.83 548.16,398.26 549.86,398.68 551.57,399.08 553.27,399.47 554.98,399.85 556.68,400.21 558.38,400.56 560.09,400.90 561.80,401.23 563.50,401.55 565.21,401.85 566.91,402.15 568.62,402.44 570.32,402.72 572.03,402.99 573.73,403.25 575.44,403.50 577.14,403.74 578.85,403.98 580.55,404.20 582.26,404.41 583.96,404.62 585.67,404.82 587.37,405.02 589.08,405.21 590.78,405.40 592.49,405.59 594.19,405.77 595.89,405.94 597.60,406.11 599.31,406.27 601.01,406.42 602.72,406.57 604.42,406.71 606.12,406.85 607.83,406.98 609.54,407.11 611.24,407.23 612.95,407.36 614.65,407.48 616.36,407.59 618.06,407.71 619.77,407.81 621.47,407.92 623.18,408.02 624.88,408.11 626.59,408.20 628.29,408.29 630.00,408.37 631.70,408.44" stroke-width="1.1" fill="none"/><g stroke-width="1.3" fill="#0000ff" fill-opacity="0.5" stroke-linejoin="round"><path d="M427.10,292.26L429.10,295.70L425.10,295.70Z"/><path d="M428.81,363.30L430.81,366.74L426.81,366.74Z"/><path d="M430.51,354.20L432.51,357.64L428.51,357.64Z"/><path d="M432.22,355.79L434.22,359.23L430.22,359.23Z"/><path d="M433.92,357.78L435.92,361.22L431.92,361.22Z"/><path d="M435.62,358.97L437.62,362.41L433.62,362.41Z"/><path d="M437.33,357.12L439.33,360.56L435.33,360.56Z"/><path d="M439.04,353.67L441.04,357.11L437.04,357.11Z"/><path d="M440.74,351.28L442.74,354.72L438.74,354.72Z"/><path d="M442.45,350.01L444.45,353.45L440.45,353.45Z"/><path d="M444.15,349.16L446.15,352.60L442.15,352.60Z"/><path d="M445.86,348.51L447.86,351.95L443.86,351.95Z"/><path d="M447.56,348.18L449.56,351.62L445.56,351.62Z"/><path d="M449.27,348.79L451.27,352.23L447.27,352.23Z"/><path d="M450.97,349.96L452.97,353.40L448.97,353.40Z"/><path d="M452.68,351.38L454.68,354.82L450.68,354.82Z"/><path d="M454.38,353.14L456.38,356.58L452.38,356.58Z"/><path d="M456.09,355.25L458.09,358.69L454.09,358.69Z"/><path d="M457.79,357.74L459.79,361.18L455.79,361.18Z"/><path d="M459.50,360.29L461.50,363.73L457.50,363.73Z"/><path d="M461.20,362.58L463.20,366.02L459.20,366.02Z"/><path d="M462.91,364.28L464.91,367.72L460.91,367.72Z"/><path d="M464.61,365.47L466.61,368.91L462.61,368.91Z"/><path d="M466.32,366.47L468.32,369.91L464.32,369.91Z"/><path d="M468.02,367.32L470.02,370.76L466.02,370.76Z"/><path d="M469.73,368.04L471.73,371.48L467.73,371.48Z"/><path d="M471.43,368.66L473.43,372.10L469.43,372.10Z"/><path d="M473.14,369.19L475.14,372.63L471.14,372.63Z"/><path d="M474.84,369.67L476.84,373.11L472.84,373.11Z"/><path d="M476.55,370.14L478.55,373.58L474.55,373.58Z"/><path d="M478.25,370.64L480.25,374.08L476.25,374.08Z"/><path d="M479.96,371.16L481.96,374.60L477.96,374.60Z"/><path d="M481.66,371.67L483.66,375.11L479.66,375.11Z"/><path d="M483.37,372.19L485.37,375.63L481.37,375.63Z"/><path d="M485.07,372.75L487.07,376.19L483.07,376.19Z"/><path d="M486.78,373.40L488.78,376.84L484.78,376.84Z"/><path d="M488.48,374.20L490.48,377.64L486.48,377.64Z"/><path d="M490.19,375.17L492.19,378.61L488.19,378.61Z"/><path d="M491.89,376.19L493.89,379.63L489.89,379.63Z"/><path d="M493.60,377.19L495.60,380.63L491.60,380.63Z"/><path d="M495.30,378.07L497.30,381.51L493.30,381.51Z"/><path d="M497.01,378.81L499.01,382.25L495.01,382.25Z"/><path d="M498.71,379.49L500.71,382.93L496.71,382.93Z"/><path d="M500.42,380.14L502.42,383.58L498.42,383.58Z"/><path d="M502.12,380.78L504.12,384.22L500.12,384.22Z"/><path d="M503.83,381.43L505.83,384.87L501.83,384.87Z"/><path d="M505.53,382.12L507.53,385.56L503.53,385.56Z"/><path d="M507.24,382.82L509.24,386.26L505.24,386.26Z"/><path d="M508.94,383.51L510.94,386.95L506.94,386.95Z"/><path d="M510.65,384.18L512.64,387.62L508.65,387.62Z"/><path d="M512.35,384.80L514.35,388.24L510.35,388.24Z"/><path d="M514.06,385.37L516.06,388.81L512.06,388.81Z"/><path d="M515.76,385.90L517.76,389.34L513.76,389.34Z"/><path d="M517.47,386.41L519.47,389.85L515.47,389.85Z"/><path d="M519.17,386.93L521.17,390.37L517.17,390.37Z"/><path d="M520.88,387.48L522.88,390.92L518.88,390.92Z"/><path d="M522.58,388.07L524.58,391.51L520.58,391.51Z"/><path d="M524.29,388.69L526.29,392.13L522.29,392.13Z"/><path d="M525.99,389.32L527.99,392.76L523.99,392.76Z"/><path d="M527.70,389.94L529.70,393.38L525.70,393.38Z"/><path d="M529.40,390.53L531.40,393.97L527.40,393.97Z"/><path d="M531.11,391.10L533.11,394.54L529.11,394.54Z"/><path d="M532.81,391.67L534.81,395.11L530.81,395.11Z"/><path d="M534.52,392.24L536.52,395.68L532.52,395.68Z"/><path d="M536.22,392.80L538.22,396.24L534.22,396.24Z"/><path d="M537.93,393.35L539.93,396.79L535.93,396.79Z"/><path d="M539.63,393.89L541.63,397.33L537.63,397.33Z"/><path d="M541.34,394.41L543.34,397.85L539.34,397.85Z"/><path d="M543.04,394.91L545.04,398.35L541.04,398.35Z"/><path d="M544.75,395.38L546.75,398.82L542.75,398.82Z"/><path d="M546.45,395.83L548.45,399.27L544.45,399.27Z"/><path d="M548.16,396.26L550.16,399.70L546.16,399.70Z"/><path d="M549.86,396.68L551.86,400.12L547.86,400.12Z"/><path d="M551.57,397.08L553.57,400.52L549.57,400.52Z"/><path d="M553.27,397.47L555.27,400.91L551.27,400.91Z"/><path d="M554.98,397.85L556.98,401.29L552.98,401.29Z"/><path d="M556.68,398.21L558.68,401.65L554.68,401.65Z"/><path d="M558.38,398.56L560.38,402.00L556.38,402.00Z"/><path d="M560.09,398.90L562.09,402.34L558.09,402.34Z"/><path d="M561.80,399.23L563.80,402.67L559.80,402.67Z"/><path d="M563.50,399.55L565.50,402.99L561.50,402.99Z"/><path d="M565.21,399.85L567.21,403.29L563.21,403.29Z"/><path d="M566.91,400.15L568.91,403.59L564.91,403.59Z"/><path d="M568.62,400.44L570.62,403.88L566.62,403.88Z"/><path d="M570.32,400.72L572.32,404.16L568.32,404.16Z"/><path d="M572.03,400.99L574.03,404.43L570.03,404.43Z"/><path d="M573.73,401.25L575.73,404.69L571.73,404.69Z"/><path d="M575.44,401.50L577.44,404.94L573.44,404.94Z"/><path d="M577.14,401.74L579.14,405.18L575.14,405.18Z"/><path d="M578.85,401.98L580.85,405.42L576.85,405.42Z"/><path d="M580.55,402.20L582.55,405.64L578.55,405.64Z"/><path d="M582.26,402.41L584.26,405.85L580.26,405.85Z"/><path d="M583.96,402.62L585.96,406.06L581.96,406.06Z"/><path d="M585.67,402.82L587.67,406.26L583.67,406.26Z"/><path d="M587.37,403.02L589.37,406.46L585.37,406.46Z"/><path d="M589.08,403.21L591.08,406.65L587.08,406.65Z"/><path d="M590.78,403.40L592.78,406.84L588.78,406.84Z"/><path d="M592.49,403.59L594.49,407.03L590.49,407.03Z"/><path d="M594.19,403.77L596.19,407.21L592.19,407.21Z"/><path d="M595.89,403.94L597.89,407.38L593.89,407.38Z"/><path d="M597.60,404.11L599.60,407.55L595.60,407.55Z"/><path d="M599.31,404.27L601.31,407.71L597.31,407.71Z"/><path d="M601.01,404.42L603.01,407.86L599.01,407.86Z"/><path d="M602.72,404.57L604.72,408.01L600.72,408.01Z"/><path d="M604.42,404.71L606.42,408.15L602.42,408.15Z"/><path d="M606.12,404.85L608.12,408.29L604.12,408.29Z"/><path d="M607.83,404.98L609.83,408.42L605.83,408.42Z"/><path d="M609.54,405.11L611.54,408.55L607.54,408.55Z"/><path d="M611.24,405.23L613.24,408.67L609.24,408.67Z"/><path d="M612.95,405.36L614.95,408.80L610.95,408.80Z"/><path d="M614.65,405.48L616.65,408.92L612.65,408.92Z"/><path d="M616.36,405.59L618.36,409.03L614.36,409.03Z"/><path d="M618.06,405.71L620.06,409.15L616.06,409.15Z"/><path d="M619.77,405.81L621.77,409.25L617.77,409.25Z"/><path d="M621.47,405.92L623.47,409.36L619.47,409.36Z"/><path d="M623.18,406.02L625.18,409.46L621.18,409.46Z"/><path d="M624.88,406.11L626.88,409.55L622.88,409.55Z"/><path d="M626.59,406.20L628.59,409.64L624.59,409.64Z"/><path d="M628.29,406.29L630.29,409.73L626.29,409.73Z"/><path d="M630.00,406.37L632.00,409.81L628.00,409.81Z"/><path d="M631.70,406.44L633.70,409.88L629.70,409.88Z"/></g></g>
<g stroke="#ffa500"><polyline points="427.10,290.84 428.81,363.10 430.51,354.61 432.22,359.12 433.92,362.04 435.62,363.89 437.33,365.07 439.04,365.25 440.74,364.95 442.45,364.28 444.15,363.36 445.86,362.41 447.56,361.50 449.27,360.77 450.97,360.12 452.68,359.65 454.38,359.29 456.09,359.12 457.79,359.19 459.50,359.38 461.20,359.99 462.91,360.97 464.61,362.23 466.32,363.63 468.02,364.76 469.73,366.01 471.43,367.87 473.14,369.87 474.84,371.98 476.55,374.03 478.25,375.85 479.96,377.28 481.66,378.49 483.37,379.56 485.07,380.52 486.78,381.39 488.48,382.20 490.19,382.96 491.89,383.65 493.60,384.28 495.30,384.84 497.01,385.34 498.71,385.79 500.42,386.21 502.12,386.60 503.83,386.98 505.53,387.34 507.24,387.70 508.94,388.06 510.65,388.43 512.35,388.82 514.06,389.22 515.76,389.61 517.47,390.01 519.17,390.42 520.88,390.83 522.58,391.27 524.29,391.72 525.99,392.18 527.70,392.63 529.40,393.06 531.11,393.47 532.81,393.88 534.52,394.28 536.22,394.68 537.93,395.06 539.63,395.44 541.34,395.80 543.04,396.14 544.75,396.47 546.45,396.77 548.16,397.05 549.86,397.32 551.57,397.56 553.27,397.80 554.98,398.03 556.68,398.25 558.38,398.48 560.09,398.70 561.80,398.92 563.50,399.16 565.21,399.40 566.91,399.64 568.62,399.88 570.32,400.13 572.03,400.37 573.73,400.61 575.44,400.85 577.14,401.08 578.85,401.32 580.55,401.55 582.26,401.77 583.96,402.00 585.67,402.22 587.37,402.45 589.08,402.67 590.78,402.89 592.49,403.11 594.19,403.33 595.89,403.54 597.60,403.75 599.31,403.95 601.01,404.16 602.72,404.35 604.42,404.54 606.12,404.73 607.83,404.91 609.54,405.09 611.24,405.26 612.95,405.43 614.65,405.60 616.36,405.77 618.06,405.93 619.77,406.09 621.47,406.25 623.18,406.40 624.88,406.55 626.59,406.70 628.29,406.84 630.00,406.98 631.70,407.11" stroke-width="0.9" stroke-dasharray="1.7,1.0" fill="none"/><g stroke-width="1.05" fill="none"><path d="M425.00,290.84H429.20M427.10,288.42V293.25"/><path d="M426.70,363.10H430.91M428.81,360.68V365.51"/><path d="M428.41,354.61H432.61M430.51,352.20V357.03"/><path d="M430.12,359.12H434.32M432.22,356.70V361.53"/><path d="M431.82,362.04H436.02M433.92,359.62V364.45"/><path d="M433.52,363.89H437.73M435.62,361.48V366.31"/><path d="M435.23,365.07H439.43M437.33,362.66V367.49"/><path d="M436.94,365.25H441.14M439.04,362.83V367.66"/><path d="M438.64,364.95H442.84M440.74,362.54V367.37"/><path d="M440.35,364.28H444.55M442.45,361.87V366.70"/><path d="M442.05,363.36H446.25M444.15,360.95V365.78"/><path d="M443.75,362.41H447.96M445.86,359.99V364.82"/><path d="M445.46,361.50H449.66M447.56,359.09V363.92"/><path d="M447.17,360.77H451.37M449.27,358.35V363.18"/><path d="M448.87,360.12H453.07M450.97,357.71V362.54"/><path d="M450.57,359.65H454.78M452.68,357.23V362.06"/><path d="M452.28,359.29H456.48M454.38,356.88V361.71"/><path d="M453.99,359.12H458.19M456.09,356.70V361.53"/><path d="M455.69,359.19H459.89M457.79,356.78V361.61"/><path d="M457.39,359.38H461.60M459.50,356.97V361.80"/><path d="M459.10,359.99H463.30M461.20,357.57V362.40"/><path d="M460.81,360.97H465.01M462.91,358.56V363.39"/><path d="M462.51,362.23H466.71M464.61,359.82V364.65"/><path d="M464.22,363.63H468.42M466.32,361.21V366.04"/><path d="M465.92,364.76H470.12M468.02,362.35V367.18"/><path d="M467.62,366.01H471.83M469.73,363.60V368.43"/><path d="M469.33,367.87H473.53M471.43,365.45V370.28"/><path d="M471.04,369.87H475.24M473.14,367.45V372.28"/><path d="M472.74,371.98H476.94M474.84,369.57V374.40"/><path d="M474.44,374.03H478.65M476.55,371.62V376.45"/><path d="M476.15,375.85H480.35M478.25,373.43V378.26"/><path d="M477.86,377.28H482.06M479.96,374.87V379.70"/><path d="M479.56,378.49H483.76M481.66,376.08V380.91"/><path d="M481.26,379.56H485.47M483.37,377.15V381.98"/><path d="M482.97,380.52H487.17M485.07,378.11V382.94"/><path d="M484.68,381.39H488.88M486.78,378.98V383.81"/><path d="M486.38,382.20H490.58M488.48,379.79V384.62"/><path d="M488.09,382.96H492.29M490.19,380.54V385.37"/><path d="M489.79,383.65H493.99M491.89,381.24V386.07"/><path d="M491.50,384.28H495.70M493.60,381.87V386.70"/><path d="M493.20,384.84H497.40M495.30,382.42V387.25"/><path d="M494.91,385.34H499.11M497.01,382.92V387.75"/><path d="M496.61,385.79H500.81M498.71,383.38V388.21"/><path d="M498.31,386.21H502.52M500.42,383.80V388.63"/><path d="M500.02,386.60H504.22M502.12,384.19V389.02"/><path d="M501.73,386.98H505.93M503.83,384.56V389.39"/><path d="M503.43,387.34H507.63M505.53,384.92V389.75"/><path d="M505.13,387.70H509.34M507.24,385.28V390.11"/><path d="M506.84,388.06H511.04M508.94,385.64V390.47"/><path d="M508.55,388.43H512.75M510.65,386.01V390.84"/><path d="M510.25,388.82H514.45M512.35,386.40V391.23"/><path d="M511.96,389.22H516.16M514.06,386.80V391.63"/><path d="M513.66,389.61H517.86M515.76,387.20V392.03"/><path d="M515.37,390.01H519.57M517.47,387.60V392.43"/><path d="M517.07,390.42H521.27M519.17,388.00V392.83"/><path d="M518.77,390.83H522.98M520.88,388.42V393.25"/><path d="M520.48,391.27H524.68M522.58,388.85V393.68"/><path d="M522.19,391.72H526.39M524.29,389.31V394.14"/><path d="M523.89,392.18H528.09M525.99,389.77V394.60"/><path d="M525.60,392.63H529.80M527.70,390.22V395.05"/><path d="M527.30,393.06H531.50M529.40,390.64V395.47"/><path d="M529.00,393.47H533.21M531.11,391.05V395.88"/><path d="M530.71,393.88H534.91M532.81,391.46V396.29"/><path d="M532.42,394.28H536.62M534.52,391.86V396.69"/><path d="M534.12,394.68H538.32M536.22,392.26V397.09"/><path d="M535.83,395.06H540.03M537.93,392.65V397.48"/><path d="M537.53,395.44H541.73M539.63,393.02V397.85"/><path d="M539.24,395.80H543.44M541.34,393.39V398.22"/><path d="M540.94,396.14H545.14M543.04,393.73V398.56"/><path d="M542.64,396.47H546.85M544.75,394.05V398.88"/><path d="M544.35,396.77H548.55M546.45,394.36V399.19"/><path d="M546.06,397.05H550.26M548.16,394.64V399.47"/><path d="M547.76,397.32H551.96M549.86,394.90V399.73"/><path d="M549.47,397.56H553.67M551.57,395.15V399.98"/><path d="M551.17,397.80H555.37M553.27,395.39V400.22"/><path d="M552.88,398.03H557.08M554.98,395.62V400.45"/><path d="M554.58,398.25H558.78M556.68,395.84V400.67"/><path d="M556.28,398.48H560.49M558.38,396.06V400.89"/><path d="M557.99,398.70H562.19M560.09,396.28V401.11"/><path d="M559.70,398.92H563.90M561.80,396.51V401.34"/><path d="M561.40,399.16H565.60M563.50,396.74V401.57"/><path d="M563.11,399.40H567.31M565.21,396.98V401.81"/><path d="M564.81,399.64H569.01M566.91,397.23V402.06"/><path d="M566.51,399.88H570.72M568.62,397.47V402.30"/><path d="M568.22,400.13H572.42M570.32,397.71V402.54"/><path d="M569.93,400.37H574.13M572.03,397.95V402.78"/><path d="M571.63,400.61H575.83M573.73,398.19V403.02"/><path d="M573.34,400.85H577.54M575.44,398.43V403.26"/><path d="M575.04,401.08H579.24M577.14,398.67V403.50"/><path d="M576.75,401.32H580.95M578.85,398.90V403.73"/><path d="M578.45,401.55H582.65M580.55,399.13V403.96"/><path d="M580.16,401.77H584.36M582.26,399.36V404.19"/><path d="M581.86,402.00H586.06M583.96,399.58V404.41"/><path d="M583.57,402.22H587.77M585.67,399.81V404.64"/><path d="M585.27,402.45H589.47M587.37,400.03V404.86"/><path d="M586.98,402.67H591.18M589.08,400.25V405.08"/><path d="M588.68,402.89H592.88M590.78,400.48V405.31"/><path d="M590.38,403.11H594.59M592.49,400.69V405.52"/><path d="M592.09,403.33H596.29M594.19,400.91V405.74"/><path d="M593.79,403.54H598.00M595.89,401.12V405.95"/><path d="M595.50,403.75H599.70M597.60,401.33V406.16"/><path d="M597.21,403.95H601.41M599.31,401.54V406.37"/><path d="M598.91,404.16H603.11M601.01,401.74V406.57"/><path d="M600.62,404.35H604.82M602.72,401.94V406.77"/><path d="M602.32,404.54H606.52M604.42,402.13V406.96"/><path d="M604.02,404.73H608.23M606.12,402.31V407.14"/><path d="M605.73,404.91H609.93M607.83,402.49V407.32"/><path d="M607.44,405.09H611.64M609.54,402.67V407.50"/><path d="M609.14,405.26H613.34M611.24,402.85V407.68"/><path d="M610.85,405.43H615.05M612.95,403.02V407.85"/><path d="M612.55,405.60H616.75M614.65,403.19V408.02"/><path d="M614.25,405.77H618.46M616.36,403.35V408.18"/><path d="M615.96,405.93H620.16M618.06,403.52V408.35"/><path d="M617.67,406.09H621.87M619.77,403.68V408.51"/><path d="M619.37,406.25H623.57M621.47,403.83V408.66"/><path d="M621.08,406.40H625.28M623.18,403.99V408.82"/><path d="M622.78,406.55H626.98M624.88,404.14V408.97"/><path d="M624.49,406.70H628.69M626.59,404.28V409.11"/><path d="M626.19,406.84H630.39M628.29,404.43V409.26"/><path d="M627.90,406.98H632.10M630.00,404.56V409.39"/><path d="M629.60,407.11H633.80M631.70,404.70V409.53"/></g></g>
<g stroke="#00ff00"><polyline points="427.10,256.23 428.81,349.57 430.51,336.58 432.22,341.62 433.92,345.96 435.62,349.57 437.33,352.34 439.04,354.67 440.74,356.73 442.45,358.62 444.15,360.18 445.86,361.39 447.56,362.30 449.27,363.03 450.97,363.64 452.68,363.89 454.38,363.89 456.09,363.89 457.79,363.89 459.50,363.70 461.20,363.36 462.91,363.02 464.61,362.64 466.32,362.30 468.02,361.96 469.73,361.64 471.43,361.50 473.14,361.50 474.84,361.50 476.55,361.77 478.25,362.30 479.96,362.89 481.66,363.67 483.37,364.69 485.07,366.42 486.78,368.53 488.48,370.41 490.19,372.27 491.89,374.13 493.60,376.01 495.30,377.95 497.01,380.03 498.71,382.25 500.42,384.46 502.12,386.52 503.83,388.29 505.53,389.81 507.24,391.21 508.94,392.49 510.65,393.64 512.35,394.65 514.06,395.55 515.76,396.38 517.47,397.13 519.17,397.79 520.88,398.36 522.58,398.86 524.29,399.31 525.99,399.71 527.70,400.07 529.40,400.40 531.11,400.71 532.81,401.01 534.52,401.29 536.22,401.56 537.93,401.82 539.63,402.06 541.34,402.28 543.04,402.49 544.75,402.69 546.45,402.87 548.16,403.04 549.86,403.21 551.57,403.36 553.27,403.51 554.98,403.65 556.68,403.79 558.38,403.91 560.09,404.02 561.80,404.11 563.50,404.20 565.21,404.27 566.91,404.33 568.62,404.38 570.32,404.43 572.03,404.48 573.73,404.52 575.44,404.56 577.14,404.61 578.85,404.67 580.55,404.73 582.26,404.80 583.96,404.87 585.67,404.95 587.37,405.03 589.08,405.12 590.78,405.21 592.49,405.30 594.19,405.39 595.89,405.49 597.60,405.59 599.31,405.68 601.01,405.78 602.72,405.87 604.42,405.96 606.12,406.05 607.83,406.14 609.54,406.23 611.24,406.32 612.95,406.41 614.65,406.49 616.36,406.58 618.06,406.67 619.77,406.76 621.47,406.85 623.18,406.94 624.88,407.03 626.59,407.11 628.29,407.20 630.00,407.29 631.70,407.38" stroke-width="0.9" stroke-dasharray="1,1.4" fill="none"/><g stroke-width="1.5" fill="none"><rect x="425.28" y="254.01" width="3.64" height="4.44"/><rect x="426.99" y="347.35" width="3.64" height="4.44"/><rect x="428.69" y="334.36" width="3.64" height="4.44"/><rect x="430.40" y="339.40" width="3.64" height="4.44"/><rect x="432.10" y="343.74" width="3.64" height="4.44"/><rect x="433.81" y="347.35" width="3.64" height="4.44"/><rect x="435.51" y="350.12" width="3.64" height="4.44"/><rect x="437.22" y="352.45" width="3.64" height="4.44"/><rect x="438.92" y="354.51" width="3.64" height="4.44"/><rect x="440.63" y="356.40" width="3.64" height="4.44"/><rect x="442.33" y="357.96" width="3.64" height="4.44"/><rect x="444.04" y="359.17" width="3.64" height="4.44"/><rect x="445.74" y="360.08" width="3.64" height="4.44"/><rect x="447.45" y="360.81" width="3.64" height="4.44"/><rect x="449.15" y="361.42" width="3.64" height="4.44"/><rect x="450.86" y="361.67" width="3.64" height="4.44"/><rect x="452.56" y="361.67" width="3.64" height="4.44"/><rect x="454.27" y="361.67" width="3.64" height="4.44"/><rect x="455.97" y="361.67" width="3.64" height="4.44"/><rect x="457.68" y="361.48" width="3.64" height="4.44"/><rect x="459.38" y="361.14" width="3.64" height="4.44"/><rect x="461.09" y="360.80" width="3.64" height="4.44"/><rect x="462.79" y="360.42" width="3.64" height="4.44"/><rect x="464.50" y="360.08" width="3.64" height="4.44"/><rect x="466.20" y="359.74" width="3.64" height="4.44"/><rect x="467.91" y="359.42" width="3.64" height="4.44"/><rect x="469.61" y="359.28" width="3.64" height="4.44"/><rect x="471.32" y="359.28" width="3.64" height="4.44"/><rect x="473.02" y="359.28" width="3.64" height="4.44"/><rect x="474.73" y="359.55" width="3.64" height="4.44"/><rect x="476.43" y="360.08" width="3.64" height="4.44"/><rect x="478.14" y="360.67" width="3.64" height="4.44"/><rect x="479.84" y="361.45" width="3.64" height="4.44"/><rect x="481.55" y="362.47" width="3.64" height="4.44"/><rect x="483.25" y="364.20" width="3.64" height="4.44"/><rect x="484.96" y="366.31" width="3.64" height="4.44"/><rect x="486.66" y="368.19" width="3.64" height="4.44"/><rect x="488.37" y="370.05" width="3.64" height="4.44"/><rect x="490.07" y="371.91" width="3.64" height="4.44"/><rect x="491.78" y="373.79" width="3.64" height="4.44"/><rect x="493.48" y="375.72" width="3.64" height="4.44"/><rect x="495.19" y="377.81" width="3.64" height="4.44"/><rect x="496.89" y="380.03" width="3.64" height="4.44"/><rect x="498.60" y="382.24" width="3.64" height="4.44"/><rect x="500.30" y="384.30" width="3.64" height="4.44"/><rect x="502.01" y="386.07" width="3.64" height="4.44"/><rect x="503.71" y="387.59" width="3.64" height="4.44"/><rect x="505.42" y="388.99" width="3.64" height="4.44"/><rect x="507.12" y="390.27" width="3.64" height="4.44"/><rect x="508.83" y="391.42" width="3.64" height="4.44"/><rect x="510.53" y="392.43" width="3.64" height="4.44"/><rect x="512.24" y="393.33" width="3.64" height="4.44"/><rect x="513.94" y="394.16" width="3.64" height="4.44"/><rect x="515.64" y="394.91" width="3.64" height="4.44"/><rect x="517.35" y="395.57" width="3.64" height="4.44"/><rect x="519.05" y="396.14" width="3.64" height="4.44"/><rect x="520.76" y="396.64" width="3.64" height="4.44"/><rect x="522.47" y="397.09" width="3.64" height="4.44"/><rect x="524.17" y="397.49" width="3.64" height="4.44"/><rect x="525.88" y="397.85" width="3.64" height="4.44"/><rect x="527.58" y="398.18" width="3.64" height="4.44"/><rect x="529.28" y="398.49" width="3.64" height="4.44"/><rect x="530.99" y="398.79" width="3.64" height="4.44"/><rect x="532.70" y="399.07" width="3.64" height="4.44"/><rect x="534.40" y="399.34" width="3.64" height="4.44"/><rect x="536.11" y="399.60" width="3.64" height="4.44"/><rect x="537.81" y="399.84" width="3.64" height="4.44"/><rect x="539.51" y="400.06" width="3.64" height="4.44"/><rect x="541.22" y="400.27" width="3.64" height="4.44"/><rect x="542.92" y="400.47" width="3.64" height="4.44"/><rect x="544.63" y="400.65" width="3.64" height="4.44"/><rect x="546.34" y="400.82" width="3.64" height="4.44"/><rect x="548.04" y="400.98" width="3.64" height="4.44"/><rect x="549.75" y="401.14" width="3.64" height="4.44"/><rect x="551.45" y="401.29" width="3.64" height="4.44"/><rect x="553.15" y="401.43" width="3.64" height="4.44"/><rect x="554.86" y="401.57" width="3.64" height="4.44"/><rect x="556.56" y="401.69" width="3.64" height="4.44"/><rect x="558.27" y="401.80" width="3.64" height="4.44"/><rect x="559.98" y="401.89" width="3.64" height="4.44"/><rect x="561.68" y="401.98" width="3.64" height="4.44"/><rect x="563.38" y="402.05" width="3.64" height="4.44"/><rect x="565.09" y="402.11" width="3.64" height="4.44"/><rect x="566.79" y="402.16" width="3.64" height="4.44"/><rect x="568.50" y="402.21" width="3.64" height="4.44"/><rect x="570.21" y="402.25" width="3.64" height="4.44"/><rect x="571.91" y="402.30" width="3.64" height="4.44"/><rect x="573.62" y="402.34" width="3.64" height="4.44"/><rect x="575.32" y="402.39" width="3.64" height="4.44"/><rect x="577.02" y="402.45" width="3.64" height="4.44"/><rect x="578.73" y="402.51" width="3.64" height="4.44"/><rect x="580.44" y="402.57" width="3.64" height="4.44"/><rect x="582.14" y="402.65" width="3.64" height="4.44"/><rect x="583.85" y="402.73" width="3.64" height="4.44"/><rect x="585.55" y="402.81" width="3.64" height="4.44"/><rect x="587.25" y="402.90" width="3.64" height="4.44"/><rect x="588.96" y="402.99" width="3.64" height="4.44"/><rect x="590.66" y="403.08" width="3.64" height="4.44"/><rect x="592.37" y="403.17" width="3.64" height="4.44"/><rect x="594.07" y="403.27" width="3.64" height="4.44"/><rect x="595.78" y="403.36" width="3.64" height="4.44"/><rect x="597.49" y="403.46" width="3.64" height="4.44"/><rect x="599.19" y="403.56" width="3.64" height="4.44"/><rect x="600.89" y="403.65" width="3.64" height="4.44"/><rect x="602.60" y="403.74" width="3.64" height="4.44"/><rect x="604.30" y="403.83" width="3.64" height="4.44"/><rect x="606.01" y="403.92" width="3.64" height="4.44"/><rect x="607.72" y="404.01" width="3.64" height="4.44"/><rect x="609.42" y="404.10" width="3.64" height="4.44"/><rect x="611.12" y="404.19" width="3.64" height="4.44"/><rect x="612.83" y="404.27" width="3.64" height="4.44"/><rect x="614.53" y="404.36" width="3.64" height="4.44"/><rect x="616.24" y="404.45" width="3.64" height="4.44"/><rect x="617.95" y="404.54" width="3.64" height="4.44"/><rect x="619.65" y="404.63" width="3.64" height="4.44"/><rect x="621.36" y="404.72" width="3.64" height="4.44"/><rect x="623.06" y="404.80" width="3.64" height="4.44"/><rect x="624.76" y="404.89" width="3.64" height="4.44"/><rect x="626.47" y="404.98" width="3.64" height="4.44"/><rect x="628.18" y="405.07" width="3.64" height="4.44"/><rect x="629.88" y="405.16" width="3.64" height="4.44"/></g></g>
<g stroke="#ff0000"><polyline points="427.10,254.91 428.81,349.57 430.51,336.58 432.22,342.68 433.92,347.58 435.62,351.43 437.33,354.11 439.04,356.27 440.74,358.32 442.45,360.49 444.15,362.38 445.86,363.88 447.56,365.23 449.27,366.45 450.97,367.54 452.68,368.53 454.38,369.48 456.09,370.41 457.79,371.24 459.50,371.92 461.20,372.38 462.91,372.70 464.61,372.99 466.32,373.22 468.02,373.38 469.73,373.44 471.43,373.44 473.14,373.44 474.84,373.44 476.55,373.44 478.25,373.44 479.96,373.35 481.66,373.14 483.37,372.88 485.07,372.62 486.78,372.46 488.48,372.36 490.19,372.26 491.89,372.18 493.60,372.13 495.30,372.11 497.01,372.14 498.71,372.23 500.42,372.36 502.12,372.53 503.83,372.72 505.53,373.03 507.24,373.51 508.94,374.13 510.65,374.83 512.35,375.56 514.06,376.41 515.76,377.41 517.47,378.48 519.17,379.63 520.88,380.86 522.58,382.19 524.29,383.62 525.99,385.11 527.70,386.63 529.40,388.13 531.11,389.65 532.81,391.22 534.52,392.78 536.22,394.29 537.93,395.71 539.63,397.05 541.34,398.35 543.04,399.59 544.75,400.75 546.45,401.81 548.16,402.80 549.86,403.75 551.57,404.63 553.27,405.41 554.98,406.05 556.68,406.60 558.38,407.10 560.09,407.53 561.80,407.90 563.50,408.17 565.21,408.39 566.91,408.58 568.62,408.74 570.32,408.87 572.03,408.97 573.73,409.05 575.44,409.13 577.14,409.21 578.85,409.28 580.55,409.34 582.26,409.39 583.96,409.44 585.67,409.47 587.37,409.49 589.08,409.50 590.78,409.50 592.49,409.50 594.19,409.50 595.89,409.50 597.60,409.50 599.31,409.50 601.01,409.50 602.72,409.50 604.42,409.50 606.12,409.50 607.83,409.50 609.54,409.50 611.24,409.50 612.95,409.50 614.65,409.50 616.36,409.50 618.06,409.50 619.77,409.50 621.47,409.50 623.18,409.50 624.88,409.50 626.59,409.50 628.29,409.50 630.00,409.50 631.70,409.50" stroke-width="0.55" fill="none"/><g stroke-width="1.15" fill="none" stroke-linecap="round"><path d="M425.20,254.91H429.00M427.10,252.82V257.00M425.20,252.82L429.00,257.00M425.20,257.00L429.00,252.82"/><path d="M426.91,349.57H430.70M428.81,347.48V351.66M426.91,347.48L430.70,351.66M426.91,351.66L430.70,347.48"/><path d="M428.61,336.58H432.41M430.51,334.49V338.67M428.61,334.49L432.41,338.67M428.61,338.67L432.41,334.49"/><path d="M430.32,342.68H434.12M432.22,340.59V344.77M430.32,340.59L434.12,344.77M430.32,344.77L434.12,340.59"/><path d="M432.02,347.58H435.82M433.92,345.49V349.67M432.02,345.49L435.82,349.67M432.02,349.67L435.82,345.49"/><path d="M433.73,351.43H437.52M435.62,349.34V353.52M433.73,349.34L437.52,353.52M433.73,353.52L437.52,349.34"/><path d="M435.43,354.11H439.23M437.33,352.02V356.20M435.43,352.02L439.23,356.20M435.43,356.20L439.23,352.02"/><path d="M437.14,356.27H440.94M439.04,354.18V358.36M437.14,354.18L440.94,358.36M437.14,358.36L440.94,354.18"/><path d="M438.84,358.32H442.64M440.74,356.23V360.41M438.84,356.23L442.64,360.41M438.84,360.41L442.64,356.23"/><path d="M440.55,360.49H444.35M442.45,358.40V362.58M440.55,358.40L444.35,362.58M440.55,362.58L444.35,358.40"/><path d="M442.25,362.38H446.05M444.15,360.29V364.47M442.25,360.29L446.05,364.47M442.25,364.47L446.05,360.29"/><path d="M443.96,363.88H447.75M445.86,361.79V365.97M443.96,361.79L447.75,365.97M443.96,365.97L447.75,361.79"/><path d="M445.66,365.23H449.46M447.56,363.14V367.32M445.66,363.14L449.46,367.32M445.66,367.32L449.46,363.14"/><path d="M447.37,366.45H451.17M449.27,364.36V368.54M447.37,364.36L451.17,368.54M447.37,368.54L451.17,364.36"/><path d="M449.07,367.54H452.87M450.97,365.45V369.63M449.07,365.45L452.87,369.63M449.07,369.63L452.87,365.45"/><path d="M450.78,368.53H454.57M452.68,366.44V370.62M450.78,366.44L454.57,370.62M450.78,370.62L454.57,366.44"/><path d="M452.48,369.48H456.28M454.38,367.39V371.57M452.48,367.39L456.28,371.57M452.48,371.57L456.28,367.39"/><path d="M454.19,370.41H457.99M456.09,368.32V372.50M454.19,368.32L457.99,372.50M454.19,372.50L457.99,368.32"/><path d="M455.89,371.24H459.69M457.79,369.15V373.33M455.89,369.15L459.69,373.33M455.89,373.33L459.69,369.15"/><path d="M457.60,371.92H461.39M459.50,369.83V374.01M457.60,369.83L461.39,374.01M457.60,374.01L461.39,369.83"/><path d="M459.30,372.38H463.10M461.20,370.29V374.47M459.30,370.29L463.10,374.47M459.30,374.47L463.10,370.29"/><path d="M461.01,372.70H464.81M462.91,370.61V374.79M461.01,370.61L464.81,374.79M461.01,374.79L464.81,370.61"/><path d="M462.71,372.99H466.51M464.61,370.90V375.08M462.71,370.90L466.51,375.08M462.71,375.08L466.51,370.90"/><path d="M464.42,373.22H468.22M466.32,371.13V375.31M464.42,371.13L468.22,375.31M464.42,375.31L468.22,371.13"/><path d="M466.12,373.38H469.92M468.02,371.29V375.47M466.12,371.29L469.92,375.47M466.12,375.47L469.92,371.29"/><path d="M467.83,373.44H471.62M469.73,371.35V375.53M467.83,371.35L471.62,375.53M467.83,375.53L471.62,371.35"/><path d="M469.53,373.44H473.33M471.43,371.35V375.53M469.53,371.35L473.33,375.53M469.53,375.53L473.33,371.35"/><path d="M471.24,373.44H475.04M473.14,371.35V375.53M471.24,371.35L475.04,375.53M471.24,375.53L475.04,371.35"/><path d="M472.94,373.44H476.74M474.84,371.35V375.53M472.94,371.35L476.74,375.53M472.94,375.53L476.74,371.35"/><path d="M474.65,373.44H478.44M476.55,371.35V375.53M474.65,371.35L478.44,375.53M474.65,375.53L478.44,371.35"/><path d="M476.35,373.44H480.15M478.25,371.35V375.53M476.35,371.35L480.15,375.53M476.35,375.53L480.15,371.35"/><path d="M478.06,373.35H481.86M479.96,371.26V375.44M478.06,371.26L481.86,375.44M478.06,375.44L481.86,371.26"/><path d="M479.76,373.14H483.56M481.66,371.05V375.23M479.76,371.05L483.56,375.23M479.76,375.23L483.56,371.05"/><path d="M481.47,372.88H485.26M483.37,370.79V374.97M481.47,370.79L485.26,374.97M481.47,374.97L485.26,370.79"/><path d="M483.17,372.62H486.97M485.07,370.53V374.71M483.17,370.53L486.97,374.71M483.17,374.71L486.97,370.53"/><path d="M484.88,372.46H488.68M486.78,370.37V374.55M484.88,370.37L488.68,374.55M484.88,374.55L488.68,370.37"/><path d="M486.58,372.36H490.38M488.48,370.27V374.45M486.58,370.27L490.38,374.45M486.58,374.45L490.38,370.27"/><path d="M488.29,372.26H492.09M490.19,370.17V374.35M488.29,370.17L492.09,374.35M488.29,374.35L492.09,370.17"/><path d="M489.99,372.18H493.79M491.89,370.09V374.27M489.99,370.09L493.79,374.27M489.99,374.27L493.79,370.09"/><path d="M491.70,372.13H495.50M493.60,370.04V374.22M491.70,370.04L495.50,374.22M491.70,374.22L495.50,370.04"/><path d="M493.40,372.11H497.20M495.30,370.02V374.20M493.40,370.02L497.20,374.20M493.40,374.20L497.20,370.02"/><path d="M495.11,372.14H498.91M497.01,370.05V374.23M495.11,370.05L498.91,374.23M495.11,374.23L498.91,370.05"/><path d="M496.81,372.23H500.61M498.71,370.14V374.32M496.81,370.14L500.61,374.32M496.81,374.32L500.61,370.14"/><path d="M498.52,372.36H502.31M500.42,370.27V374.45M498.52,370.27L502.31,374.45M498.52,374.45L502.31,370.27"/><path d="M500.22,372.53H504.02M502.12,370.44V374.62M500.22,370.44L504.02,374.62M500.22,374.62L504.02,370.44"/><path d="M501.93,372.72H505.73M503.83,370.63V374.81M501.93,370.63L505.73,374.81M501.93,374.81L505.73,370.63"/><path d="M503.63,373.03H507.43M505.53,370.94V375.12M503.63,370.94L507.43,375.12M503.63,375.12L507.43,370.94"/><path d="M505.34,373.51H509.13M507.24,371.42V375.60M505.34,371.42L509.13,375.60M505.34,375.60L509.13,371.42"/><path d="M507.04,374.13H510.84M508.94,372.04V376.22M507.04,372.04L510.84,376.22M507.04,376.22L510.84,372.04"/><path d="M508.75,374.83H512.55M510.65,372.74V376.92M508.75,372.74L512.55,376.92M508.75,376.92L512.55,372.74"/><path d="M510.45,375.56H514.25M512.35,373.47V377.65M510.45,373.47L514.25,377.65M510.45,377.65L514.25,373.47"/><path d="M512.16,376.41H515.96M514.06,374.32V378.50M512.16,374.32L515.96,378.50M512.16,378.50L515.96,374.32"/><path d="M513.86,377.41H517.66M515.76,375.32V379.50M513.86,375.32L517.66,379.50M513.86,379.50L517.66,375.32"/><path d="M515.57,378.48H519.37M517.47,376.39V380.57M515.57,376.39L519.37,380.57M515.57,380.57L519.37,376.39"/><path d="M517.27,379.63H521.07M519.17,377.54V381.72M517.27,377.54L521.07,381.72M517.27,381.72L521.07,377.54"/><path d="M518.98,380.86H522.77M520.88,378.77V382.95M518.98,378.77L522.77,382.95M518.98,382.95L522.77,378.77"/><path d="M520.68,382.19H524.48M522.58,380.10V384.28M520.68,380.10L524.48,384.28M520.68,384.28L524.48,380.10"/><path d="M522.39,383.62H526.19M524.29,381.53V385.71M522.39,381.53L526.19,385.71M522.39,385.71L526.19,381.53"/><path d="M524.09,385.11H527.89M525.99,383.02V387.20M524.09,383.02L527.89,387.20M524.09,387.20L527.89,383.02"/><path d="M525.80,386.63H529.60M527.70,384.54V388.72M525.80,384.54L529.60,388.72M525.80,388.72L529.60,384.54"/><path d="M527.50,388.13H531.30M529.40,386.04V390.22M527.50,386.04L531.30,390.22M527.50,390.22L531.30,386.04"/><path d="M529.21,389.65H533.00M531.11,387.56V391.74M529.21,387.56L533.00,391.74M529.21,391.74L533.00,387.56"/><path d="M530.91,391.22H534.71M532.81,389.13V393.31M530.91,389.13L534.71,393.31M530.91,393.31L534.71,389.13"/><path d="M532.62,392.78H536.42M534.52,390.69V394.87M532.62,390.69L536.42,394.87M532.62,394.87L536.42,390.69"/><path d="M534.32,394.29H538.12M536.22,392.20V396.38M534.32,392.20L538.12,396.38M534.32,396.38L538.12,392.20"/><path d="M536.03,395.71H539.83M537.93,393.62V397.80M536.03,393.62L539.83,397.80M536.03,397.80L539.83,393.62"/><path d="M537.73,397.05H541.53M539.63,394.96V399.14M537.73,394.96L541.53,399.14M537.73,399.14L541.53,394.96"/><path d="M539.44,398.35H543.24M541.34,396.26V400.44M539.44,396.26L543.24,400.44M539.44,400.44L543.24,396.26"/><path d="M541.14,399.59H544.94M543.04,397.50V401.68M541.14,397.50L544.94,401.68M541.14,401.68L544.94,397.50"/><path d="M542.85,400.75H546.64M544.75,398.66V402.84M542.85,398.66L546.64,402.84M542.85,402.84L546.64,398.66"/><path d="M544.55,401.81H548.35M546.45,399.72V403.90M544.55,399.72L548.35,403.90M544.55,403.90L548.35,399.72"/><path d="M546.26,402.80H550.06M548.16,400.71V404.89M546.26,400.71L550.06,404.89M546.26,404.89L550.06,400.71"/><path d="M547.96,403.75H551.76M549.86,401.66V405.84M547.96,401.66L551.76,405.84M547.96,405.84L551.76,401.66"/><path d="M549.67,404.63H553.47M551.57,402.54V406.72M549.67,402.54L553.47,406.72M549.67,406.72L553.47,402.54"/><path d="M551.37,405.41H555.17M553.27,403.32V407.50M551.37,403.32L555.17,407.50M551.37,407.50L555.17,403.32"/><path d="M553.08,406.05H556.88M554.98,403.96V408.14M553.08,403.96L556.88,408.14M553.08,408.14L556.88,403.96"/><path d="M554.78,406.60H558.58M556.68,404.51V408.69M554.78,404.51L558.58,408.69M554.78,408.69L558.58,404.51"/><path d="M556.49,407.10H560.28M558.38,405.01V409.19M556.49,405.01L560.28,409.19M556.49,409.19L560.28,405.01"/><path d="M558.19,407.53H561.99M560.09,405.44V409.62M558.19,405.44L561.99,409.62M558.19,409.62L561.99,405.44"/><path d="M559.90,407.90H563.70M561.80,405.81V409.99M559.90,405.81L563.70,409.99M559.90,409.99L563.70,405.81"/><path d="M561.60,408.17H565.40M563.50,406.08V410.26M561.60,406.08L565.40,410.26M561.60,410.26L565.40,406.08"/><path d="M563.31,408.39H567.11M565.21,406.30V410.48M563.31,406.30L567.11,410.48M563.31,410.48L567.11,406.30"/><path d="M565.01,408.58H568.81M566.91,406.49V410.67M565.01,406.49L568.81,410.67M565.01,410.67L568.81,406.49"/><path d="M566.72,408.74H570.51M568.62,406.65V410.83M566.72,406.65L570.51,410.83M566.72,410.83L570.51,406.65"/><path d="M568.42,408.87H572.22M570.32,406.78V410.96M568.42,406.78L572.22,410.96M568.42,410.96L572.22,406.78"/><path d="M570.13,408.97H573.93M572.03,406.88V411.06M570.13,406.88L573.93,411.06M570.13,411.06L573.93,406.88"/><path d="M571.83,409.05H575.63M573.73,406.96V411.14M571.83,406.96L575.63,411.14M571.83,411.14L575.63,406.96"/><path d="M573.54,409.13H577.34M575.44,407.04V411.22M573.54,407.04L577.34,411.22M573.54,411.22L577.34,407.04"/><path d="M575.24,409.21H579.04M577.14,407.12V411.30M575.24,407.12L579.04,411.30M575.24,411.30L579.04,407.12"/><path d="M576.95,409.28H580.75M578.85,407.19V411.37M576.95,407.19L580.75,411.37M576.95,411.37L580.75,407.19"/><path d="M578.65,409.34H582.45M580.55,407.25V411.43M578.65,407.25L582.45,411.43M578.65,411.43L582.45,407.25"/><path d="M580.36,409.39H584.16M582.26,407.30V411.48M580.36,407.30L584.16,411.48M580.36,411.48L584.16,407.30"/><path d="M582.06,409.44H585.86M583.96,407.35V411.53M582.06,407.35L585.86,411.53M582.06,411.53L585.86,407.35"/><path d="M583.77,409.47H587.57M585.67,407.38V411.56M583.77,407.38L587.57,411.56M583.77,411.56L587.57,407.38"/><path d="M585.47,409.49H589.27M587.37,407.40V411.58M585.47,407.40L589.27,411.58M585.47,411.58L589.27,407.40"/><path d="M587.18,409.50H590.98M589.08,407.41V411.59M587.18,407.41L590.98,411.59M587.18,411.59L590.98,407.41"/><path d="M588.88,409.50H592.68M590.78,407.41V411.59M588.88,407.41L592.68,411.59M588.88,411.59L592.68,407.41"/><path d="M590.59,409.50H594.38M592.49,407.41V411.59M590.59,407.41L594.38,411.59M590.59,411.59L594.38,407.41"/><path d="M592.29,409.50H596.09M594.19,407.41V411.59M592.29,407.41L596.09,411.59M592.29,411.59L596.09,407.41"/><path d="M594.00,409.50H597.79M595.89,407.41V411.59M594.00,407.41L597.79,411.59M594.00,411.59L597.79,407.41"/><path d="M595.70,409.50H599.50M597.60,407.41V411.59M595.70,407.41L599.50,411.59M595.70,411.59L599.50,407.41"/><path d="M597.41,409.50H601.21M599.31,407.41V411.59M597.41,407.41L601.21,411.59M597.41,411.59L601.21,407.41"/><path d="M599.11,409.50H602.91M601.01,407.41V411.59M599.11,407.41L602.91,411.59M599.11,411.59L602.91,407.41"/><path d="M600.82,409.50H604.62M602.72,407.41V411.59M600.82,407.41L604.62,411.59M600.82,411.59L604.62,407.41"/><path d="M602.52,409.50H606.32M604.42,407.41V411.59M602.52,407.41L606.32,411.59M602.52,411.59L606.32,407.41"/><path d="M604.23,409.50H608.02M606.12,407.41V411.59M604.23,407.41L608.02,411.59M604.23,411.59L608.02,407.41"/><path d="M605.93,409.50H609.73M607.83,407.41V411.59M605.93,407.41L609.73,411.59M605.93,411.59L609.73,407.41"/><path d="M607.64,409.50H611.44M609.54,407.41V411.59M607.64,407.41L611.44,411.59M607.64,411.59L611.44,407.41"/><path d="M609.34,409.50H613.14M611.24,407.41V411.59M609.34,407.41L613.14,411.59M609.34,411.59L613.14,407.41"/><path d="M611.05,409.50H614.85M612.95,407.41V411.59M611.05,407.41L614.85,411.59M611.05,411.59L614.85,407.41"/><path d="M612.75,409.50H616.55M614.65,407.41V411.59M612.75,407.41L616.55,411.59M612.75,411.59L616.55,407.41"/><path d="M614.46,409.50H618.25M616.36,407.41V411.59M614.46,407.41L618.25,411.59M614.46,411.59L618.25,407.41"/><path d="M616.16,409.50H619.96M618.06,407.41V411.59M616.16,407.41L619.96,411.59M616.16,411.59L619.96,407.41"/><path d="M617.87,409.50H621.67M619.77,407.41V411.59M617.87,407.41L621.67,411.59M617.87,411.59L621.67,407.41"/><path d="M619.57,409.50H623.37M621.47,407.41V411.59M619.57,407.41L623.37,411.59M619.57,411.59L623.37,407.41"/><path d="M621.28,409.50H625.08M623.18,407.41V411.59M621.28,407.41L625.08,411.59M621.28,411.59L625.08,407.41"/><path d="M622.98,409.50H626.78M624.88,407.41V411.59M622.98,407.41L626.78,411.59M622.98,411.59L626.78,407.41"/><path d="M624.69,409.50H628.49M626.59,407.41V411.59M624.69,407.41L628.49,411.59M624.69,411.59L628.49,407.41"/><path d="M626.39,409.50H630.19M628.29,407.41V411.59M626.39,407.41L630.19,411.59M626.39,411.59L630.19,407.41"/><path d="M628.10,409.50H631.90M630.00,407.41V411.59M628.10,407.41L631.90,411.59M628.10,411.59L631.90,407.41"/><path d="M629.80,409.50H633.60M631.70,407.41V411.59M629.80,407.41L633.60,411.59M629.80,411.59L633.60,407.41"/></g></g>
<g stroke="#000" stroke-opacity="0.72" fill="none" stroke-width="0.95"><rect x="427.1" y="250.4" width="204.60000000000002" height="159.1"/></g>
</svg>
</body></html>
